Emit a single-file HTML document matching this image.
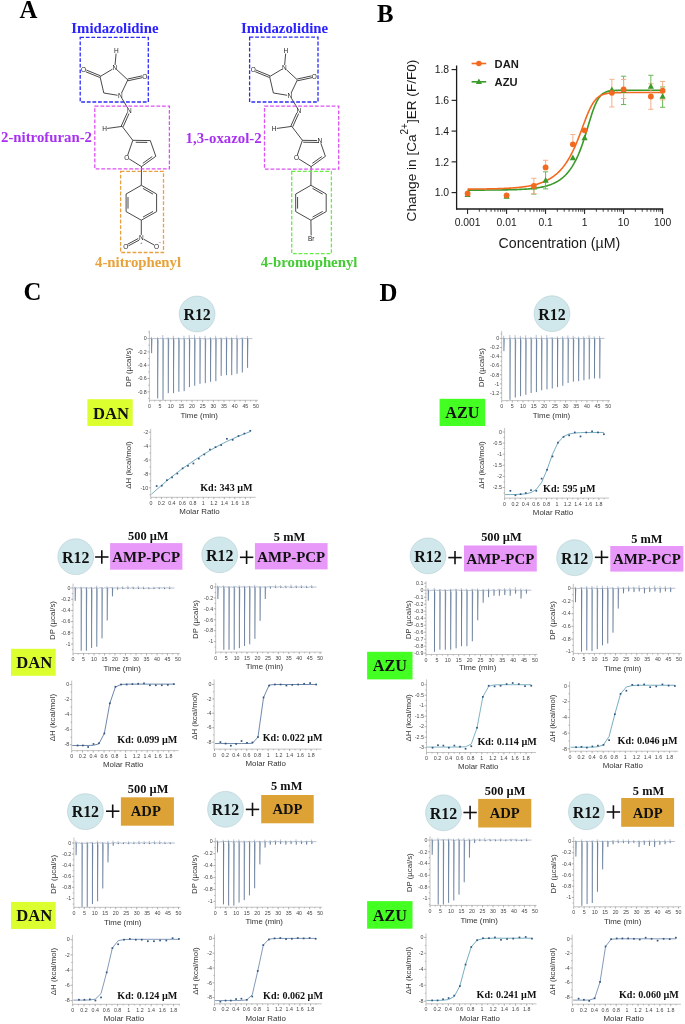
<!DOCTYPE html><html><head><meta charset="utf-8"><style>html,body{margin:0;padding:0;background:#fff;}svg{display:block;will-change:transform}</style></head><body>
<svg width="685" height="1024" viewBox="0 0 685 1024">
<rect width="685" height="1024" fill="#fff"/>
<text x="19.6" y="17.5" font-family='"Liberation Serif", serif' font-size="24.8" font-weight="bold" fill="#000" text-anchor="start" >A</text>
<text x="377" y="21.8" font-family='"Liberation Serif", serif' font-size="24.8" font-weight="bold" fill="#000" text-anchor="start" >B</text>
<text x="23.6" y="299.8" font-family='"Liberation Serif", serif' font-size="24.8" font-weight="bold" fill="#000" text-anchor="start" >C</text>
<text x="379.6" y="301.1" font-family='"Liberation Serif", serif' font-size="24.8" font-weight="bold" fill="#000" text-anchor="start" >D</text>
<text x="71.3" y="32.6" font-family='"Liberation Serif", serif' font-size="14.8" font-weight="bold" fill="#2b22ff" text-anchor="start" >Imidazolidine</text>
<text x="241" y="32.7" font-family='"Liberation Serif", serif' font-size="14.8" font-weight="bold" fill="#2b22ff" text-anchor="start" >Imidazolidine</text>
<text x="1" y="142.3" font-family='"Liberation Serif", serif' font-size="14.8" font-weight="bold" fill="#a830f0" text-anchor="start" >2-nitrofuran-2</text>
<text x="185.6" y="142.7" font-family='"Liberation Serif", serif' font-size="14.8" font-weight="bold" fill="#a830f0" text-anchor="start" >1,3-oxazol-2</text>
<text x="95" y="266.9" font-family='"Liberation Serif", serif' font-size="14.8" font-weight="bold" fill="#e8a23a" text-anchor="start" >4-nitrophenyl</text>
<text x="260.7" y="267" font-family='"Liberation Serif", serif' font-size="14.8" font-weight="bold" fill="#44cc33" text-anchor="start" >4-bromophenyl</text>
<text x="116.3" y="53.34" font-family='"Liberation Sans", sans-serif' font-size="6.5" font-weight="normal" fill="#222" text-anchor="middle" >H</text>
<text x="114.8" y="70.14" font-family='"Liberation Sans", sans-serif' font-size="6.5" font-weight="normal" fill="#222" text-anchor="middle" >N</text>
<text x="83.6" y="72.24" font-family='"Liberation Sans", sans-serif' font-size="6.5" font-weight="normal" fill="#222" text-anchor="middle" >O</text>
<text x="144.8" y="78.54" font-family='"Liberation Sans", sans-serif' font-size="6.5" font-weight="normal" fill="#222" text-anchor="middle" >O</text>
<text x="120.3" y="98.04" font-family='"Liberation Sans", sans-serif' font-size="6.5" font-weight="normal" fill="#222" text-anchor="middle" >N</text>
<line x1="116.07" y1="53.59" x2="115.05" y2="65.01" stroke="#303030" stroke-width="0.88" />
<line x1="112.39" y1="69.23" x2="100" y2="76.6" stroke="#303030" stroke-width="0.88" />
<line x1="116.85" y1="69.71" x2="127.8" y2="79.9" stroke="#303030" stroke-width="0.88" />
<line x1="100.34" y1="75.77" x2="86.35" y2="70.05" stroke="#303030" stroke-width="0.88" />
<line x1="99.66" y1="77.43" x2="85.67" y2="71.72" stroke="#303030" stroke-width="0.88" />
<line x1="127.99" y1="80.78" x2="142.45" y2="77.63" stroke="#303030" stroke-width="0.88" />
<line x1="127.61" y1="79.02" x2="142.07" y2="75.87" stroke="#303030" stroke-width="0.88" />
<line x1="100" y1="76.6" x2="103.8" y2="93" stroke="#303030" stroke-width="0.88" />
<line x1="103.8" y1="93" x2="117.54" y2="95.25" stroke="#303030" stroke-width="0.88" />
<line x1="127.8" y1="79.9" x2="121.5" y2="93.17" stroke="#303030" stroke-width="0.88" />
<text x="129.3" y="112.94" font-family='"Liberation Sans", sans-serif' font-size="6.5" font-weight="normal" fill="#222" text-anchor="middle" >N</text>
<text x="104.6" y="131.14" font-family='"Liberation Sans", sans-serif' font-size="6.5" font-weight="normal" fill="#222" text-anchor="middle" >H</text>
<line x1="121.75" y1="98.1" x2="127.85" y2="108.2" stroke="#303030" stroke-width="0.88" />
<line x1="127.24" y1="112.74" x2="121.29" y2="125.99" stroke="#303030" stroke-width="0.88" />
<line x1="129.06" y1="113.56" x2="123.11" y2="126.81" stroke="#303030" stroke-width="0.88" />
<line x1="122.2" y1="126.4" x2="107.18" y2="128.45" stroke="#303030" stroke-width="0.88" />
<line x1="122.2" y1="126.4" x2="132.8" y2="140.3" stroke="#303030" stroke-width="0.88" />
<text x="126.9" y="159.84" font-family='"Liberation Sans", sans-serif' font-size="6.5" font-weight="normal" fill="#222" text-anchor="middle" >O</text>
<line x1="132.8" y1="140.3" x2="150.3" y2="140.6" stroke="#303030" stroke-width="0.88" />
<line x1="135.74" y1="142.25" x2="147.29" y2="142.45" stroke="#303030" stroke-width="0.88" />
<line x1="150.3" y1="140.6" x2="155.8" y2="156.3" stroke="#303030" stroke-width="0.88" />
<line x1="155.8" y1="156.3" x2="141.5" y2="166.6" stroke="#303030" stroke-width="0.88" />
<line x1="152.26" y1="156.51" x2="142.82" y2="163.31" stroke="#303030" stroke-width="0.88" />
<line x1="141.5" y1="166.6" x2="129.11" y2="158.88" stroke="#303030" stroke-width="0.88" />
<line x1="127.74" y1="155.04" x2="132.8" y2="140.3" stroke="#303030" stroke-width="0.88" />
<line x1="141.5" y1="166.6" x2="141.3" y2="185.3" stroke="#303030" stroke-width="0.88" />
<line x1="141.3" y1="185.3" x2="156.6" y2="194" stroke="#303030" stroke-width="0.88" />
<line x1="156.6" y1="194" x2="156.6" y2="211.6" stroke="#303030" stroke-width="0.88" />
<line x1="156.6" y1="211.6" x2="141.3" y2="220.2" stroke="#303030" stroke-width="0.88" />
<line x1="141.3" y1="220.2" x2="126.1" y2="211.6" stroke="#303030" stroke-width="0.88" />
<line x1="126.1" y1="211.6" x2="126.1" y2="194" stroke="#303030" stroke-width="0.88" />
<line x1="126.1" y1="194" x2="141.3" y2="185.3" stroke="#303030" stroke-width="0.88" />
<line x1="142.96" y1="188.43" x2="153.06" y2="194.17" stroke="#303030" stroke-width="0.88" />
<line x1="153.07" y1="211.41" x2="142.97" y2="217.08" stroke="#303030" stroke-width="0.88" />
<line x1="128" y1="208.61" x2="128" y2="196.99" stroke="#303030" stroke-width="0.88" />
<line x1="141.3" y1="220.2" x2="141.3" y2="234.9" stroke="#303030" stroke-width="0.88" />
<text x="141.3" y="240.24" font-family='"Liberation Sans", sans-serif' font-size="6.5" font-weight="normal" fill="#222" text-anchor="middle" >N</text>
<text x="125.7" y="248.64" font-family='"Liberation Sans", sans-serif' font-size="6.5" font-weight="normal" fill="#222" text-anchor="middle" >O</text>
<text x="156.5" y="248.64" font-family='"Liberation Sans", sans-serif' font-size="6.5" font-weight="normal" fill="#222" text-anchor="middle" >O</text>
<text x="141.3" y="243.9" font-family='"Liberation Sans", sans-serif' font-size="4.2" font-weight="normal" fill="#333" text-anchor="middle" >+</text>
<text x="159.9" y="244.3" font-family='"Liberation Sans", sans-serif' font-size="4.2" font-weight="normal" fill="#333" text-anchor="middle" >−</text>
<line x1="138.32" y1="238.48" x2="127.56" y2="244.27" stroke="#303030" stroke-width="0.88" />
<line x1="139.17" y1="240.07" x2="128.42" y2="245.86" stroke="#303030" stroke-width="0.88" />
<line x1="143.84" y1="239.3" x2="154.22" y2="245.04" stroke="#303030" stroke-width="0.88" />
<text x="285.9" y="53.34" font-family='"Liberation Sans", sans-serif' font-size="6.5" font-weight="normal" fill="#222" text-anchor="middle" >H</text>
<text x="284.4" y="70.14" font-family='"Liberation Sans", sans-serif' font-size="6.5" font-weight="normal" fill="#222" text-anchor="middle" >N</text>
<text x="253.2" y="72.24" font-family='"Liberation Sans", sans-serif' font-size="6.5" font-weight="normal" fill="#222" text-anchor="middle" >O</text>
<text x="314.4" y="78.54" font-family='"Liberation Sans", sans-serif' font-size="6.5" font-weight="normal" fill="#222" text-anchor="middle" >O</text>
<text x="289.9" y="98.04" font-family='"Liberation Sans", sans-serif' font-size="6.5" font-weight="normal" fill="#222" text-anchor="middle" >N</text>
<line x1="285.67" y1="53.59" x2="284.65" y2="65.01" stroke="#303030" stroke-width="0.88" />
<line x1="281.99" y1="69.23" x2="269.6" y2="76.6" stroke="#303030" stroke-width="0.88" />
<line x1="286.45" y1="69.71" x2="297.4" y2="79.9" stroke="#303030" stroke-width="0.88" />
<line x1="269.94" y1="75.77" x2="255.95" y2="70.05" stroke="#303030" stroke-width="0.88" />
<line x1="269.26" y1="77.43" x2="255.27" y2="71.72" stroke="#303030" stroke-width="0.88" />
<line x1="297.59" y1="80.78" x2="312.05" y2="77.63" stroke="#303030" stroke-width="0.88" />
<line x1="297.21" y1="79.02" x2="311.67" y2="75.87" stroke="#303030" stroke-width="0.88" />
<line x1="269.6" y1="76.6" x2="273.4" y2="93" stroke="#303030" stroke-width="0.88" />
<line x1="273.4" y1="93" x2="287.14" y2="95.25" stroke="#303030" stroke-width="0.88" />
<line x1="297.4" y1="79.9" x2="291.1" y2="93.17" stroke="#303030" stroke-width="0.88" />
<text x="298.9" y="112.94" font-family='"Liberation Sans", sans-serif' font-size="6.5" font-weight="normal" fill="#222" text-anchor="middle" >N</text>
<text x="274.2" y="131.14" font-family='"Liberation Sans", sans-serif' font-size="6.5" font-weight="normal" fill="#222" text-anchor="middle" >H</text>
<line x1="291.35" y1="98.1" x2="297.45" y2="108.2" stroke="#303030" stroke-width="0.88" />
<line x1="296.84" y1="112.74" x2="290.89" y2="125.99" stroke="#303030" stroke-width="0.88" />
<line x1="298.66" y1="113.56" x2="292.71" y2="126.81" stroke="#303030" stroke-width="0.88" />
<line x1="291.8" y1="126.4" x2="276.78" y2="128.45" stroke="#303030" stroke-width="0.88" />
<line x1="291.8" y1="126.4" x2="302.4" y2="140.3" stroke="#303030" stroke-width="0.88" />
<text x="296.5" y="159.84" font-family='"Liberation Sans", sans-serif' font-size="6.5" font-weight="normal" fill="#222" text-anchor="middle" >O</text>
<text x="319.9" y="142.94" font-family='"Liberation Sans", sans-serif' font-size="6.5" font-weight="normal" fill="#222" text-anchor="middle" >N</text>
<line x1="302.4" y1="140.3" x2="317.1" y2="140.55" stroke="#303030" stroke-width="0.88" />
<line x1="303.24" y1="142.21" x2="318.99" y2="142.48" stroke="#303030" stroke-width="0.88" />
<line x1="303.4" y1="142" x2="317.1" y2="142.3" stroke="#303030" stroke-width="0" />
<line x1="320.83" y1="143.24" x2="325.4" y2="156.3" stroke="#303030" stroke-width="0.88" />
<line x1="325.4" y1="156.3" x2="311.1" y2="166.6" stroke="#303030" stroke-width="0.88" />
<line x1="321.86" y1="156.51" x2="312.42" y2="163.31" stroke="#303030" stroke-width="0.88" />
<line x1="311.1" y1="166.6" x2="298.71" y2="158.88" stroke="#303030" stroke-width="0.88" />
<line x1="297.34" y1="155.04" x2="302.4" y2="140.3" stroke="#303030" stroke-width="0.88" />
<line x1="311.1" y1="166.6" x2="310.9" y2="185.3" stroke="#303030" stroke-width="0.88" />
<line x1="310.9" y1="185.3" x2="326.2" y2="194" stroke="#303030" stroke-width="0.88" />
<line x1="326.2" y1="194" x2="326.2" y2="211.6" stroke="#303030" stroke-width="0.88" />
<line x1="326.2" y1="211.6" x2="310.9" y2="220.2" stroke="#303030" stroke-width="0.88" />
<line x1="310.9" y1="220.2" x2="295.7" y2="211.6" stroke="#303030" stroke-width="0.88" />
<line x1="295.7" y1="211.6" x2="295.7" y2="194" stroke="#303030" stroke-width="0.88" />
<line x1="295.7" y1="194" x2="310.9" y2="185.3" stroke="#303030" stroke-width="0.88" />
<line x1="312.56" y1="188.43" x2="322.66" y2="194.17" stroke="#303030" stroke-width="0.88" />
<line x1="322.67" y1="211.41" x2="312.57" y2="217.08" stroke="#303030" stroke-width="0.88" />
<line x1="297.6" y1="208.61" x2="297.6" y2="196.99" stroke="#303030" stroke-width="0.88" />
<line x1="310.9" y1="220.2" x2="311.15" y2="235.4" stroke="#303030" stroke-width="0.88" />
<text x="311.2" y="241.14" font-family='"Liberation Sans", sans-serif' font-size="6.5" font-weight="normal" fill="#222" text-anchor="middle" >Br</text>
<rect x="80.2" y="37.4" width="68.1" height="64.6" fill="none" stroke="#2c2cfa" stroke-width="1.3" stroke-dasharray="3.8 1.8"/>
<rect x="249.6" y="37.2" width="68.4" height="64.8" fill="none" stroke="#2c2cfa" stroke-width="1.3" stroke-dasharray="3.8 1.8"/>
<rect x="94.8" y="106.2" width="74.6" height="62.7" fill="none" stroke="#dc52f4" stroke-width="1.3" stroke-dasharray="3.8 1.8"/>
<rect x="264.5" y="106.2" width="74.2" height="63" fill="none" stroke="#dc52f4" stroke-width="1.3" stroke-dasharray="3.8 1.8"/>
<rect x="120.6" y="171.4" width="42.9" height="81.1" fill="none" stroke="#e8a040" stroke-width="1.3" stroke-dasharray="3.8 1.8"/>
<rect x="291.7" y="171.3" width="39.7" height="82.4" fill="none" stroke="#66ee44" stroke-width="1.3" stroke-dasharray="3.8 1.8"/>
<line x1="456.6" y1="65.5" x2="456.6" y2="209.6" stroke="#1a1a1a" stroke-width="1.3" />
<line x1="456" y1="209" x2="663.2" y2="209" stroke="#1a1a1a" stroke-width="1.3" />
<line x1="451.6" y1="192.6" x2="456.6" y2="192.6" stroke="#1a1a1a" stroke-width="1.1" />
<text x="449.1" y="196.3" font-family='"Liberation Sans", sans-serif' font-size="10.4" font-weight="normal" fill="#1a1a1a" text-anchor="end" >1.0</text>
<line x1="451.6" y1="161.85" x2="456.6" y2="161.85" stroke="#1a1a1a" stroke-width="1.1" />
<text x="449.1" y="165.55" font-family='"Liberation Sans", sans-serif' font-size="10.4" font-weight="normal" fill="#1a1a1a" text-anchor="end" >1.2</text>
<line x1="451.6" y1="131.1" x2="456.6" y2="131.1" stroke="#1a1a1a" stroke-width="1.1" />
<text x="449.1" y="134.8" font-family='"Liberation Sans", sans-serif' font-size="10.4" font-weight="normal" fill="#1a1a1a" text-anchor="end" >1.4</text>
<line x1="451.6" y1="100.35" x2="456.6" y2="100.35" stroke="#1a1a1a" stroke-width="1.1" />
<text x="449.1" y="104.05" font-family='"Liberation Sans", sans-serif' font-size="10.4" font-weight="normal" fill="#1a1a1a" text-anchor="end" >1.6</text>
<line x1="451.6" y1="69.6" x2="456.6" y2="69.6" stroke="#1a1a1a" stroke-width="1.1" />
<text x="449.1" y="73.3" font-family='"Liberation Sans", sans-serif' font-size="10.4" font-weight="normal" fill="#1a1a1a" text-anchor="end" >1.8</text>
<line x1="467.6" y1="209" x2="467.6" y2="214" stroke="#1a1a1a" stroke-width="1" />
<line x1="479.34" y1="209" x2="479.34" y2="211.8" stroke="#1a1a1a" stroke-width="0.8" />
<line x1="486.21" y1="209" x2="486.21" y2="211.8" stroke="#1a1a1a" stroke-width="0.8" />
<line x1="491.08" y1="209" x2="491.08" y2="211.8" stroke="#1a1a1a" stroke-width="0.8" />
<line x1="494.86" y1="209" x2="494.86" y2="211.8" stroke="#1a1a1a" stroke-width="0.8" />
<line x1="497.95" y1="209" x2="497.95" y2="211.8" stroke="#1a1a1a" stroke-width="0.8" />
<line x1="500.56" y1="209" x2="500.56" y2="211.8" stroke="#1a1a1a" stroke-width="0.8" />
<line x1="502.82" y1="209" x2="502.82" y2="211.8" stroke="#1a1a1a" stroke-width="0.8" />
<line x1="504.82" y1="209" x2="504.82" y2="211.8" stroke="#1a1a1a" stroke-width="0.8" />
<line x1="506.6" y1="209" x2="506.6" y2="214" stroke="#1a1a1a" stroke-width="1" />
<line x1="518.34" y1="209" x2="518.34" y2="211.8" stroke="#1a1a1a" stroke-width="0.8" />
<line x1="525.21" y1="209" x2="525.21" y2="211.8" stroke="#1a1a1a" stroke-width="0.8" />
<line x1="530.08" y1="209" x2="530.08" y2="211.8" stroke="#1a1a1a" stroke-width="0.8" />
<line x1="533.86" y1="209" x2="533.86" y2="211.8" stroke="#1a1a1a" stroke-width="0.8" />
<line x1="536.95" y1="209" x2="536.95" y2="211.8" stroke="#1a1a1a" stroke-width="0.8" />
<line x1="539.56" y1="209" x2="539.56" y2="211.8" stroke="#1a1a1a" stroke-width="0.8" />
<line x1="541.82" y1="209" x2="541.82" y2="211.8" stroke="#1a1a1a" stroke-width="0.8" />
<line x1="543.82" y1="209" x2="543.82" y2="211.8" stroke="#1a1a1a" stroke-width="0.8" />
<line x1="545.6" y1="209" x2="545.6" y2="214" stroke="#1a1a1a" stroke-width="1" />
<line x1="557.34" y1="209" x2="557.34" y2="211.8" stroke="#1a1a1a" stroke-width="0.8" />
<line x1="564.21" y1="209" x2="564.21" y2="211.8" stroke="#1a1a1a" stroke-width="0.8" />
<line x1="569.08" y1="209" x2="569.08" y2="211.8" stroke="#1a1a1a" stroke-width="0.8" />
<line x1="572.86" y1="209" x2="572.86" y2="211.8" stroke="#1a1a1a" stroke-width="0.8" />
<line x1="575.95" y1="209" x2="575.95" y2="211.8" stroke="#1a1a1a" stroke-width="0.8" />
<line x1="578.56" y1="209" x2="578.56" y2="211.8" stroke="#1a1a1a" stroke-width="0.8" />
<line x1="580.82" y1="209" x2="580.82" y2="211.8" stroke="#1a1a1a" stroke-width="0.8" />
<line x1="582.82" y1="209" x2="582.82" y2="211.8" stroke="#1a1a1a" stroke-width="0.8" />
<line x1="584.6" y1="209" x2="584.6" y2="214" stroke="#1a1a1a" stroke-width="1" />
<line x1="596.34" y1="209" x2="596.34" y2="211.8" stroke="#1a1a1a" stroke-width="0.8" />
<line x1="603.21" y1="209" x2="603.21" y2="211.8" stroke="#1a1a1a" stroke-width="0.8" />
<line x1="608.08" y1="209" x2="608.08" y2="211.8" stroke="#1a1a1a" stroke-width="0.8" />
<line x1="611.86" y1="209" x2="611.86" y2="211.8" stroke="#1a1a1a" stroke-width="0.8" />
<line x1="614.95" y1="209" x2="614.95" y2="211.8" stroke="#1a1a1a" stroke-width="0.8" />
<line x1="617.56" y1="209" x2="617.56" y2="211.8" stroke="#1a1a1a" stroke-width="0.8" />
<line x1="619.82" y1="209" x2="619.82" y2="211.8" stroke="#1a1a1a" stroke-width="0.8" />
<line x1="621.82" y1="209" x2="621.82" y2="211.8" stroke="#1a1a1a" stroke-width="0.8" />
<line x1="623.6" y1="209" x2="623.6" y2="214" stroke="#1a1a1a" stroke-width="1" />
<line x1="635.34" y1="209" x2="635.34" y2="211.8" stroke="#1a1a1a" stroke-width="0.8" />
<line x1="642.21" y1="209" x2="642.21" y2="211.8" stroke="#1a1a1a" stroke-width="0.8" />
<line x1="647.08" y1="209" x2="647.08" y2="211.8" stroke="#1a1a1a" stroke-width="0.8" />
<line x1="650.86" y1="209" x2="650.86" y2="211.8" stroke="#1a1a1a" stroke-width="0.8" />
<line x1="653.95" y1="209" x2="653.95" y2="211.8" stroke="#1a1a1a" stroke-width="0.8" />
<line x1="656.56" y1="209" x2="656.56" y2="211.8" stroke="#1a1a1a" stroke-width="0.8" />
<line x1="658.82" y1="209" x2="658.82" y2="211.8" stroke="#1a1a1a" stroke-width="0.8" />
<line x1="660.82" y1="209" x2="660.82" y2="211.8" stroke="#1a1a1a" stroke-width="0.8" />
<line x1="662.6" y1="209" x2="662.6" y2="214" stroke="#1a1a1a" stroke-width="1" />
<text x="467.6" y="226.4" font-family='"Liberation Sans", sans-serif' font-size="10.3" font-weight="normal" fill="#1a1a1a" text-anchor="middle" >0.001</text>
<text x="506.6" y="226.4" font-family='"Liberation Sans", sans-serif' font-size="10.3" font-weight="normal" fill="#1a1a1a" text-anchor="middle" >0.01</text>
<text x="545.6" y="226.4" font-family='"Liberation Sans", sans-serif' font-size="10.3" font-weight="normal" fill="#1a1a1a" text-anchor="middle" >0.1</text>
<text x="584.6" y="226.4" font-family='"Liberation Sans", sans-serif' font-size="10.3" font-weight="normal" fill="#1a1a1a" text-anchor="middle" >1</text>
<text x="623.6" y="226.4" font-family='"Liberation Sans", sans-serif' font-size="10.3" font-weight="normal" fill="#1a1a1a" text-anchor="middle" >10</text>
<text x="662.6" y="226.4" font-family='"Liberation Sans", sans-serif' font-size="10.3" font-weight="normal" fill="#1a1a1a" text-anchor="middle" >100</text>
<text x="559.4" y="247.6" font-family='"Liberation Sans", sans-serif' font-size="14.2" font-weight="normal" fill="#1a1a1a" text-anchor="middle" >Concentration (µM)</text>
<g transform="translate(416.0,140.5) rotate(-90)"><text x="0" y="0" font-family='"Liberation Sans", sans-serif' font-size="13.6" fill="#1a1a1a" text-anchor="middle">Change in [Ca<tspan font-size="10" dy="-8.3">2+</tspan><tspan dy="8.3">]ER (F/F0)</tspan></text></g>
<path d="M467.6 190.12 L468.58 190.12 L469.55 190.12 L470.53 190.11 L471.5 190.11 L472.48 190.11 L473.45 190.11 L474.43 190.11 L475.4 190.1 L476.38 190.1 L477.35 190.1 L478.33 190.1 L479.3 190.09 L480.28 190.09 L481.25 190.09 L482.23 190.08 L483.2 190.08 L484.18 190.08 L485.15 190.07 L486.12 190.07 L487.1 190.06 L488.08 190.06 L489.05 190.05 L490.03 190.05 L491 190.04 L491.98 190.03 L492.95 190.03 L493.93 190.02 L494.9 190.01 L495.88 190 L496.85 189.99 L497.83 189.98 L498.8 189.97 L499.78 189.96 L500.75 189.95 L501.73 189.93 L502.7 189.92 L503.68 189.9 L504.65 189.89 L505.62 189.87 L506.6 189.85 L507.58 189.83 L508.55 189.81 L509.53 189.79 L510.5 189.77 L511.48 189.74 L512.45 189.72 L513.43 189.69 L514.4 189.66 L515.38 189.62 L516.35 189.59 L517.33 189.55 L518.3 189.51 L519.27 189.47 L520.25 189.42 L521.23 189.37 L522.2 189.32 L523.18 189.27 L524.15 189.21 L525.12 189.14 L526.1 189.08 L527.08 189 L528.05 188.93 L529.02 188.84 L530 188.76 L530.98 188.66 L531.95 188.56 L532.93 188.46 L533.9 188.34 L534.88 188.22 L535.85 188.09 L536.83 187.95 L537.8 187.8 L538.77 187.64 L539.75 187.47 L540.73 187.29 L541.7 187.1 L542.68 186.89 L543.65 186.67 L544.62 186.44 L545.6 186.19 L546.58 185.92 L547.55 185.63 L548.52 185.33 L549.5 185 L550.48 184.65 L551.45 184.28 L552.43 183.88 L553.4 183.46 L554.38 183 L555.35 182.52 L556.33 182 L557.3 181.45 L558.27 180.86 L559.25 180.23 L560.23 179.56 L561.2 178.84 L562.18 178.08 L563.15 177.26 L564.12 176.39 L565.1 175.46 L566.08 174.46 L567.05 173.4 L568.02 172.27 L569 171.06 L569.98 169.78 L570.95 168.4 L571.93 166.94 L572.9 165.38 L573.88 163.72 L574.85 161.95 L575.83 160.07 L576.8 158.07 L577.77 155.96 L578.75 153.71 L579.73 151.34 L580.7 148.84 L581.68 146.2 L582.65 143.44 L583.62 140.56 L584.6 137.57 L585.58 134.48 L586.55 131.31 L587.52 128.09 L588.5 124.84 L589.48 121.6 L590.45 118.42 L591.43 115.32 L592.4 112.35 L593.38 109.55 L594.35 106.95 L595.33 104.56 L596.3 102.42 L597.27 100.51 L598.25 98.83 L599.23 97.39 L600.2 96.15 L601.18 95.1 L602.15 94.22 L603.12 93.48 L604.1 92.87 L605.08 92.37 L606.05 91.96 L607.02 91.63 L608 91.35 L608.98 91.13 L609.95 90.95 L610.93 90.81 L611.9 90.69 L612.88 90.6 L613.85 90.52 L614.83 90.46 L615.8 90.41 L616.77 90.37 L617.75 90.33 L618.73 90.31 L619.7 90.29 L620.68 90.27 L621.65 90.26 L622.62 90.25 L623.6 90.24 L624.58 90.23 L625.55 90.23 L626.52 90.22 L627.5 90.22 L628.48 90.21 L629.45 90.21 L630.43 90.21 L631.4 90.21 L632.38 90.21 L633.35 90.21 L634.33 90.21 L635.3 90.21 L636.27 90.2 L637.25 90.2 L638.23 90.2 L639.2 90.2 L640.18 90.2 L641.15 90.2 L642.12 90.2 L643.1 90.2 L644.08 90.2 L645.05 90.2 L646.02 90.2 L647 90.2 L647.98 90.2 L648.95 90.2 L649.92 90.2 L650.9 90.2 L651.88 90.2 L652.85 90.2 L653.83 90.2 L654.8 90.2 L655.78 90.2 L656.75 90.2 L657.73 90.2 L658.7 90.2 L659.67 90.2 L660.65 90.2 L661.62 90.2 L662.6 90.2" stroke="#3a9a2a" stroke-width="1.6" fill="none" />
<path d="M467.6 189.12 L468.58 189.11 L469.55 189.11 L470.53 189.1 L471.5 189.09 L472.48 189.09 L473.45 189.08 L474.43 189.07 L475.4 189.06 L476.38 189.05 L477.35 189.05 L478.33 189.04 L479.3 189.03 L480.28 189.01 L481.25 189 L482.23 188.99 L483.2 188.98 L484.18 188.96 L485.15 188.95 L486.12 188.93 L487.1 188.92 L488.08 188.9 L489.05 188.88 L490.03 188.86 L491 188.84 L491.98 188.82 L492.95 188.8 L493.93 188.78 L494.9 188.75 L495.88 188.73 L496.85 188.7 L497.83 188.67 L498.8 188.64 L499.78 188.6 L500.75 188.57 L501.73 188.53 L502.7 188.49 L503.68 188.45 L504.65 188.41 L505.62 188.36 L506.6 188.31 L507.58 188.26 L508.55 188.21 L509.53 188.15 L510.5 188.09 L511.48 188.03 L512.45 187.96 L513.43 187.89 L514.4 187.81 L515.38 187.73 L516.35 187.65 L517.33 187.56 L518.3 187.46 L519.27 187.36 L520.25 187.26 L521.23 187.15 L522.2 187.03 L523.18 186.91 L524.15 186.77 L525.12 186.63 L526.1 186.49 L527.08 186.33 L528.05 186.17 L529.02 186 L530 185.81 L530.98 185.62 L531.95 185.41 L532.93 185.2 L533.9 184.97 L534.88 184.73 L535.85 184.47 L536.83 184.2 L537.8 183.92 L538.77 183.62 L539.75 183.3 L540.73 182.96 L541.7 182.61 L542.68 182.23 L543.65 181.84 L544.62 181.42 L545.6 180.98 L546.58 180.51 L547.55 180.01 L548.52 179.49 L549.5 178.94 L550.48 178.35 L551.45 177.74 L552.43 177.08 L553.4 176.4 L554.38 175.67 L555.35 174.9 L556.33 174.09 L557.3 173.23 L558.27 172.33 L559.25 171.37 L560.23 170.36 L561.2 169.29 L562.18 168.17 L563.15 166.98 L564.12 165.73 L565.1 164.4 L566.08 163.01 L567.05 161.54 L568.02 160 L569 158.37 L569.98 156.67 L570.95 154.87 L571.93 152.99 L572.9 151.02 L573.88 148.96 L574.85 146.81 L575.83 144.57 L576.8 142.25 L577.77 139.85 L578.75 137.38 L579.73 134.84 L580.7 132.25 L581.68 129.63 L582.65 126.98 L583.62 124.34 L584.6 121.72 L585.58 119.14 L586.55 116.63 L587.52 114.21 L588.5 111.9 L589.48 109.72 L590.45 107.69 L591.43 105.81 L592.4 104.1 L593.38 102.55 L594.35 101.17 L595.33 99.94 L596.3 98.85 L597.27 97.91 L598.25 97.09 L599.23 96.38 L600.2 95.78 L601.18 95.26 L602.15 94.82 L603.12 94.45 L604.1 94.14 L605.08 93.87 L606.05 93.65 L607.02 93.46 L608 93.3 L608.98 93.17 L609.95 93.06 L610.93 92.97 L611.9 92.89 L612.88 92.83 L613.85 92.77 L614.83 92.73 L615.8 92.69 L616.77 92.66 L617.75 92.64 L618.73 92.61 L619.7 92.6 L620.68 92.58 L621.65 92.57 L622.62 92.56 L623.6 92.55 L624.58 92.54 L625.55 92.54 L626.52 92.53 L627.5 92.53 L628.48 92.53 L629.45 92.52 L630.43 92.52 L631.4 92.52 L632.38 92.52 L633.35 92.52 L634.33 92.51 L635.3 92.51 L636.27 92.51 L637.25 92.51 L638.23 92.51 L639.2 92.51 L640.18 92.51 L641.15 92.51 L642.12 92.51 L643.1 92.51 L644.08 92.51 L645.05 92.51 L646.02 92.51 L647 92.51 L647.98 92.51 L648.95 92.51 L649.92 92.51 L650.9 92.51 L651.88 92.51 L652.85 92.51 L653.83 92.51 L654.8 92.51 L655.78 92.51 L656.75 92.51 L657.73 92.51 L658.7 92.51 L659.67 92.51 L660.65 92.51 L661.62 92.51 L662.6 92.51" stroke="#f26a1f" stroke-width="1.6" fill="none" />
<line x1="533.86" y1="187.22" x2="533.86" y2="194.14" stroke="#6ab85a" stroke-width="1" />
<line x1="531.26" y1="194.14" x2="536.46" y2="194.14" stroke="#6ab85a" stroke-width="1" />
<line x1="545.6" y1="180.45" x2="545.6" y2="171.84" stroke="#6ab85a" stroke-width="1" />
<line x1="543" y1="171.84" x2="548.2" y2="171.84" stroke="#6ab85a" stroke-width="1" />
<line x1="545.6" y1="180.45" x2="545.6" y2="188.91" stroke="#6ab85a" stroke-width="1" />
<line x1="543" y1="188.91" x2="548.2" y2="188.91" stroke="#6ab85a" stroke-width="1" />
<line x1="623.6" y1="90.66" x2="623.6" y2="76.21" stroke="#6ab85a" stroke-width="1" />
<line x1="621" y1="76.21" x2="626.2" y2="76.21" stroke="#6ab85a" stroke-width="1" />
<line x1="623.6" y1="90.66" x2="623.6" y2="104.5" stroke="#6ab85a" stroke-width="1" />
<line x1="621" y1="104.5" x2="626.2" y2="104.5" stroke="#6ab85a" stroke-width="1" />
<line x1="650.86" y1="86.51" x2="650.86" y2="75.29" stroke="#6ab85a" stroke-width="1" />
<line x1="648.26" y1="75.29" x2="653.46" y2="75.29" stroke="#6ab85a" stroke-width="1" />
<line x1="662.6" y1="96.51" x2="662.6" y2="86.97" stroke="#6ab85a" stroke-width="1" />
<line x1="660" y1="86.97" x2="665.2" y2="86.97" stroke="#6ab85a" stroke-width="1" />
<line x1="662.6" y1="96.51" x2="662.6" y2="107.27" stroke="#6ab85a" stroke-width="1" />
<line x1="660" y1="107.27" x2="665.2" y2="107.27" stroke="#6ab85a" stroke-width="1" />
<line x1="533.86" y1="185.99" x2="533.86" y2="178.3" stroke="#f5b08a" stroke-width="1" />
<line x1="531.26" y1="178.3" x2="536.46" y2="178.3" stroke="#f5b08a" stroke-width="1" />
<line x1="533.86" y1="185.99" x2="533.86" y2="193.68" stroke="#f5b08a" stroke-width="1" />
<line x1="531.26" y1="193.68" x2="536.46" y2="193.68" stroke="#f5b08a" stroke-width="1" />
<line x1="545.6" y1="167.38" x2="545.6" y2="160.31" stroke="#f5b08a" stroke-width="1" />
<line x1="543" y1="160.31" x2="548.2" y2="160.31" stroke="#f5b08a" stroke-width="1" />
<line x1="572.86" y1="144.32" x2="572.86" y2="134.48" stroke="#f5b08a" stroke-width="1" />
<line x1="570.26" y1="134.48" x2="575.46" y2="134.48" stroke="#f5b08a" stroke-width="1" />
<line x1="611.86" y1="92.82" x2="611.86" y2="79.29" stroke="#f5b08a" stroke-width="1" />
<line x1="609.26" y1="79.29" x2="614.46" y2="79.29" stroke="#f5b08a" stroke-width="1" />
<line x1="611.86" y1="92.82" x2="611.86" y2="106.96" stroke="#f5b08a" stroke-width="1" />
<line x1="609.26" y1="106.96" x2="614.46" y2="106.96" stroke="#f5b08a" stroke-width="1" />
<line x1="623.6" y1="89.28" x2="623.6" y2="79.44" stroke="#f5b08a" stroke-width="1" />
<line x1="621" y1="79.44" x2="626.2" y2="79.44" stroke="#f5b08a" stroke-width="1" />
<line x1="623.6" y1="89.28" x2="623.6" y2="98.51" stroke="#f5b08a" stroke-width="1" />
<line x1="621" y1="98.51" x2="626.2" y2="98.51" stroke="#f5b08a" stroke-width="1" />
<line x1="650.86" y1="96.51" x2="650.86" y2="83.75" stroke="#f5b08a" stroke-width="1" />
<line x1="648.26" y1="83.75" x2="653.46" y2="83.75" stroke="#f5b08a" stroke-width="1" />
<line x1="650.86" y1="96.51" x2="650.86" y2="109.27" stroke="#f5b08a" stroke-width="1" />
<line x1="648.26" y1="109.27" x2="653.46" y2="109.27" stroke="#f5b08a" stroke-width="1" />
<line x1="662.6" y1="90.66" x2="662.6" y2="81.44" stroke="#f5b08a" stroke-width="1" />
<line x1="660" y1="81.44" x2="665.2" y2="81.44" stroke="#f5b08a" stroke-width="1" />
<line x1="662.6" y1="90.66" x2="662.6" y2="99.89" stroke="#f5b08a" stroke-width="1" />
<line x1="660" y1="99.89" x2="665.2" y2="99.89" stroke="#f5b08a" stroke-width="1" />
<path d="M467.6 191.51 L470.7 197.11 L464.5 197.11 Z" stroke="none" stroke-width="1" fill="#3a9a2a" />
<path d="M506.6 193.04 L509.7 198.64 L503.5 198.64 Z" stroke="none" stroke-width="1" fill="#3a9a2a" />
<path d="M533.86 183.82 L536.96 189.42 L530.76 189.42 Z" stroke="none" stroke-width="1" fill="#3a9a2a" />
<path d="M545.6 177.05 L548.7 182.65 L542.5 182.65 Z" stroke="none" stroke-width="1" fill="#3a9a2a" />
<path d="M572.86 154.61 L575.96 160.21 L569.76 160.21 Z" stroke="none" stroke-width="1" fill="#3a9a2a" />
<path d="M584.6 134.62 L587.7 140.22 L581.5 140.22 Z" stroke="none" stroke-width="1" fill="#3a9a2a" />
<path d="M611.86 86.5 L614.96 92.1 L608.76 92.1 Z" stroke="none" stroke-width="1" fill="#3a9a2a" />
<path d="M623.6 87.26 L626.7 92.86 L620.5 92.86 Z" stroke="none" stroke-width="1" fill="#3a9a2a" />
<path d="M650.86 83.11 L653.96 88.71 L647.76 88.71 Z" stroke="none" stroke-width="1" fill="#3a9a2a" />
<path d="M662.6 93.11 L665.7 98.71 L659.5 98.71 Z" stroke="none" stroke-width="1" fill="#3a9a2a" />
<circle cx="467.6" cy="193.52" r="2.9" fill="#f26a1f"/>
<circle cx="506.6" cy="195.37" r="2.9" fill="#f26a1f"/>
<circle cx="533.86" cy="185.99" r="2.9" fill="#f26a1f"/>
<circle cx="545.6" cy="167.38" r="2.9" fill="#f26a1f"/>
<circle cx="572.86" cy="144.32" r="2.9" fill="#f26a1f"/>
<circle cx="584.6" cy="130.33" r="2.9" fill="#f26a1f"/>
<circle cx="611.86" cy="92.82" r="2.9" fill="#f26a1f"/>
<circle cx="623.6" cy="89.28" r="2.9" fill="#f26a1f"/>
<circle cx="650.86" cy="96.51" r="2.9" fill="#f26a1f"/>
<circle cx="662.6" cy="90.66" r="2.9" fill="#f26a1f"/>
<line x1="471.6" y1="63.5" x2="486.2" y2="63.5" stroke="#f26a1f" stroke-width="1.6" />
<circle cx="478.9" cy="63.5" r="2.8" fill="#f26a1f"/>
<text x="494.6" y="67.6" font-family='"Liberation Sans", sans-serif' font-size="11.2" font-weight="bold" fill="#1a1a1a" text-anchor="start" >DAN</text>
<line x1="471.6" y1="81.8" x2="486.2" y2="81.8" stroke="#3a9a2a" stroke-width="1.6" />
<path d="M478.9 78.4 L482 84 L475.8 84 Z" stroke="none" stroke-width="1" fill="#3a9a2a" />
<text x="494.6" y="85.9" font-family='"Liberation Sans", sans-serif' font-size="11.2" font-weight="bold" fill="#1a1a1a" text-anchor="start" >AZU</text>
<circle cx="197.1" cy="314" r="17.9" fill="#d0e8ec" stroke="#b4ccd2" stroke-width="0.6"/>
<text x="197.1" y="319.8" font-family='"Liberation Serif", serif' font-size="15.9" font-weight="bold" fill="#111" text-anchor="middle" >R12</text>
<rect x="87.4" y="399.2" width="45.3" height="26.8" fill="#dcff30" stroke="none" stroke-width="1" />
<text x="111.05" y="418.58" font-family='"Liberation Serif", serif' font-size="16.6" font-weight="bold" fill="#111" text-anchor="middle" >DAN</text>
<line x1="149.4" y1="330.7" x2="149.4" y2="400.3" stroke="#c4c4c4" stroke-width="1" />
<line x1="149.4" y1="400.3" x2="258" y2="400.3" stroke="#c4c4c4" stroke-width="1" />
<line x1="147.5" y1="338.6" x2="149.4" y2="338.6" stroke="#7a7a7a" stroke-width="0.6" />
<text x="146.8" y="340.35" font-family='"Liberation Sans", sans-serif' font-size="5.3" font-weight="normal" fill="#444" text-anchor="end" >0</text>
<line x1="147.5" y1="351.9" x2="149.4" y2="351.9" stroke="#7a7a7a" stroke-width="0.6" />
<text x="146.8" y="353.65" font-family='"Liberation Sans", sans-serif' font-size="5.3" font-weight="normal" fill="#444" text-anchor="end" >-0.2</text>
<line x1="147.5" y1="365.2" x2="149.4" y2="365.2" stroke="#7a7a7a" stroke-width="0.6" />
<text x="146.8" y="366.95" font-family='"Liberation Sans", sans-serif' font-size="5.3" font-weight="normal" fill="#444" text-anchor="end" >-0.4</text>
<line x1="147.5" y1="378.5" x2="149.4" y2="378.5" stroke="#7a7a7a" stroke-width="0.6" />
<text x="146.8" y="380.25" font-family='"Liberation Sans", sans-serif' font-size="5.3" font-weight="normal" fill="#444" text-anchor="end" >-0.6</text>
<line x1="147.5" y1="391.8" x2="149.4" y2="391.8" stroke="#7a7a7a" stroke-width="0.6" />
<text x="146.8" y="393.55" font-family='"Liberation Sans", sans-serif' font-size="5.3" font-weight="normal" fill="#444" text-anchor="end" >-0.8</text>
<line x1="148.2" y1="345.25" x2="149.4" y2="345.25" stroke="#7a7a7a" stroke-width="0.5" />
<line x1="148.2" y1="358.55" x2="149.4" y2="358.55" stroke="#7a7a7a" stroke-width="0.5" />
<line x1="148.2" y1="371.85" x2="149.4" y2="371.85" stroke="#7a7a7a" stroke-width="0.5" />
<line x1="148.2" y1="385.15" x2="149.4" y2="385.15" stroke="#7a7a7a" stroke-width="0.5" />
<line x1="148.2" y1="398.45" x2="149.4" y2="398.45" stroke="#7a7a7a" stroke-width="0.5" />
<line x1="148.2" y1="331.95" x2="149.4" y2="331.95" stroke="#7a7a7a" stroke-width="0.5" />
<line x1="149.4" y1="400.3" x2="149.4" y2="402.2" stroke="#7a7a7a" stroke-width="0.6" />
<text x="149.4" y="407.9" font-family='"Liberation Sans", sans-serif' font-size="5.3" font-weight="normal" fill="#444" text-anchor="middle" >0</text>
<line x1="160.06" y1="400.3" x2="160.06" y2="402.2" stroke="#7a7a7a" stroke-width="0.6" />
<text x="160.06" y="407.9" font-family='"Liberation Sans", sans-serif' font-size="5.3" font-weight="normal" fill="#444" text-anchor="middle" >5</text>
<line x1="170.72" y1="400.3" x2="170.72" y2="402.2" stroke="#7a7a7a" stroke-width="0.6" />
<text x="170.72" y="407.9" font-family='"Liberation Sans", sans-serif' font-size="5.3" font-weight="normal" fill="#444" text-anchor="middle" >10</text>
<line x1="181.38" y1="400.3" x2="181.38" y2="402.2" stroke="#7a7a7a" stroke-width="0.6" />
<text x="181.38" y="407.9" font-family='"Liberation Sans", sans-serif' font-size="5.3" font-weight="normal" fill="#444" text-anchor="middle" >15</text>
<line x1="192.04" y1="400.3" x2="192.04" y2="402.2" stroke="#7a7a7a" stroke-width="0.6" />
<text x="192.04" y="407.9" font-family='"Liberation Sans", sans-serif' font-size="5.3" font-weight="normal" fill="#444" text-anchor="middle" >20</text>
<line x1="202.7" y1="400.3" x2="202.7" y2="402.2" stroke="#7a7a7a" stroke-width="0.6" />
<text x="202.7" y="407.9" font-family='"Liberation Sans", sans-serif' font-size="5.3" font-weight="normal" fill="#444" text-anchor="middle" >25</text>
<line x1="213.36" y1="400.3" x2="213.36" y2="402.2" stroke="#7a7a7a" stroke-width="0.6" />
<text x="213.36" y="407.9" font-family='"Liberation Sans", sans-serif' font-size="5.3" font-weight="normal" fill="#444" text-anchor="middle" >30</text>
<line x1="224.02" y1="400.3" x2="224.02" y2="402.2" stroke="#7a7a7a" stroke-width="0.6" />
<text x="224.02" y="407.9" font-family='"Liberation Sans", sans-serif' font-size="5.3" font-weight="normal" fill="#444" text-anchor="middle" >35</text>
<line x1="234.68" y1="400.3" x2="234.68" y2="402.2" stroke="#7a7a7a" stroke-width="0.6" />
<text x="234.68" y="407.9" font-family='"Liberation Sans", sans-serif' font-size="5.3" font-weight="normal" fill="#444" text-anchor="middle" >40</text>
<line x1="245.34" y1="400.3" x2="245.34" y2="402.2" stroke="#7a7a7a" stroke-width="0.6" />
<text x="245.34" y="407.9" font-family='"Liberation Sans", sans-serif' font-size="5.3" font-weight="normal" fill="#444" text-anchor="middle" >45</text>
<line x1="256" y1="400.3" x2="256" y2="402.2" stroke="#7a7a7a" stroke-width="0.6" />
<text x="256" y="407.9" font-family='"Liberation Sans", sans-serif' font-size="5.3" font-weight="normal" fill="#444" text-anchor="middle" >50</text>
<line x1="154.73" y1="400.3" x2="154.73" y2="401.5" stroke="#7a7a7a" stroke-width="0.5" />
<line x1="165.39" y1="400.3" x2="165.39" y2="401.5" stroke="#7a7a7a" stroke-width="0.5" />
<line x1="176.05" y1="400.3" x2="176.05" y2="401.5" stroke="#7a7a7a" stroke-width="0.5" />
<line x1="186.71" y1="400.3" x2="186.71" y2="401.5" stroke="#7a7a7a" stroke-width="0.5" />
<line x1="197.37" y1="400.3" x2="197.37" y2="401.5" stroke="#7a7a7a" stroke-width="0.5" />
<line x1="208.03" y1="400.3" x2="208.03" y2="401.5" stroke="#7a7a7a" stroke-width="0.5" />
<line x1="218.69" y1="400.3" x2="218.69" y2="401.5" stroke="#7a7a7a" stroke-width="0.5" />
<line x1="229.35" y1="400.3" x2="229.35" y2="401.5" stroke="#7a7a7a" stroke-width="0.5" />
<line x1="240.01" y1="400.3" x2="240.01" y2="401.5" stroke="#7a7a7a" stroke-width="0.5" />
<line x1="250.67" y1="400.3" x2="250.67" y2="401.5" stroke="#7a7a7a" stroke-width="0.5" />
<text x="199.3" y="417.5" font-family='"Liberation Sans", sans-serif' font-size="7.9" font-weight="normal" fill="#333" text-anchor="middle" >Time (min)</text>
<text transform="translate(131.25,367.5) rotate(-90)" x="0" y="0" font-family='"Liberation Sans", sans-serif' font-size="7.9" fill="#333" text-anchor="middle">DP (µcal/s)</text>
<path d="M150.04 338.6 L151.53 338.6 L152.7 338.63 L153.88 338.51 L155.05 338.67 L156.22 338.69 L157.61 338.6 L157.99 338.26 L159.16 338.84 L160.34 338.43 L161.51 338.41 L162.9 338.6 L163.28 338.58 L164.45 338.84 L165.62 338.58 L166.8 338.7 L168.18 338.6 L168.57 338.69 L169.74 338.86 L170.91 338.62 L172.08 338.77 L173.47 338.6 L173.85 338.29 L175.03 338.78 L176.2 338.66 L177.37 338.46 L178.76 338.6 L179.14 338.86 L180.31 338.58 L181.49 338.75 L182.66 338.87 L184.05 338.6 L184.43 338.89 L185.6 338.53 L186.77 338.81 L187.95 338.56 L189.33 338.6 L189.72 338.87 L190.89 338.32 L192.06 338.35 L193.23 338.4 L194.62 338.6 L195 338.56 L196.18 338.69 L197.35 338.46 L198.52 338.61 L199.91 338.6 L200.29 338.5 L201.46 338.66 L202.64 338.66 L203.81 338.88 L205.19 338.6 L205.58 338.9 L206.75 338.85 L207.92 338.94 L209.1 338.72 L210.48 338.6 L210.87 338.85 L212.04 338.93 L213.21 338.88 L214.38 338.65 L215.77 338.6 L216.15 338.4 L217.33 338.83 L218.5 338.65 L219.67 338.45 L221.06 338.6 L221.44 338.85 L222.61 338.94 L223.79 338.31 L224.96 338.81 L226.34 338.6 L226.73 338.36 L227.9 338.46 L229.07 338.79 L230.25 338.86 L231.63 338.6 L232.02 338.68 L233.19 338.28 L234.36 338.75 L235.53 338.48 L236.92 338.6 L237.3 338.94 L238.47 338.6 L239.65 338.95 L240.82 338.47 L242.21 338.6 L242.59 338.67 L243.76 338.27 L244.93 338.39 L246.11 338.54 L247.49 338.6 L252.38 338.6" stroke="#5b7393" stroke-width="0.45" fill="none" stroke-linejoin="round"/>
<path d="M151.53 338.6 L151.58 353.23 L152.78 339.19 Z" stroke="none" stroke-width="1" fill="#c5d0dd" />
<line x1="151.63" y1="338.6" x2="151.63" y2="353.23" stroke="#546d8e" stroke-width="0.85" />
<path d="M157.61 338.6 L157.66 398.45 L158.86 340.99 Z" stroke="none" stroke-width="1" fill="#c5d0dd" />
<line x1="157.71" y1="338.6" x2="157.71" y2="398.45" stroke="#546d8e" stroke-width="0.85" />
<path d="M162.9 338.6 L162.95 399.78 L164.15 341.05 Z" stroke="none" stroke-width="1" fill="#c5d0dd" />
<line x1="163" y1="338.6" x2="163" y2="399.78" stroke="#546d8e" stroke-width="0.85" />
<path d="M168.18 338.6 L168.23 393.13 L169.43 340.78 Z" stroke="none" stroke-width="1" fill="#c5d0dd" />
<line x1="168.28" y1="338.6" x2="168.28" y2="393.13" stroke="#546d8e" stroke-width="0.85" />
<path d="M173.47 338.6 L173.52 393.13 L174.72 340.78 Z" stroke="none" stroke-width="1" fill="#c5d0dd" />
<line x1="173.57" y1="338.6" x2="173.57" y2="393.13" stroke="#546d8e" stroke-width="0.85" />
<path d="M178.76 338.6 L178.81 391.8 L180.01 340.73 Z" stroke="none" stroke-width="1" fill="#c5d0dd" />
<line x1="178.86" y1="338.6" x2="178.86" y2="391.8" stroke="#546d8e" stroke-width="0.85" />
<path d="M184.05 338.6 L184.1 391.14 L185.3 340.7 Z" stroke="none" stroke-width="1" fill="#c5d0dd" />
<line x1="184.15" y1="338.6" x2="184.15" y2="391.14" stroke="#546d8e" stroke-width="0.85" />
<path d="M189.33 338.6 L189.38 387.15 L190.58 340.54 Z" stroke="none" stroke-width="1" fill="#c5d0dd" />
<line x1="189.43" y1="338.6" x2="189.43" y2="387.15" stroke="#546d8e" stroke-width="0.85" />
<path d="M194.62 338.6 L194.67 385.81 L195.87 340.49 Z" stroke="none" stroke-width="1" fill="#c5d0dd" />
<line x1="194.72" y1="338.6" x2="194.72" y2="385.81" stroke="#546d8e" stroke-width="0.85" />
<path d="M199.91 338.6 L199.96 383.82 L201.16 340.41 Z" stroke="none" stroke-width="1" fill="#c5d0dd" />
<line x1="200.01" y1="338.6" x2="200.01" y2="383.82" stroke="#546d8e" stroke-width="0.85" />
<path d="M205.19 338.6 L205.24 383.16 L206.44 340.38 Z" stroke="none" stroke-width="1" fill="#c5d0dd" />
<line x1="205.29" y1="338.6" x2="205.29" y2="383.16" stroke="#546d8e" stroke-width="0.85" />
<path d="M210.48 338.6 L210.53 381.83 L211.73 340.33 Z" stroke="none" stroke-width="1" fill="#c5d0dd" />
<line x1="210.58" y1="338.6" x2="210.58" y2="381.83" stroke="#546d8e" stroke-width="0.85" />
<path d="M215.77 338.6 L215.82 381.16 L217.02 340.3 Z" stroke="none" stroke-width="1" fill="#c5d0dd" />
<line x1="215.87" y1="338.6" x2="215.87" y2="381.16" stroke="#546d8e" stroke-width="0.85" />
<path d="M221.06 338.6 L221.11 375.84 L222.31 340.09 Z" stroke="none" stroke-width="1" fill="#c5d0dd" />
<line x1="221.16" y1="338.6" x2="221.16" y2="375.84" stroke="#546d8e" stroke-width="0.85" />
<path d="M226.34 338.6 L226.39 375.18 L227.59 340.06 Z" stroke="none" stroke-width="1" fill="#c5d0dd" />
<line x1="226.44" y1="338.6" x2="226.44" y2="375.18" stroke="#546d8e" stroke-width="0.85" />
<path d="M231.63 338.6 L231.68 375.18 L232.88 340.06 Z" stroke="none" stroke-width="1" fill="#c5d0dd" />
<line x1="231.73" y1="338.6" x2="231.73" y2="375.18" stroke="#546d8e" stroke-width="0.85" />
<path d="M236.92 338.6 L236.97 373.85 L238.17 340.01 Z" stroke="none" stroke-width="1" fill="#c5d0dd" />
<line x1="237.02" y1="338.6" x2="237.02" y2="373.85" stroke="#546d8e" stroke-width="0.85" />
<path d="M242.21 338.6 L242.26 372.52 L243.46 339.96 Z" stroke="none" stroke-width="1" fill="#c5d0dd" />
<line x1="242.31" y1="338.6" x2="242.31" y2="372.52" stroke="#546d8e" stroke-width="0.85" />
<path d="M247.49 338.6 L247.54 367.86 L248.74 339.77 Z" stroke="none" stroke-width="1" fill="#c5d0dd" />
<line x1="247.59" y1="338.6" x2="247.59" y2="367.86" stroke="#546d8e" stroke-width="0.85" />
<line x1="151.43" y1="338.6" x2="151.43" y2="336.83" stroke="#5b7393" stroke-width="0.45" />
<line x1="157.5" y1="338.6" x2="157.5" y2="337.24" stroke="#5b7393" stroke-width="0.45" />
<line x1="162.79" y1="338.6" x2="162.79" y2="335.01" stroke="#5b7393" stroke-width="0.45" />
<line x1="168.08" y1="338.6" x2="168.08" y2="337.04" stroke="#5b7393" stroke-width="0.45" />
<line x1="173.36" y1="338.6" x2="173.36" y2="335.79" stroke="#5b7393" stroke-width="0.45" />
<line x1="178.65" y1="338.6" x2="178.65" y2="337.33" stroke="#5b7393" stroke-width="0.45" />
<line x1="183.94" y1="338.6" x2="183.94" y2="335.69" stroke="#5b7393" stroke-width="0.45" />
<line x1="189.23" y1="338.6" x2="189.23" y2="335.15" stroke="#5b7393" stroke-width="0.45" />
<line x1="194.51" y1="338.6" x2="194.51" y2="335.08" stroke="#5b7393" stroke-width="0.45" />
<line x1="199.8" y1="338.6" x2="199.8" y2="336.47" stroke="#5b7393" stroke-width="0.45" />
<line x1="205.09" y1="338.6" x2="205.09" y2="335.76" stroke="#5b7393" stroke-width="0.45" />
<line x1="210.38" y1="338.6" x2="210.38" y2="337.01" stroke="#5b7393" stroke-width="0.45" />
<line x1="215.66" y1="338.6" x2="215.66" y2="335.69" stroke="#5b7393" stroke-width="0.45" />
<line x1="220.95" y1="338.6" x2="220.95" y2="337.25" stroke="#5b7393" stroke-width="0.45" />
<line x1="226.24" y1="338.6" x2="226.24" y2="336.41" stroke="#5b7393" stroke-width="0.45" />
<line x1="231.52" y1="338.6" x2="231.52" y2="337.29" stroke="#5b7393" stroke-width="0.45" />
<line x1="236.81" y1="338.6" x2="236.81" y2="335.29" stroke="#5b7393" stroke-width="0.45" />
<line x1="242.1" y1="338.6" x2="242.1" y2="337.22" stroke="#5b7393" stroke-width="0.45" />
<line x1="247.39" y1="338.6" x2="247.39" y2="335.93" stroke="#5b7393" stroke-width="0.45" />
<line x1="150.7" y1="428.8" x2="150.7" y2="497.3" stroke="#c4c4c4" stroke-width="1" />
<line x1="150.7" y1="497.3" x2="255.8" y2="497.3" stroke="#c4c4c4" stroke-width="1" />
<line x1="148.8" y1="432.2" x2="150.7" y2="432.2" stroke="#7a7a7a" stroke-width="0.6" />
<text x="148.1" y="433.95" font-family='"Liberation Sans", sans-serif' font-size="5.3" font-weight="normal" fill="#444" text-anchor="end" >-2</text>
<line x1="148.8" y1="446.1" x2="150.7" y2="446.1" stroke="#7a7a7a" stroke-width="0.6" />
<text x="148.1" y="447.85" font-family='"Liberation Sans", sans-serif' font-size="5.3" font-weight="normal" fill="#444" text-anchor="end" >-4</text>
<line x1="148.8" y1="460" x2="150.7" y2="460" stroke="#7a7a7a" stroke-width="0.6" />
<text x="148.1" y="461.75" font-family='"Liberation Sans", sans-serif' font-size="5.3" font-weight="normal" fill="#444" text-anchor="end" >-6</text>
<line x1="148.8" y1="473.9" x2="150.7" y2="473.9" stroke="#7a7a7a" stroke-width="0.6" />
<text x="148.1" y="475.65" font-family='"Liberation Sans", sans-serif' font-size="5.3" font-weight="normal" fill="#444" text-anchor="end" >-8</text>
<line x1="148.8" y1="487.8" x2="150.7" y2="487.8" stroke="#7a7a7a" stroke-width="0.6" />
<text x="148.1" y="489.55" font-family='"Liberation Sans", sans-serif' font-size="5.3" font-weight="normal" fill="#444" text-anchor="end" >-10</text>
<line x1="149.5" y1="439.15" x2="150.7" y2="439.15" stroke="#7a7a7a" stroke-width="0.5" />
<line x1="149.5" y1="453.05" x2="150.7" y2="453.05" stroke="#7a7a7a" stroke-width="0.5" />
<line x1="149.5" y1="466.95" x2="150.7" y2="466.95" stroke="#7a7a7a" stroke-width="0.5" />
<line x1="149.5" y1="480.85" x2="150.7" y2="480.85" stroke="#7a7a7a" stroke-width="0.5" />
<line x1="149.5" y1="494.75" x2="150.7" y2="494.75" stroke="#7a7a7a" stroke-width="0.5" />
<line x1="150.9" y1="497.3" x2="150.9" y2="499.2" stroke="#7a7a7a" stroke-width="0.6" />
<text x="150.9" y="504.9" font-family='"Liberation Sans", sans-serif' font-size="5.3" font-weight="normal" fill="#444" text-anchor="middle" >0</text>
<line x1="161.39" y1="497.3" x2="161.39" y2="499.2" stroke="#7a7a7a" stroke-width="0.6" />
<text x="161.39" y="504.9" font-family='"Liberation Sans", sans-serif' font-size="5.3" font-weight="normal" fill="#444" text-anchor="middle" >0.2</text>
<line x1="171.88" y1="497.3" x2="171.88" y2="499.2" stroke="#7a7a7a" stroke-width="0.6" />
<text x="171.88" y="504.9" font-family='"Liberation Sans", sans-serif' font-size="5.3" font-weight="normal" fill="#444" text-anchor="middle" >0.4</text>
<line x1="182.37" y1="497.3" x2="182.37" y2="499.2" stroke="#7a7a7a" stroke-width="0.6" />
<text x="182.37" y="504.9" font-family='"Liberation Sans", sans-serif' font-size="5.3" font-weight="normal" fill="#444" text-anchor="middle" >0.6</text>
<line x1="192.86" y1="497.3" x2="192.86" y2="499.2" stroke="#7a7a7a" stroke-width="0.6" />
<text x="192.86" y="504.9" font-family='"Liberation Sans", sans-serif' font-size="5.3" font-weight="normal" fill="#444" text-anchor="middle" >0.8</text>
<line x1="203.34" y1="497.3" x2="203.34" y2="499.2" stroke="#7a7a7a" stroke-width="0.6" />
<text x="203.34" y="504.9" font-family='"Liberation Sans", sans-serif' font-size="5.3" font-weight="normal" fill="#444" text-anchor="middle" >1</text>
<line x1="213.83" y1="497.3" x2="213.83" y2="499.2" stroke="#7a7a7a" stroke-width="0.6" />
<text x="213.83" y="504.9" font-family='"Liberation Sans", sans-serif' font-size="5.3" font-weight="normal" fill="#444" text-anchor="middle" >1.2</text>
<line x1="224.32" y1="497.3" x2="224.32" y2="499.2" stroke="#7a7a7a" stroke-width="0.6" />
<text x="224.32" y="504.9" font-family='"Liberation Sans", sans-serif' font-size="5.3" font-weight="normal" fill="#444" text-anchor="middle" >1.4</text>
<line x1="234.81" y1="497.3" x2="234.81" y2="499.2" stroke="#7a7a7a" stroke-width="0.6" />
<text x="234.81" y="504.9" font-family='"Liberation Sans", sans-serif' font-size="5.3" font-weight="normal" fill="#444" text-anchor="middle" >1.6</text>
<line x1="245.3" y1="497.3" x2="245.3" y2="499.2" stroke="#7a7a7a" stroke-width="0.6" />
<text x="245.3" y="504.9" font-family='"Liberation Sans", sans-serif' font-size="5.3" font-weight="normal" fill="#444" text-anchor="middle" >1.8</text>
<line x1="156.14" y1="497.3" x2="156.14" y2="498.5" stroke="#7a7a7a" stroke-width="0.5" />
<line x1="166.63" y1="497.3" x2="166.63" y2="498.5" stroke="#7a7a7a" stroke-width="0.5" />
<line x1="177.12" y1="497.3" x2="177.12" y2="498.5" stroke="#7a7a7a" stroke-width="0.5" />
<line x1="187.61" y1="497.3" x2="187.61" y2="498.5" stroke="#7a7a7a" stroke-width="0.5" />
<line x1="198.1" y1="497.3" x2="198.1" y2="498.5" stroke="#7a7a7a" stroke-width="0.5" />
<line x1="208.59" y1="497.3" x2="208.59" y2="498.5" stroke="#7a7a7a" stroke-width="0.5" />
<line x1="219.08" y1="497.3" x2="219.08" y2="498.5" stroke="#7a7a7a" stroke-width="0.5" />
<line x1="229.57" y1="497.3" x2="229.57" y2="498.5" stroke="#7a7a7a" stroke-width="0.5" />
<line x1="240.06" y1="497.3" x2="240.06" y2="498.5" stroke="#7a7a7a" stroke-width="0.5" />
<line x1="250.54" y1="497.3" x2="250.54" y2="498.5" stroke="#7a7a7a" stroke-width="0.5" />
<text x="199.5" y="514.1" font-family='"Liberation Sans", sans-serif' font-size="7.9" font-weight="normal" fill="#333" text-anchor="middle" >Molar Ratio</text>
<text transform="translate(131.45,465.05) rotate(-90)" x="0" y="0" font-family='"Liberation Sans", sans-serif' font-size="7.9" fill="#333" text-anchor="middle">ΔH (kcal/mol)</text>
<path d="M151.42 494.27 L156.67 489.55 L161.76 485.13 L166.9 480.81 L172.09 476.59 L177.33 472.49 L182.63 468.51 L187.98 464.65 L193.38 460.91 L198.83 457.31 L204.34 453.85 L209.9 450.52 L215.51 447.34 L221.18 444.32 L226.89 441.45 L232.66 438.74 L238.48 436.2 L244.36 433.83 L250.28 431.64" stroke="#5e9fb5" stroke-width="0.85" fill="none" stroke-linejoin="round"/>
<rect x="155.82" y="485.21" width="1.7" height="1.7" fill="#2f5680" stroke="none" stroke-width="1" />
<rect x="160.91" y="484.87" width="1.7" height="1.7" fill="#2f5680" stroke="none" stroke-width="1" />
<rect x="166.05" y="479.31" width="1.7" height="1.7" fill="#2f5680" stroke="none" stroke-width="1" />
<rect x="171.24" y="476.52" width="1.7" height="1.7" fill="#2f5680" stroke="none" stroke-width="1" />
<rect x="176.48" y="472.7" width="1.7" height="1.7" fill="#2f5680" stroke="none" stroke-width="1" />
<rect x="181.78" y="467.49" width="1.7" height="1.7" fill="#2f5680" stroke="none" stroke-width="1" />
<rect x="187.13" y="465.06" width="1.7" height="1.7" fill="#2f5680" stroke="none" stroke-width="1" />
<rect x="192.53" y="462.62" width="1.7" height="1.7" fill="#2f5680" stroke="none" stroke-width="1" />
<rect x="197.98" y="457.76" width="1.7" height="1.7" fill="#2f5680" stroke="none" stroke-width="1" />
<rect x="203.49" y="453.59" width="1.7" height="1.7" fill="#2f5680" stroke="none" stroke-width="1" />
<rect x="209.05" y="448.72" width="1.7" height="1.7" fill="#2f5680" stroke="none" stroke-width="1" />
<rect x="214.66" y="446.29" width="1.7" height="1.7" fill="#2f5680" stroke="none" stroke-width="1" />
<rect x="220.33" y="444.21" width="1.7" height="1.7" fill="#2f5680" stroke="none" stroke-width="1" />
<rect x="226.04" y="437.95" width="1.7" height="1.7" fill="#2f5680" stroke="none" stroke-width="1" />
<rect x="231.81" y="439" width="1.7" height="1.7" fill="#2f5680" stroke="none" stroke-width="1" />
<rect x="237.63" y="435.17" width="1.7" height="1.7" fill="#2f5680" stroke="none" stroke-width="1" />
<rect x="243.51" y="432.74" width="1.7" height="1.7" fill="#2f5680" stroke="none" stroke-width="1" />
<rect x="249.43" y="429.96" width="1.7" height="1.7" fill="#2f5680" stroke="none" stroke-width="1" />
<text x="226.4" y="491.4" font-family='"Liberation Serif", serif' font-size="10.1" font-weight="bold" fill="#111" text-anchor="middle" >Kd: 343 µM</text>
<circle cx="552" cy="313.7" r="17.9" fill="#d0e8ec" stroke="#b4ccd2" stroke-width="0.6"/>
<text x="552" y="319.5" font-family='"Liberation Serif", serif' font-size="15.9" font-weight="bold" fill="#111" text-anchor="middle" >R12</text>
<rect x="439.6" y="398.8" width="45.6" height="27.2" fill="#44ff22" stroke="none" stroke-width="1" />
<text x="462.4" y="418.23" font-family='"Liberation Serif", serif' font-size="16.2" font-weight="bold" fill="#111" text-anchor="middle" >AZU</text>
<line x1="501.7" y1="330.9" x2="501.7" y2="400.6" stroke="#c4c4c4" stroke-width="1" />
<line x1="501.7" y1="400.6" x2="610" y2="400.6" stroke="#c4c4c4" stroke-width="1" />
<line x1="499.8" y1="338.4" x2="501.7" y2="338.4" stroke="#7a7a7a" stroke-width="0.6" />
<text x="499.1" y="340.15" font-family='"Liberation Sans", sans-serif' font-size="5.3" font-weight="normal" fill="#444" text-anchor="end" >0</text>
<line x1="499.8" y1="347.5" x2="501.7" y2="347.5" stroke="#7a7a7a" stroke-width="0.6" />
<text x="499.1" y="349.25" font-family='"Liberation Sans", sans-serif' font-size="5.3" font-weight="normal" fill="#444" text-anchor="end" >-0.2</text>
<line x1="499.8" y1="356.6" x2="501.7" y2="356.6" stroke="#7a7a7a" stroke-width="0.6" />
<text x="499.1" y="358.35" font-family='"Liberation Sans", sans-serif' font-size="5.3" font-weight="normal" fill="#444" text-anchor="end" >-0.4</text>
<line x1="499.8" y1="365.7" x2="501.7" y2="365.7" stroke="#7a7a7a" stroke-width="0.6" />
<text x="499.1" y="367.45" font-family='"Liberation Sans", sans-serif' font-size="5.3" font-weight="normal" fill="#444" text-anchor="end" >-0.6</text>
<line x1="499.8" y1="374.8" x2="501.7" y2="374.8" stroke="#7a7a7a" stroke-width="0.6" />
<text x="499.1" y="376.55" font-family='"Liberation Sans", sans-serif' font-size="5.3" font-weight="normal" fill="#444" text-anchor="end" >-0.8</text>
<line x1="499.8" y1="383.9" x2="501.7" y2="383.9" stroke="#7a7a7a" stroke-width="0.6" />
<text x="499.1" y="385.65" font-family='"Liberation Sans", sans-serif' font-size="5.3" font-weight="normal" fill="#444" text-anchor="end" >-1</text>
<line x1="499.8" y1="393" x2="501.7" y2="393" stroke="#7a7a7a" stroke-width="0.6" />
<text x="499.1" y="394.75" font-family='"Liberation Sans", sans-serif' font-size="5.3" font-weight="normal" fill="#444" text-anchor="end" >-1.2</text>
<line x1="500.5" y1="342.95" x2="501.7" y2="342.95" stroke="#7a7a7a" stroke-width="0.5" />
<line x1="500.5" y1="352.05" x2="501.7" y2="352.05" stroke="#7a7a7a" stroke-width="0.5" />
<line x1="500.5" y1="361.15" x2="501.7" y2="361.15" stroke="#7a7a7a" stroke-width="0.5" />
<line x1="500.5" y1="370.25" x2="501.7" y2="370.25" stroke="#7a7a7a" stroke-width="0.5" />
<line x1="500.5" y1="379.35" x2="501.7" y2="379.35" stroke="#7a7a7a" stroke-width="0.5" />
<line x1="500.5" y1="388.45" x2="501.7" y2="388.45" stroke="#7a7a7a" stroke-width="0.5" />
<line x1="500.5" y1="397.55" x2="501.7" y2="397.55" stroke="#7a7a7a" stroke-width="0.5" />
<line x1="500.5" y1="333.85" x2="501.7" y2="333.85" stroke="#7a7a7a" stroke-width="0.5" />
<line x1="501.7" y1="400.6" x2="501.7" y2="402.5" stroke="#7a7a7a" stroke-width="0.6" />
<text x="501.7" y="408.2" font-family='"Liberation Sans", sans-serif' font-size="5.3" font-weight="normal" fill="#444" text-anchor="middle" >0</text>
<line x1="512.35" y1="400.6" x2="512.35" y2="402.5" stroke="#7a7a7a" stroke-width="0.6" />
<text x="512.35" y="408.2" font-family='"Liberation Sans", sans-serif' font-size="5.3" font-weight="normal" fill="#444" text-anchor="middle" >5</text>
<line x1="523" y1="400.6" x2="523" y2="402.5" stroke="#7a7a7a" stroke-width="0.6" />
<text x="523" y="408.2" font-family='"Liberation Sans", sans-serif' font-size="5.3" font-weight="normal" fill="#444" text-anchor="middle" >10</text>
<line x1="533.65" y1="400.6" x2="533.65" y2="402.5" stroke="#7a7a7a" stroke-width="0.6" />
<text x="533.65" y="408.2" font-family='"Liberation Sans", sans-serif' font-size="5.3" font-weight="normal" fill="#444" text-anchor="middle" >15</text>
<line x1="544.3" y1="400.6" x2="544.3" y2="402.5" stroke="#7a7a7a" stroke-width="0.6" />
<text x="544.3" y="408.2" font-family='"Liberation Sans", sans-serif' font-size="5.3" font-weight="normal" fill="#444" text-anchor="middle" >20</text>
<line x1="554.95" y1="400.6" x2="554.95" y2="402.5" stroke="#7a7a7a" stroke-width="0.6" />
<text x="554.95" y="408.2" font-family='"Liberation Sans", sans-serif' font-size="5.3" font-weight="normal" fill="#444" text-anchor="middle" >25</text>
<line x1="565.6" y1="400.6" x2="565.6" y2="402.5" stroke="#7a7a7a" stroke-width="0.6" />
<text x="565.6" y="408.2" font-family='"Liberation Sans", sans-serif' font-size="5.3" font-weight="normal" fill="#444" text-anchor="middle" >30</text>
<line x1="576.25" y1="400.6" x2="576.25" y2="402.5" stroke="#7a7a7a" stroke-width="0.6" />
<text x="576.25" y="408.2" font-family='"Liberation Sans", sans-serif' font-size="5.3" font-weight="normal" fill="#444" text-anchor="middle" >35</text>
<line x1="586.9" y1="400.6" x2="586.9" y2="402.5" stroke="#7a7a7a" stroke-width="0.6" />
<text x="586.9" y="408.2" font-family='"Liberation Sans", sans-serif' font-size="5.3" font-weight="normal" fill="#444" text-anchor="middle" >40</text>
<line x1="597.55" y1="400.6" x2="597.55" y2="402.5" stroke="#7a7a7a" stroke-width="0.6" />
<text x="597.55" y="408.2" font-family='"Liberation Sans", sans-serif' font-size="5.3" font-weight="normal" fill="#444" text-anchor="middle" >45</text>
<line x1="608.2" y1="400.6" x2="608.2" y2="402.5" stroke="#7a7a7a" stroke-width="0.6" />
<text x="608.2" y="408.2" font-family='"Liberation Sans", sans-serif' font-size="5.3" font-weight="normal" fill="#444" text-anchor="middle" >50</text>
<line x1="507.02" y1="400.6" x2="507.02" y2="401.8" stroke="#7a7a7a" stroke-width="0.5" />
<line x1="517.67" y1="400.6" x2="517.67" y2="401.8" stroke="#7a7a7a" stroke-width="0.5" />
<line x1="528.33" y1="400.6" x2="528.33" y2="401.8" stroke="#7a7a7a" stroke-width="0.5" />
<line x1="538.98" y1="400.6" x2="538.98" y2="401.8" stroke="#7a7a7a" stroke-width="0.5" />
<line x1="549.62" y1="400.6" x2="549.62" y2="401.8" stroke="#7a7a7a" stroke-width="0.5" />
<line x1="560.27" y1="400.6" x2="560.27" y2="401.8" stroke="#7a7a7a" stroke-width="0.5" />
<line x1="570.93" y1="400.6" x2="570.93" y2="401.8" stroke="#7a7a7a" stroke-width="0.5" />
<line x1="581.58" y1="400.6" x2="581.58" y2="401.8" stroke="#7a7a7a" stroke-width="0.5" />
<line x1="592.23" y1="400.6" x2="592.23" y2="401.8" stroke="#7a7a7a" stroke-width="0.5" />
<line x1="602.88" y1="400.6" x2="602.88" y2="401.8" stroke="#7a7a7a" stroke-width="0.5" />
<text x="551.55" y="417.8" font-family='"Liberation Sans", sans-serif' font-size="7.9" font-weight="normal" fill="#333" text-anchor="middle" >Time (min)</text>
<text transform="translate(483.55,367.75) rotate(-90)" x="0" y="0" font-family='"Liberation Sans", sans-serif' font-size="7.9" fill="#333" text-anchor="middle">DP (µcal/s)</text>
<path d="M502.34 338.4 L503.83 338.4 L505 338.57 L506.17 338.61 L507.34 338.71 L508.52 338.57 L509.9 338.4 L510.28 338.07 L511.46 338.38 L512.63 338.71 L513.8 338.5 L515.18 338.4 L515.57 338.13 L516.74 338.38 L517.91 338.22 L519.08 338.43 L520.47 338.4 L520.85 338.06 L522.02 338.2 L523.19 338.25 L524.36 338.69 L525.75 338.4 L526.13 338.16 L527.3 338.61 L528.47 338.15 L529.65 338.48 L531.03 338.4 L531.41 338.05 L532.59 338.66 L533.76 338.2 L534.93 338.2 L536.31 338.4 L536.7 338.66 L537.87 338.25 L539.04 338.72 L540.21 338.43 L541.59 338.4 L541.98 338.19 L543.15 338.71 L544.32 338.53 L545.49 338.73 L546.88 338.4 L547.26 338.26 L548.43 338.3 L549.6 338.17 L550.78 338.15 L552.16 338.4 L552.54 338.26 L553.71 338.47 L554.89 338.05 L556.06 338.52 L557.44 338.4 L557.83 338.27 L559 338.62 L560.17 338.39 L561.34 338.27 L562.72 338.4 L563.11 338.54 L564.28 338.09 L565.45 338.73 L566.62 338.07 L568.01 338.4 L568.39 338.64 L569.56 338.06 L570.73 338.6 L571.9 338.31 L573.29 338.4 L573.67 338.06 L574.84 338.08 L576.02 338.18 L577.19 338.72 L578.57 338.4 L578.96 338.58 L580.13 338.7 L581.3 338.71 L582.47 338.29 L583.85 338.4 L584.24 338.42 L585.41 338.59 L586.58 338.13 L587.75 338.57 L589.14 338.4 L589.52 338.65 L590.69 338.08 L591.86 338.71 L593.03 338.11 L594.42 338.4 L594.8 338.48 L595.97 338.69 L597.15 338.29 L598.32 338.7 L599.7 338.4 L604.58 338.4" stroke="#5b7393" stroke-width="0.45" fill="none" stroke-linejoin="round"/>
<path d="M503.83 338.4 L503.88 351.14 L505.08 338.91 Z" stroke="none" stroke-width="1" fill="#c5d0dd" />
<line x1="503.93" y1="338.4" x2="503.93" y2="351.14" stroke="#546d8e" stroke-width="0.85" />
<path d="M509.9 338.4 L509.95 399.82 L511.15 340.86 Z" stroke="none" stroke-width="1" fill="#c5d0dd" />
<line x1="510" y1="338.4" x2="510" y2="399.82" stroke="#546d8e" stroke-width="0.85" />
<path d="M515.18 338.4 L515.23 397.55 L516.43 340.77 Z" stroke="none" stroke-width="1" fill="#c5d0dd" />
<line x1="515.28" y1="338.4" x2="515.28" y2="397.55" stroke="#546d8e" stroke-width="0.85" />
<path d="M520.47 338.4 L520.52 396.19 L521.72 340.71 Z" stroke="none" stroke-width="1" fill="#c5d0dd" />
<line x1="520.57" y1="338.4" x2="520.57" y2="396.19" stroke="#546d8e" stroke-width="0.85" />
<path d="M525.75 338.4 L525.8 394.82 L527 340.66 Z" stroke="none" stroke-width="1" fill="#c5d0dd" />
<line x1="525.85" y1="338.4" x2="525.85" y2="394.82" stroke="#546d8e" stroke-width="0.85" />
<path d="M531.03 338.4 L531.08 393 L532.28 340.58 Z" stroke="none" stroke-width="1" fill="#c5d0dd" />
<line x1="531.13" y1="338.4" x2="531.13" y2="393" stroke="#546d8e" stroke-width="0.85" />
<path d="M536.31 338.4 L536.36 392.09 L537.56 340.55 Z" stroke="none" stroke-width="1" fill="#c5d0dd" />
<line x1="536.41" y1="338.4" x2="536.41" y2="392.09" stroke="#546d8e" stroke-width="0.85" />
<path d="M541.59 338.4 L541.64 390.27 L542.84 340.47 Z" stroke="none" stroke-width="1" fill="#c5d0dd" />
<line x1="541.69" y1="338.4" x2="541.69" y2="390.27" stroke="#546d8e" stroke-width="0.85" />
<path d="M546.88 338.4 L546.93 389.36 L548.13 340.44 Z" stroke="none" stroke-width="1" fill="#c5d0dd" />
<line x1="546.98" y1="338.4" x2="546.98" y2="389.36" stroke="#546d8e" stroke-width="0.85" />
<path d="M552.16 338.4 L552.21 388.45 L553.41 340.4 Z" stroke="none" stroke-width="1" fill="#c5d0dd" />
<line x1="552.26" y1="338.4" x2="552.26" y2="388.45" stroke="#546d8e" stroke-width="0.85" />
<path d="M557.44 338.4 L557.49 387.08 L558.69 340.35 Z" stroke="none" stroke-width="1" fill="#c5d0dd" />
<line x1="557.54" y1="338.4" x2="557.54" y2="387.08" stroke="#546d8e" stroke-width="0.85" />
<path d="M562.72 338.4 L562.77 385.72 L563.97 340.29 Z" stroke="none" stroke-width="1" fill="#c5d0dd" />
<line x1="562.82" y1="338.4" x2="562.82" y2="385.72" stroke="#546d8e" stroke-width="0.85" />
<path d="M568.01 338.4 L568.06 382.99 L569.26 340.18 Z" stroke="none" stroke-width="1" fill="#c5d0dd" />
<line x1="568.11" y1="338.4" x2="568.11" y2="382.99" stroke="#546d8e" stroke-width="0.85" />
<path d="M573.29 338.4 L573.34 381.62 L574.54 340.13 Z" stroke="none" stroke-width="1" fill="#c5d0dd" />
<line x1="573.39" y1="338.4" x2="573.39" y2="381.62" stroke="#546d8e" stroke-width="0.85" />
<path d="M578.57 338.4 L578.62 381.17 L579.82 340.11 Z" stroke="none" stroke-width="1" fill="#c5d0dd" />
<line x1="578.67" y1="338.4" x2="578.67" y2="381.17" stroke="#546d8e" stroke-width="0.85" />
<path d="M583.85 338.4 L583.9 380.26 L585.1 340.07 Z" stroke="none" stroke-width="1" fill="#c5d0dd" />
<line x1="583.95" y1="338.4" x2="583.95" y2="380.26" stroke="#546d8e" stroke-width="0.85" />
<path d="M589.14 338.4 L589.19 379.35 L590.39 340.04 Z" stroke="none" stroke-width="1" fill="#c5d0dd" />
<line x1="589.24" y1="338.4" x2="589.24" y2="379.35" stroke="#546d8e" stroke-width="0.85" />
<path d="M594.42 338.4 L594.47 378.44 L595.67 340 Z" stroke="none" stroke-width="1" fill="#c5d0dd" />
<line x1="594.52" y1="338.4" x2="594.52" y2="378.44" stroke="#546d8e" stroke-width="0.85" />
<path d="M599.7 338.4 L599.75 378.44 L600.95 340 Z" stroke="none" stroke-width="1" fill="#c5d0dd" />
<line x1="599.8" y1="338.4" x2="599.8" y2="378.44" stroke="#546d8e" stroke-width="0.85" />
<line x1="503.72" y1="338.4" x2="503.72" y2="335.71" stroke="#5b7393" stroke-width="0.45" />
<line x1="509.79" y1="338.4" x2="509.79" y2="334.99" stroke="#5b7393" stroke-width="0.45" />
<line x1="515.08" y1="338.4" x2="515.08" y2="335.04" stroke="#5b7393" stroke-width="0.45" />
<line x1="520.36" y1="338.4" x2="520.36" y2="335.82" stroke="#5b7393" stroke-width="0.45" />
<line x1="525.64" y1="338.4" x2="525.64" y2="335.36" stroke="#5b7393" stroke-width="0.45" />
<line x1="530.92" y1="338.4" x2="530.92" y2="336.9" stroke="#5b7393" stroke-width="0.45" />
<line x1="536.21" y1="338.4" x2="536.21" y2="334.84" stroke="#5b7393" stroke-width="0.45" />
<line x1="541.49" y1="338.4" x2="541.49" y2="335.57" stroke="#5b7393" stroke-width="0.45" />
<line x1="546.77" y1="338.4" x2="546.77" y2="335.06" stroke="#5b7393" stroke-width="0.45" />
<line x1="552.05" y1="338.4" x2="552.05" y2="337.04" stroke="#5b7393" stroke-width="0.45" />
<line x1="557.34" y1="338.4" x2="557.34" y2="336.39" stroke="#5b7393" stroke-width="0.45" />
<line x1="562.62" y1="338.4" x2="562.62" y2="336.05" stroke="#5b7393" stroke-width="0.45" />
<line x1="567.9" y1="338.4" x2="567.9" y2="335.4" stroke="#5b7393" stroke-width="0.45" />
<line x1="573.18" y1="338.4" x2="573.18" y2="335.81" stroke="#5b7393" stroke-width="0.45" />
<line x1="578.47" y1="338.4" x2="578.47" y2="336.73" stroke="#5b7393" stroke-width="0.45" />
<line x1="583.75" y1="338.4" x2="583.75" y2="336.35" stroke="#5b7393" stroke-width="0.45" />
<line x1="589.03" y1="338.4" x2="589.03" y2="335.29" stroke="#5b7393" stroke-width="0.45" />
<line x1="594.31" y1="338.4" x2="594.31" y2="336.38" stroke="#5b7393" stroke-width="0.45" />
<line x1="599.59" y1="338.4" x2="599.59" y2="335.89" stroke="#5b7393" stroke-width="0.45" />
<line x1="504.6" y1="428" x2="504.6" y2="498.1" stroke="#c4c4c4" stroke-width="1" />
<line x1="504.6" y1="498.1" x2="609" y2="498.1" stroke="#c4c4c4" stroke-width="1" />
<line x1="502.7" y1="432" x2="504.6" y2="432" stroke="#7a7a7a" stroke-width="0.6" />
<text x="502" y="433.75" font-family='"Liberation Sans", sans-serif' font-size="5.3" font-weight="normal" fill="#444" text-anchor="end" >0</text>
<line x1="502.7" y1="443.1" x2="504.6" y2="443.1" stroke="#7a7a7a" stroke-width="0.6" />
<text x="502" y="444.85" font-family='"Liberation Sans", sans-serif' font-size="5.3" font-weight="normal" fill="#444" text-anchor="end" >-0.5</text>
<line x1="502.7" y1="454.2" x2="504.6" y2="454.2" stroke="#7a7a7a" stroke-width="0.6" />
<text x="502" y="455.95" font-family='"Liberation Sans", sans-serif' font-size="5.3" font-weight="normal" fill="#444" text-anchor="end" >-1</text>
<line x1="502.7" y1="465.3" x2="504.6" y2="465.3" stroke="#7a7a7a" stroke-width="0.6" />
<text x="502" y="467.05" font-family='"Liberation Sans", sans-serif' font-size="5.3" font-weight="normal" fill="#444" text-anchor="end" >-1.5</text>
<line x1="502.7" y1="476.4" x2="504.6" y2="476.4" stroke="#7a7a7a" stroke-width="0.6" />
<text x="502" y="478.15" font-family='"Liberation Sans", sans-serif' font-size="5.3" font-weight="normal" fill="#444" text-anchor="end" >-2</text>
<line x1="502.7" y1="487.5" x2="504.6" y2="487.5" stroke="#7a7a7a" stroke-width="0.6" />
<text x="502" y="489.25" font-family='"Liberation Sans", sans-serif' font-size="5.3" font-weight="normal" fill="#444" text-anchor="end" >-2.5</text>
<line x1="503.4" y1="437.55" x2="504.6" y2="437.55" stroke="#7a7a7a" stroke-width="0.5" />
<line x1="503.4" y1="448.65" x2="504.6" y2="448.65" stroke="#7a7a7a" stroke-width="0.5" />
<line x1="503.4" y1="459.75" x2="504.6" y2="459.75" stroke="#7a7a7a" stroke-width="0.5" />
<line x1="503.4" y1="470.85" x2="504.6" y2="470.85" stroke="#7a7a7a" stroke-width="0.5" />
<line x1="503.4" y1="481.95" x2="504.6" y2="481.95" stroke="#7a7a7a" stroke-width="0.5" />
<line x1="503.4" y1="493.05" x2="504.6" y2="493.05" stroke="#7a7a7a" stroke-width="0.5" />
<line x1="504.6" y1="498.1" x2="504.6" y2="500" stroke="#7a7a7a" stroke-width="0.6" />
<text x="504.6" y="505.7" font-family='"Liberation Sans", sans-serif' font-size="5.3" font-weight="normal" fill="#444" text-anchor="middle" >0</text>
<line x1="515.08" y1="498.1" x2="515.08" y2="500" stroke="#7a7a7a" stroke-width="0.6" />
<text x="515.08" y="505.7" font-family='"Liberation Sans", sans-serif' font-size="5.3" font-weight="normal" fill="#444" text-anchor="middle" >0.2</text>
<line x1="525.56" y1="498.1" x2="525.56" y2="500" stroke="#7a7a7a" stroke-width="0.6" />
<text x="525.56" y="505.7" font-family='"Liberation Sans", sans-serif' font-size="5.3" font-weight="normal" fill="#444" text-anchor="middle" >0.4</text>
<line x1="536.03" y1="498.1" x2="536.03" y2="500" stroke="#7a7a7a" stroke-width="0.6" />
<text x="536.03" y="505.7" font-family='"Liberation Sans", sans-serif' font-size="5.3" font-weight="normal" fill="#444" text-anchor="middle" >0.6</text>
<line x1="546.51" y1="498.1" x2="546.51" y2="500" stroke="#7a7a7a" stroke-width="0.6" />
<text x="546.51" y="505.7" font-family='"Liberation Sans", sans-serif' font-size="5.3" font-weight="normal" fill="#444" text-anchor="middle" >0.8</text>
<line x1="556.99" y1="498.1" x2="556.99" y2="500" stroke="#7a7a7a" stroke-width="0.6" />
<text x="556.99" y="505.7" font-family='"Liberation Sans", sans-serif' font-size="5.3" font-weight="normal" fill="#444" text-anchor="middle" >1</text>
<line x1="567.47" y1="498.1" x2="567.47" y2="500" stroke="#7a7a7a" stroke-width="0.6" />
<text x="567.47" y="505.7" font-family='"Liberation Sans", sans-serif' font-size="5.3" font-weight="normal" fill="#444" text-anchor="middle" >1.2</text>
<line x1="577.94" y1="498.1" x2="577.94" y2="500" stroke="#7a7a7a" stroke-width="0.6" />
<text x="577.94" y="505.7" font-family='"Liberation Sans", sans-serif' font-size="5.3" font-weight="normal" fill="#444" text-anchor="middle" >1.4</text>
<line x1="588.42" y1="498.1" x2="588.42" y2="500" stroke="#7a7a7a" stroke-width="0.6" />
<text x="588.42" y="505.7" font-family='"Liberation Sans", sans-serif' font-size="5.3" font-weight="normal" fill="#444" text-anchor="middle" >1.6</text>
<line x1="598.9" y1="498.1" x2="598.9" y2="500" stroke="#7a7a7a" stroke-width="0.6" />
<text x="598.9" y="505.7" font-family='"Liberation Sans", sans-serif' font-size="5.3" font-weight="normal" fill="#444" text-anchor="middle" >1.8</text>
<line x1="509.84" y1="498.1" x2="509.84" y2="499.3" stroke="#7a7a7a" stroke-width="0.5" />
<line x1="520.32" y1="498.1" x2="520.32" y2="499.3" stroke="#7a7a7a" stroke-width="0.5" />
<line x1="530.79" y1="498.1" x2="530.79" y2="499.3" stroke="#7a7a7a" stroke-width="0.5" />
<line x1="541.27" y1="498.1" x2="541.27" y2="499.3" stroke="#7a7a7a" stroke-width="0.5" />
<line x1="551.75" y1="498.1" x2="551.75" y2="499.3" stroke="#7a7a7a" stroke-width="0.5" />
<line x1="562.23" y1="498.1" x2="562.23" y2="499.3" stroke="#7a7a7a" stroke-width="0.5" />
<line x1="572.71" y1="498.1" x2="572.71" y2="499.3" stroke="#7a7a7a" stroke-width="0.5" />
<line x1="583.18" y1="498.1" x2="583.18" y2="499.3" stroke="#7a7a7a" stroke-width="0.5" />
<line x1="593.66" y1="498.1" x2="593.66" y2="499.3" stroke="#7a7a7a" stroke-width="0.5" />
<line x1="604.14" y1="498.1" x2="604.14" y2="499.3" stroke="#7a7a7a" stroke-width="0.5" />
<text x="553" y="514.9" font-family='"Liberation Sans", sans-serif' font-size="7.9" font-weight="normal" fill="#333" text-anchor="middle" >Molar Ratio</text>
<text transform="translate(483.75,465.05) rotate(-90)" x="0" y="0" font-family='"Liberation Sans", sans-serif' font-size="7.9" fill="#333" text-anchor="middle">ΔH (kcal/mol)</text>
<path d="M505.12 494.59 L510.36 494.56 L515.44 494.49 L520.58 494.3 L525.77 493.81 L531 492.56 L536.3 489.43 L541.64 482.38 L547.03 469.74 L552.48 454.39 L557.98 442.66 L563.54 436.52 L569.14 433.95 L574.8 432.98 L580.51 432.63 L586.27 432.51 L592.09 432.47 L597.96 432.45 L603.88 432.45" stroke="#5e9fb5" stroke-width="0.85" fill="none" stroke-linejoin="round"/>
<rect x="509.51" y="489.98" width="1.7" height="1.7" fill="#2f5680" stroke="none" stroke-width="1" />
<rect x="514.59" y="494.42" width="1.7" height="1.7" fill="#2f5680" stroke="none" stroke-width="1" />
<rect x="519.73" y="493.31" width="1.7" height="1.7" fill="#2f5680" stroke="none" stroke-width="1" />
<rect x="524.92" y="492.2" width="1.7" height="1.7" fill="#2f5680" stroke="none" stroke-width="1" />
<rect x="530.15" y="489.31" width="1.7" height="1.7" fill="#2f5680" stroke="none" stroke-width="1" />
<rect x="535.45" y="489.98" width="1.7" height="1.7" fill="#2f5680" stroke="none" stroke-width="1" />
<rect x="540.79" y="477.77" width="1.7" height="1.7" fill="#2f5680" stroke="none" stroke-width="1" />
<rect x="546.18" y="468.89" width="1.7" height="1.7" fill="#2f5680" stroke="none" stroke-width="1" />
<rect x="551.63" y="455.57" width="1.7" height="1.7" fill="#2f5680" stroke="none" stroke-width="1" />
<rect x="557.13" y="441.81" width="1.7" height="1.7" fill="#2f5680" stroke="none" stroke-width="1" />
<rect x="562.69" y="436.03" width="1.7" height="1.7" fill="#2f5680" stroke="none" stroke-width="1" />
<rect x="568.29" y="434.48" width="1.7" height="1.7" fill="#2f5680" stroke="none" stroke-width="1" />
<rect x="573.95" y="431.59" width="1.7" height="1.7" fill="#2f5680" stroke="none" stroke-width="1" />
<rect x="579.66" y="435.59" width="1.7" height="1.7" fill="#2f5680" stroke="none" stroke-width="1" />
<rect x="585.42" y="431.59" width="1.7" height="1.7" fill="#2f5680" stroke="none" stroke-width="1" />
<rect x="591.24" y="430.48" width="1.7" height="1.7" fill="#2f5680" stroke="none" stroke-width="1" />
<rect x="597.11" y="431.59" width="1.7" height="1.7" fill="#2f5680" stroke="none" stroke-width="1" />
<rect x="603.03" y="433.37" width="1.7" height="1.7" fill="#2f5680" stroke="none" stroke-width="1" />
<text x="569.3" y="492.3" font-family='"Liberation Serif", serif' font-size="10.1" font-weight="bold" fill="#111" text-anchor="middle" >Kd: 595 µM</text>
<circle cx="75.8" cy="556.7" r="17.9" fill="#d0e8ec" stroke="#b4ccd2" stroke-width="0.6"/>
<text x="75.8" y="562.5" font-family='"Liberation Serif", serif' font-size="15.9" font-weight="bold" fill="#111" text-anchor="middle" >R12</text>
<line x1="95.1" y1="557" x2="108.5" y2="557" stroke="#111" stroke-width="1.6" />
<line x1="101.8" y1="550.3" x2="101.8" y2="563.7" stroke="#111" stroke-width="1.6" />
<rect x="110.1" y="543.1" width="72.3" height="26.6" fill="#e898f8" stroke="none" stroke-width="1" />
<text x="146.25" y="561.76" font-family='"Liberation Serif", serif' font-size="14.9" font-weight="bold" fill="#111" text-anchor="middle" >AMP-PCP</text>
<text x="148.3" y="539.6" font-family='"Liberation Serif", serif' font-size="12.4" font-weight="bold" fill="#111" text-anchor="middle" >500 µM</text>
<rect x="11" y="648.8" width="44.7" height="27" fill="#dcff30" stroke="none" stroke-width="1" />
<text x="34.35" y="668.28" font-family='"Liberation Serif", serif' font-size="16.6" font-weight="bold" fill="#111" text-anchor="middle" >DAN</text>
<line x1="73" y1="583.6" x2="73" y2="653.5" stroke="#c4c4c4" stroke-width="1" />
<line x1="73" y1="653.5" x2="179.8" y2="653.5" stroke="#c4c4c4" stroke-width="1" />
<line x1="71.1" y1="588" x2="73" y2="588" stroke="#7a7a7a" stroke-width="0.6" />
<text x="70.4" y="589.75" font-family='"Liberation Sans", sans-serif' font-size="5.3" font-weight="normal" fill="#444" text-anchor="end" >0</text>
<line x1="71.1" y1="599.2" x2="73" y2="599.2" stroke="#7a7a7a" stroke-width="0.6" />
<text x="70.4" y="600.95" font-family='"Liberation Sans", sans-serif' font-size="5.3" font-weight="normal" fill="#444" text-anchor="end" >-0.2</text>
<line x1="71.1" y1="610.4" x2="73" y2="610.4" stroke="#7a7a7a" stroke-width="0.6" />
<text x="70.4" y="612.15" font-family='"Liberation Sans", sans-serif' font-size="5.3" font-weight="normal" fill="#444" text-anchor="end" >-0.4</text>
<line x1="71.1" y1="621.6" x2="73" y2="621.6" stroke="#7a7a7a" stroke-width="0.6" />
<text x="70.4" y="623.35" font-family='"Liberation Sans", sans-serif' font-size="5.3" font-weight="normal" fill="#444" text-anchor="end" >-0.6</text>
<line x1="71.1" y1="632.8" x2="73" y2="632.8" stroke="#7a7a7a" stroke-width="0.6" />
<text x="70.4" y="634.55" font-family='"Liberation Sans", sans-serif' font-size="5.3" font-weight="normal" fill="#444" text-anchor="end" >-0.8</text>
<line x1="71.1" y1="644" x2="73" y2="644" stroke="#7a7a7a" stroke-width="0.6" />
<text x="70.4" y="645.75" font-family='"Liberation Sans", sans-serif' font-size="5.3" font-weight="normal" fill="#444" text-anchor="end" >-1</text>
<line x1="71.8" y1="593.6" x2="73" y2="593.6" stroke="#7a7a7a" stroke-width="0.5" />
<line x1="71.8" y1="604.8" x2="73" y2="604.8" stroke="#7a7a7a" stroke-width="0.5" />
<line x1="71.8" y1="616" x2="73" y2="616" stroke="#7a7a7a" stroke-width="0.5" />
<line x1="71.8" y1="627.2" x2="73" y2="627.2" stroke="#7a7a7a" stroke-width="0.5" />
<line x1="71.8" y1="638.4" x2="73" y2="638.4" stroke="#7a7a7a" stroke-width="0.5" />
<line x1="71.8" y1="649.6" x2="73" y2="649.6" stroke="#7a7a7a" stroke-width="0.5" />
<line x1="73" y1="653.5" x2="73" y2="655.4" stroke="#7a7a7a" stroke-width="0.6" />
<text x="73" y="661.1" font-family='"Liberation Sans", sans-serif' font-size="5.3" font-weight="normal" fill="#444" text-anchor="middle" >0</text>
<line x1="83.5" y1="653.5" x2="83.5" y2="655.4" stroke="#7a7a7a" stroke-width="0.6" />
<text x="83.5" y="661.1" font-family='"Liberation Sans", sans-serif' font-size="5.3" font-weight="normal" fill="#444" text-anchor="middle" >5</text>
<line x1="94" y1="653.5" x2="94" y2="655.4" stroke="#7a7a7a" stroke-width="0.6" />
<text x="94" y="661.1" font-family='"Liberation Sans", sans-serif' font-size="5.3" font-weight="normal" fill="#444" text-anchor="middle" >10</text>
<line x1="104.5" y1="653.5" x2="104.5" y2="655.4" stroke="#7a7a7a" stroke-width="0.6" />
<text x="104.5" y="661.1" font-family='"Liberation Sans", sans-serif' font-size="5.3" font-weight="normal" fill="#444" text-anchor="middle" >15</text>
<line x1="115" y1="653.5" x2="115" y2="655.4" stroke="#7a7a7a" stroke-width="0.6" />
<text x="115" y="661.1" font-family='"Liberation Sans", sans-serif' font-size="5.3" font-weight="normal" fill="#444" text-anchor="middle" >20</text>
<line x1="125.5" y1="653.5" x2="125.5" y2="655.4" stroke="#7a7a7a" stroke-width="0.6" />
<text x="125.5" y="661.1" font-family='"Liberation Sans", sans-serif' font-size="5.3" font-weight="normal" fill="#444" text-anchor="middle" >25</text>
<line x1="136" y1="653.5" x2="136" y2="655.4" stroke="#7a7a7a" stroke-width="0.6" />
<text x="136" y="661.1" font-family='"Liberation Sans", sans-serif' font-size="5.3" font-weight="normal" fill="#444" text-anchor="middle" >30</text>
<line x1="146.5" y1="653.5" x2="146.5" y2="655.4" stroke="#7a7a7a" stroke-width="0.6" />
<text x="146.5" y="661.1" font-family='"Liberation Sans", sans-serif' font-size="5.3" font-weight="normal" fill="#444" text-anchor="middle" >35</text>
<line x1="157" y1="653.5" x2="157" y2="655.4" stroke="#7a7a7a" stroke-width="0.6" />
<text x="157" y="661.1" font-family='"Liberation Sans", sans-serif' font-size="5.3" font-weight="normal" fill="#444" text-anchor="middle" >40</text>
<line x1="167.5" y1="653.5" x2="167.5" y2="655.4" stroke="#7a7a7a" stroke-width="0.6" />
<text x="167.5" y="661.1" font-family='"Liberation Sans", sans-serif' font-size="5.3" font-weight="normal" fill="#444" text-anchor="middle" >45</text>
<line x1="178" y1="653.5" x2="178" y2="655.4" stroke="#7a7a7a" stroke-width="0.6" />
<text x="178" y="661.1" font-family='"Liberation Sans", sans-serif' font-size="5.3" font-weight="normal" fill="#444" text-anchor="middle" >50</text>
<line x1="78.25" y1="653.5" x2="78.25" y2="654.7" stroke="#7a7a7a" stroke-width="0.5" />
<line x1="88.75" y1="653.5" x2="88.75" y2="654.7" stroke="#7a7a7a" stroke-width="0.5" />
<line x1="99.25" y1="653.5" x2="99.25" y2="654.7" stroke="#7a7a7a" stroke-width="0.5" />
<line x1="109.75" y1="653.5" x2="109.75" y2="654.7" stroke="#7a7a7a" stroke-width="0.5" />
<line x1="120.25" y1="653.5" x2="120.25" y2="654.7" stroke="#7a7a7a" stroke-width="0.5" />
<line x1="130.75" y1="653.5" x2="130.75" y2="654.7" stroke="#7a7a7a" stroke-width="0.5" />
<line x1="141.25" y1="653.5" x2="141.25" y2="654.7" stroke="#7a7a7a" stroke-width="0.5" />
<line x1="151.75" y1="653.5" x2="151.75" y2="654.7" stroke="#7a7a7a" stroke-width="0.5" />
<line x1="162.25" y1="653.5" x2="162.25" y2="654.7" stroke="#7a7a7a" stroke-width="0.5" />
<line x1="172.75" y1="653.5" x2="172.75" y2="654.7" stroke="#7a7a7a" stroke-width="0.5" />
<text x="122.1" y="670.7" font-family='"Liberation Sans", sans-serif' font-size="7.9" font-weight="normal" fill="#333" text-anchor="middle" >Time (min)</text>
<text transform="translate(54.85,620.55) rotate(-90)" x="0" y="0" font-family='"Liberation Sans", sans-serif' font-size="7.9" fill="#333" text-anchor="middle">DP (µcal/s)</text>
<path d="M73.63 588 L75.1 588 L76.25 587.76 L77.41 588.11 L78.56 587.7 L79.72 588.03 L81.09 588 L81.46 587.69 L82.62 588.01 L83.77 587.68 L84.93 587.95 L86.29 588 L86.67 587.71 L87.83 587.95 L88.98 588.23 L90.14 587.74 L91.5 588 L91.88 588.09 L93.03 588.31 L94.19 588.05 L95.34 587.93 L96.71 588 L97.09 587.68 L98.24 588.25 L99.4 587.85 L100.55 587.75 L101.92 588 L102.3 587.87 L103.45 588.22 L104.61 587.78 L105.76 588.06 L107.12 588 L107.5 587.91 L108.66 588.03 L109.81 587.69 L110.97 587.69 L112.33 588 L112.71 588.13 L113.87 587.95 L115.02 587.87 L116.18 588.06 L117.54 588 L117.92 587.86 L119.07 588.21 L120.23 588.14 L121.38 587.82 L122.75 588 L123.13 588.02 L124.28 588.26 L125.44 588.16 L126.59 587.85 L127.96 588 L128.34 587.73 L129.49 587.94 L130.65 588.18 L131.8 587.76 L133.17 588 L133.54 587.68 L134.7 588.12 L135.85 588.19 L137.01 588.05 L138.37 588 L138.75 587.87 L139.91 588.14 L141.06 588.07 L142.22 588.06 L143.58 588 L143.96 588.24 L145.11 588.31 L146.27 587.98 L147.42 588.11 L148.79 588 L149.17 588.14 L150.32 588.1 L151.48 588.35 L152.63 588.23 L154 588 L154.38 587.92 L155.53 588.12 L156.69 587.67 L157.84 587.97 L159.21 588 L159.58 587.73 L160.74 587.69 L161.89 588.19 L163.05 587.74 L164.41 588 L164.79 587.92 L165.95 588.26 L167.1 587.71 L168.26 587.96 L169.62 588 L174.43 588" stroke="#5b7393" stroke-width="0.45" fill="none" stroke-linejoin="round"/>
<path d="M75.1 588 L75.15 600.88 L76.35 588.52 Z" stroke="none" stroke-width="1" fill="#c5d0dd" />
<line x1="75.2" y1="588" x2="75.2" y2="600.88" stroke="#546d8e" stroke-width="0.85" />
<path d="M81.09 588 L81.14 650.72 L82.34 590.51 Z" stroke="none" stroke-width="1" fill="#c5d0dd" />
<line x1="81.19" y1="588" x2="81.19" y2="650.72" stroke="#546d8e" stroke-width="0.85" />
<path d="M86.29 588 L86.34 650.72 L87.54 590.51 Z" stroke="none" stroke-width="1" fill="#c5d0dd" />
<line x1="86.39" y1="588" x2="86.39" y2="650.72" stroke="#546d8e" stroke-width="0.85" />
<path d="M91.5 588 L91.55 647.92 L92.75 590.4 Z" stroke="none" stroke-width="1" fill="#c5d0dd" />
<line x1="91.6" y1="588" x2="91.6" y2="647.92" stroke="#546d8e" stroke-width="0.85" />
<path d="M96.71 588 L96.76 646.8 L97.96 590.35 Z" stroke="none" stroke-width="1" fill="#c5d0dd" />
<line x1="96.81" y1="588" x2="96.81" y2="646.8" stroke="#546d8e" stroke-width="0.85" />
<path d="M101.92 588 L101.97 638.4 L103.17 590.02 Z" stroke="none" stroke-width="1" fill="#c5d0dd" />
<line x1="102.02" y1="588" x2="102.02" y2="638.4" stroke="#546d8e" stroke-width="0.85" />
<path d="M107.12 588 L107.17 620.48 L108.38 589.3 Z" stroke="none" stroke-width="1" fill="#c5d0dd" />
<line x1="107.22" y1="588" x2="107.22" y2="620.48" stroke="#546d8e" stroke-width="0.85" />
<path d="M112.33 588 L112.38 596.4 L113.58 588.34 Z" stroke="none" stroke-width="1" fill="#c5d0dd" />
<line x1="112.43" y1="588" x2="112.43" y2="596.4" stroke="#546d8e" stroke-width="0.85" />
<line x1="117.64" y1="588" x2="117.64" y2="589.68" stroke="#546d8e" stroke-width="0.85" />
<line x1="122.85" y1="588" x2="122.85" y2="589.12" stroke="#546d8e" stroke-width="0.85" />
<line x1="128.06" y1="588" x2="128.06" y2="589.12" stroke="#546d8e" stroke-width="0.85" />
<line x1="133.27" y1="588" x2="133.27" y2="589.12" stroke="#546d8e" stroke-width="0.85" />
<line x1="138.47" y1="588" x2="138.47" y2="589.12" stroke="#546d8e" stroke-width="0.85" />
<line x1="143.68" y1="588" x2="143.68" y2="589.12" stroke="#546d8e" stroke-width="0.85" />
<line x1="148.89" y1="588" x2="148.89" y2="589.12" stroke="#546d8e" stroke-width="0.85" />
<line x1="154.1" y1="588" x2="154.1" y2="589.12" stroke="#546d8e" stroke-width="0.85" />
<line x1="159.31" y1="588" x2="159.31" y2="589.12" stroke="#546d8e" stroke-width="0.85" />
<line x1="164.51" y1="588" x2="164.51" y2="589.12" stroke="#546d8e" stroke-width="0.85" />
<line x1="169.72" y1="588" x2="169.72" y2="589.12" stroke="#546d8e" stroke-width="0.85" />
<line x1="75" y1="588" x2="75" y2="586.68" stroke="#5b7393" stroke-width="0.45" />
<line x1="80.98" y1="588" x2="80.98" y2="586.61" stroke="#5b7393" stroke-width="0.45" />
<line x1="86.19" y1="588" x2="86.19" y2="587.09" stroke="#5b7393" stroke-width="0.45" />
<line x1="91.4" y1="588" x2="91.4" y2="586.84" stroke="#5b7393" stroke-width="0.45" />
<line x1="96.6" y1="588" x2="96.6" y2="585.64" stroke="#5b7393" stroke-width="0.45" />
<line x1="101.81" y1="588" x2="101.81" y2="587.01" stroke="#5b7393" stroke-width="0.45" />
<line x1="107.02" y1="588" x2="107.02" y2="586.18" stroke="#5b7393" stroke-width="0.45" />
<line x1="112.23" y1="588" x2="112.23" y2="586.87" stroke="#5b7393" stroke-width="0.45" />
<line x1="117.44" y1="588" x2="117.44" y2="586.47" stroke="#5b7393" stroke-width="0.45" />
<line x1="122.64" y1="588" x2="122.64" y2="586.28" stroke="#5b7393" stroke-width="0.45" />
<line x1="127.85" y1="588" x2="127.85" y2="585.63" stroke="#5b7393" stroke-width="0.45" />
<line x1="133.06" y1="588" x2="133.06" y2="586.42" stroke="#5b7393" stroke-width="0.45" />
<line x1="138.27" y1="588" x2="138.27" y2="585.8" stroke="#5b7393" stroke-width="0.45" />
<line x1="143.48" y1="588" x2="143.48" y2="586.47" stroke="#5b7393" stroke-width="0.45" />
<line x1="148.68" y1="588" x2="148.68" y2="587.1" stroke="#5b7393" stroke-width="0.45" />
<line x1="153.89" y1="588" x2="153.89" y2="586.74" stroke="#5b7393" stroke-width="0.45" />
<line x1="159.1" y1="588" x2="159.1" y2="586.93" stroke="#5b7393" stroke-width="0.45" />
<line x1="164.31" y1="588" x2="164.31" y2="586.8" stroke="#5b7393" stroke-width="0.45" />
<line x1="169.52" y1="588" x2="169.52" y2="586.32" stroke="#5b7393" stroke-width="0.45" />
<line x1="71.7" y1="680.6" x2="71.7" y2="750.6" stroke="#c4c4c4" stroke-width="1" />
<line x1="71.7" y1="750.6" x2="178.6" y2="750.6" stroke="#c4c4c4" stroke-width="1" />
<line x1="69.8" y1="684.5" x2="71.7" y2="684.5" stroke="#7a7a7a" stroke-width="0.6" />
<text x="69.1" y="686.25" font-family='"Liberation Sans", sans-serif' font-size="5.3" font-weight="normal" fill="#444" text-anchor="end" >0</text>
<line x1="69.8" y1="699.56" x2="71.7" y2="699.56" stroke="#7a7a7a" stroke-width="0.6" />
<text x="69.1" y="701.31" font-family='"Liberation Sans", sans-serif' font-size="5.3" font-weight="normal" fill="#444" text-anchor="end" >-2</text>
<line x1="69.8" y1="714.62" x2="71.7" y2="714.62" stroke="#7a7a7a" stroke-width="0.6" />
<text x="69.1" y="716.37" font-family='"Liberation Sans", sans-serif' font-size="5.3" font-weight="normal" fill="#444" text-anchor="end" >-4</text>
<line x1="69.8" y1="729.68" x2="71.7" y2="729.68" stroke="#7a7a7a" stroke-width="0.6" />
<text x="69.1" y="731.43" font-family='"Liberation Sans", sans-serif' font-size="5.3" font-weight="normal" fill="#444" text-anchor="end" >-6</text>
<line x1="69.8" y1="744.74" x2="71.7" y2="744.74" stroke="#7a7a7a" stroke-width="0.6" />
<text x="69.1" y="746.49" font-family='"Liberation Sans", sans-serif' font-size="5.3" font-weight="normal" fill="#444" text-anchor="end" >-8</text>
<line x1="70.5" y1="692.03" x2="71.7" y2="692.03" stroke="#7a7a7a" stroke-width="0.5" />
<line x1="70.5" y1="707.09" x2="71.7" y2="707.09" stroke="#7a7a7a" stroke-width="0.5" />
<line x1="70.5" y1="722.15" x2="71.7" y2="722.15" stroke="#7a7a7a" stroke-width="0.5" />
<line x1="70.5" y1="737.21" x2="71.7" y2="737.21" stroke="#7a7a7a" stroke-width="0.5" />
<line x1="71.7" y1="750.6" x2="71.7" y2="752.5" stroke="#7a7a7a" stroke-width="0.6" />
<text x="71.7" y="758.2" font-family='"Liberation Sans", sans-serif' font-size="5.3" font-weight="normal" fill="#444" text-anchor="middle" >0</text>
<line x1="82.49" y1="750.6" x2="82.49" y2="752.5" stroke="#7a7a7a" stroke-width="0.6" />
<text x="82.49" y="758.2" font-family='"Liberation Sans", sans-serif' font-size="5.3" font-weight="normal" fill="#444" text-anchor="middle" >0.2</text>
<line x1="93.28" y1="750.6" x2="93.28" y2="752.5" stroke="#7a7a7a" stroke-width="0.6" />
<text x="93.28" y="758.2" font-family='"Liberation Sans", sans-serif' font-size="5.3" font-weight="normal" fill="#444" text-anchor="middle" >0.4</text>
<line x1="104.07" y1="750.6" x2="104.07" y2="752.5" stroke="#7a7a7a" stroke-width="0.6" />
<text x="104.07" y="758.2" font-family='"Liberation Sans", sans-serif' font-size="5.3" font-weight="normal" fill="#444" text-anchor="middle" >0.6</text>
<line x1="114.86" y1="750.6" x2="114.86" y2="752.5" stroke="#7a7a7a" stroke-width="0.6" />
<text x="114.86" y="758.2" font-family='"Liberation Sans", sans-serif' font-size="5.3" font-weight="normal" fill="#444" text-anchor="middle" >0.8</text>
<line x1="125.64" y1="750.6" x2="125.64" y2="752.5" stroke="#7a7a7a" stroke-width="0.6" />
<text x="125.64" y="758.2" font-family='"Liberation Sans", sans-serif' font-size="5.3" font-weight="normal" fill="#444" text-anchor="middle" >1</text>
<line x1="136.43" y1="750.6" x2="136.43" y2="752.5" stroke="#7a7a7a" stroke-width="0.6" />
<text x="136.43" y="758.2" font-family='"Liberation Sans", sans-serif' font-size="5.3" font-weight="normal" fill="#444" text-anchor="middle" >1.2</text>
<line x1="147.22" y1="750.6" x2="147.22" y2="752.5" stroke="#7a7a7a" stroke-width="0.6" />
<text x="147.22" y="758.2" font-family='"Liberation Sans", sans-serif' font-size="5.3" font-weight="normal" fill="#444" text-anchor="middle" >1.4</text>
<line x1="158.01" y1="750.6" x2="158.01" y2="752.5" stroke="#7a7a7a" stroke-width="0.6" />
<text x="158.01" y="758.2" font-family='"Liberation Sans", sans-serif' font-size="5.3" font-weight="normal" fill="#444" text-anchor="middle" >1.6</text>
<line x1="168.8" y1="750.6" x2="168.8" y2="752.5" stroke="#7a7a7a" stroke-width="0.6" />
<text x="168.8" y="758.2" font-family='"Liberation Sans", sans-serif' font-size="5.3" font-weight="normal" fill="#444" text-anchor="middle" >1.8</text>
<line x1="77.09" y1="750.6" x2="77.09" y2="751.8" stroke="#7a7a7a" stroke-width="0.5" />
<line x1="87.88" y1="750.6" x2="87.88" y2="751.8" stroke="#7a7a7a" stroke-width="0.5" />
<line x1="98.67" y1="750.6" x2="98.67" y2="751.8" stroke="#7a7a7a" stroke-width="0.5" />
<line x1="109.46" y1="750.6" x2="109.46" y2="751.8" stroke="#7a7a7a" stroke-width="0.5" />
<line x1="120.25" y1="750.6" x2="120.25" y2="751.8" stroke="#7a7a7a" stroke-width="0.5" />
<line x1="131.04" y1="750.6" x2="131.04" y2="751.8" stroke="#7a7a7a" stroke-width="0.5" />
<line x1="141.83" y1="750.6" x2="141.83" y2="751.8" stroke="#7a7a7a" stroke-width="0.5" />
<line x1="152.62" y1="750.6" x2="152.62" y2="751.8" stroke="#7a7a7a" stroke-width="0.5" />
<line x1="163.41" y1="750.6" x2="163.41" y2="751.8" stroke="#7a7a7a" stroke-width="0.5" />
<line x1="174.19" y1="750.6" x2="174.19" y2="751.8" stroke="#7a7a7a" stroke-width="0.5" />
<text x="123.2" y="767.4" font-family='"Liberation Sans", sans-serif' font-size="7.9" font-weight="normal" fill="#333" text-anchor="middle" >Molar Ratio</text>
<text transform="translate(55.05,717.6) rotate(-90)" x="0" y="0" font-family='"Liberation Sans", sans-serif' font-size="7.9" fill="#333" text-anchor="middle">ΔH (kcal/mol)</text>
<path d="M72.24 745.49 L77.63 745.49 L82.87 745.49 L88.15 745.47 L93.49 745.3 L98.89 743.84 L104.34 733.45 L109.84 703.33 L115.4 687.02 L121.01 684.45 L126.67 684.16 L132.39 684.13 L138.16 684.12 L143.99 684.12 L149.87 684.12 L155.8 684.12 L161.79 684.12 L167.83 684.12 L173.92 684.12" stroke="#56729c" stroke-width="0.85" fill="none" stroke-linejoin="round"/>
<rect x="76.78" y="744.64" width="1.7" height="1.7" fill="#2f5680" stroke="none" stroke-width="1" />
<rect x="82.02" y="744.64" width="1.7" height="1.7" fill="#2f5680" stroke="none" stroke-width="1" />
<rect x="87.3" y="746.15" width="1.7" height="1.7" fill="#2f5680" stroke="none" stroke-width="1" />
<rect x="92.64" y="743.14" width="1.7" height="1.7" fill="#2f5680" stroke="none" stroke-width="1" />
<rect x="98.04" y="742.38" width="1.7" height="1.7" fill="#2f5680" stroke="none" stroke-width="1" />
<rect x="103.49" y="732.6" width="1.7" height="1.7" fill="#2f5680" stroke="none" stroke-width="1" />
<rect x="108.99" y="702.48" width="1.7" height="1.7" fill="#2f5680" stroke="none" stroke-width="1" />
<rect x="114.55" y="685.91" width="1.7" height="1.7" fill="#2f5680" stroke="none" stroke-width="1" />
<rect x="120.16" y="683.65" width="1.7" height="1.7" fill="#2f5680" stroke="none" stroke-width="1" />
<rect x="125.82" y="683.65" width="1.7" height="1.7" fill="#2f5680" stroke="none" stroke-width="1" />
<rect x="131.54" y="683.27" width="1.7" height="1.7" fill="#2f5680" stroke="none" stroke-width="1" />
<rect x="137.31" y="682.9" width="1.7" height="1.7" fill="#2f5680" stroke="none" stroke-width="1" />
<rect x="143.14" y="682.52" width="1.7" height="1.7" fill="#2f5680" stroke="none" stroke-width="1" />
<rect x="149.02" y="684.4" width="1.7" height="1.7" fill="#2f5680" stroke="none" stroke-width="1" />
<rect x="154.95" y="684.4" width="1.7" height="1.7" fill="#2f5680" stroke="none" stroke-width="1" />
<rect x="160.94" y="684.4" width="1.7" height="1.7" fill="#2f5680" stroke="none" stroke-width="1" />
<rect x="166.98" y="684.03" width="1.7" height="1.7" fill="#2f5680" stroke="none" stroke-width="1" />
<rect x="173.07" y="683.27" width="1.7" height="1.7" fill="#2f5680" stroke="none" stroke-width="1" />
<text x="147.3" y="742.5" font-family='"Liberation Serif", serif' font-size="10.1" font-weight="bold" fill="#111" text-anchor="middle" >Kd: 0.099 µM</text>
<circle cx="219.7" cy="554.8" r="17.9" fill="#d0e8ec" stroke="#b4ccd2" stroke-width="0.6"/>
<text x="219.7" y="560.6" font-family='"Liberation Serif", serif' font-size="15.9" font-weight="bold" fill="#111" text-anchor="middle" >R12</text>
<line x1="239.9" y1="557.3" x2="253.3" y2="557.3" stroke="#111" stroke-width="1.6" />
<line x1="246.6" y1="550.6" x2="246.6" y2="564" stroke="#111" stroke-width="1.6" />
<rect x="254.9" y="543.1" width="72.7" height="26.3" fill="#e898f8" stroke="none" stroke-width="1" />
<text x="291.25" y="561.61" font-family='"Liberation Serif", serif' font-size="14.9" font-weight="bold" fill="#111" text-anchor="middle" >AMP-PCP</text>
<text x="289.5" y="540.5" font-family='"Liberation Serif", serif' font-size="12.4" font-weight="bold" fill="#111" text-anchor="middle" >5 mM</text>
<line x1="215.7" y1="583" x2="215.7" y2="652.1" stroke="#c4c4c4" stroke-width="1" />
<line x1="215.7" y1="652.1" x2="322.2" y2="652.1" stroke="#c4c4c4" stroke-width="1" />
<line x1="213.8" y1="587" x2="215.7" y2="587" stroke="#7a7a7a" stroke-width="0.6" />
<text x="213.1" y="588.75" font-family='"Liberation Sans", sans-serif' font-size="5.3" font-weight="normal" fill="#444" text-anchor="end" >0</text>
<line x1="213.8" y1="597.92" x2="215.7" y2="597.92" stroke="#7a7a7a" stroke-width="0.6" />
<text x="213.1" y="599.67" font-family='"Liberation Sans", sans-serif' font-size="5.3" font-weight="normal" fill="#444" text-anchor="end" >-0.2</text>
<line x1="213.8" y1="608.84" x2="215.7" y2="608.84" stroke="#7a7a7a" stroke-width="0.6" />
<text x="213.1" y="610.59" font-family='"Liberation Sans", sans-serif' font-size="5.3" font-weight="normal" fill="#444" text-anchor="end" >-0.4</text>
<line x1="213.8" y1="619.76" x2="215.7" y2="619.76" stroke="#7a7a7a" stroke-width="0.6" />
<text x="213.1" y="621.51" font-family='"Liberation Sans", sans-serif' font-size="5.3" font-weight="normal" fill="#444" text-anchor="end" >-0.6</text>
<line x1="213.8" y1="630.68" x2="215.7" y2="630.68" stroke="#7a7a7a" stroke-width="0.6" />
<text x="213.1" y="632.43" font-family='"Liberation Sans", sans-serif' font-size="5.3" font-weight="normal" fill="#444" text-anchor="end" >-0.8</text>
<line x1="213.8" y1="641.6" x2="215.7" y2="641.6" stroke="#7a7a7a" stroke-width="0.6" />
<text x="213.1" y="643.35" font-family='"Liberation Sans", sans-serif' font-size="5.3" font-weight="normal" fill="#444" text-anchor="end" >-1</text>
<line x1="214.5" y1="592.46" x2="215.7" y2="592.46" stroke="#7a7a7a" stroke-width="0.5" />
<line x1="214.5" y1="603.38" x2="215.7" y2="603.38" stroke="#7a7a7a" stroke-width="0.5" />
<line x1="214.5" y1="614.3" x2="215.7" y2="614.3" stroke="#7a7a7a" stroke-width="0.5" />
<line x1="214.5" y1="625.22" x2="215.7" y2="625.22" stroke="#7a7a7a" stroke-width="0.5" />
<line x1="214.5" y1="636.14" x2="215.7" y2="636.14" stroke="#7a7a7a" stroke-width="0.5" />
<line x1="214.5" y1="647.06" x2="215.7" y2="647.06" stroke="#7a7a7a" stroke-width="0.5" />
<line x1="215.7" y1="652.1" x2="215.7" y2="654" stroke="#7a7a7a" stroke-width="0.6" />
<text x="215.7" y="659.7" font-family='"Liberation Sans", sans-serif' font-size="5.3" font-weight="normal" fill="#444" text-anchor="middle" >0</text>
<line x1="226.14" y1="652.1" x2="226.14" y2="654" stroke="#7a7a7a" stroke-width="0.6" />
<text x="226.14" y="659.7" font-family='"Liberation Sans", sans-serif' font-size="5.3" font-weight="normal" fill="#444" text-anchor="middle" >5</text>
<line x1="236.58" y1="652.1" x2="236.58" y2="654" stroke="#7a7a7a" stroke-width="0.6" />
<text x="236.58" y="659.7" font-family='"Liberation Sans", sans-serif' font-size="5.3" font-weight="normal" fill="#444" text-anchor="middle" >10</text>
<line x1="247.02" y1="652.1" x2="247.02" y2="654" stroke="#7a7a7a" stroke-width="0.6" />
<text x="247.02" y="659.7" font-family='"Liberation Sans", sans-serif' font-size="5.3" font-weight="normal" fill="#444" text-anchor="middle" >15</text>
<line x1="257.46" y1="652.1" x2="257.46" y2="654" stroke="#7a7a7a" stroke-width="0.6" />
<text x="257.46" y="659.7" font-family='"Liberation Sans", sans-serif' font-size="5.3" font-weight="normal" fill="#444" text-anchor="middle" >20</text>
<line x1="267.9" y1="652.1" x2="267.9" y2="654" stroke="#7a7a7a" stroke-width="0.6" />
<text x="267.9" y="659.7" font-family='"Liberation Sans", sans-serif' font-size="5.3" font-weight="normal" fill="#444" text-anchor="middle" >25</text>
<line x1="278.34" y1="652.1" x2="278.34" y2="654" stroke="#7a7a7a" stroke-width="0.6" />
<text x="278.34" y="659.7" font-family='"Liberation Sans", sans-serif' font-size="5.3" font-weight="normal" fill="#444" text-anchor="middle" >30</text>
<line x1="288.78" y1="652.1" x2="288.78" y2="654" stroke="#7a7a7a" stroke-width="0.6" />
<text x="288.78" y="659.7" font-family='"Liberation Sans", sans-serif' font-size="5.3" font-weight="normal" fill="#444" text-anchor="middle" >35</text>
<line x1="299.22" y1="652.1" x2="299.22" y2="654" stroke="#7a7a7a" stroke-width="0.6" />
<text x="299.22" y="659.7" font-family='"Liberation Sans", sans-serif' font-size="5.3" font-weight="normal" fill="#444" text-anchor="middle" >40</text>
<line x1="309.66" y1="652.1" x2="309.66" y2="654" stroke="#7a7a7a" stroke-width="0.6" />
<text x="309.66" y="659.7" font-family='"Liberation Sans", sans-serif' font-size="5.3" font-weight="normal" fill="#444" text-anchor="middle" >45</text>
<line x1="320.1" y1="652.1" x2="320.1" y2="654" stroke="#7a7a7a" stroke-width="0.6" />
<text x="320.1" y="659.7" font-family='"Liberation Sans", sans-serif' font-size="5.3" font-weight="normal" fill="#444" text-anchor="middle" >50</text>
<line x1="220.92" y1="652.1" x2="220.92" y2="653.3" stroke="#7a7a7a" stroke-width="0.5" />
<line x1="231.36" y1="652.1" x2="231.36" y2="653.3" stroke="#7a7a7a" stroke-width="0.5" />
<line x1="241.8" y1="652.1" x2="241.8" y2="653.3" stroke="#7a7a7a" stroke-width="0.5" />
<line x1="252.24" y1="652.1" x2="252.24" y2="653.3" stroke="#7a7a7a" stroke-width="0.5" />
<line x1="262.68" y1="652.1" x2="262.68" y2="653.3" stroke="#7a7a7a" stroke-width="0.5" />
<line x1="273.12" y1="652.1" x2="273.12" y2="653.3" stroke="#7a7a7a" stroke-width="0.5" />
<line x1="283.56" y1="652.1" x2="283.56" y2="653.3" stroke="#7a7a7a" stroke-width="0.5" />
<line x1="294" y1="652.1" x2="294" y2="653.3" stroke="#7a7a7a" stroke-width="0.5" />
<line x1="304.44" y1="652.1" x2="304.44" y2="653.3" stroke="#7a7a7a" stroke-width="0.5" />
<line x1="314.88" y1="652.1" x2="314.88" y2="653.3" stroke="#7a7a7a" stroke-width="0.5" />
<text x="264.5" y="669.3" font-family='"Liberation Sans", sans-serif' font-size="7.9" font-weight="normal" fill="#333" text-anchor="middle" >Time (min)</text>
<text transform="translate(197.55,619.55) rotate(-90)" x="0" y="0" font-family='"Liberation Sans", sans-serif' font-size="7.9" fill="#333" text-anchor="middle">DP (µcal/s)</text>
<path d="M216.33 587 L217.79 587 L218.94 586.91 L220.08 586.75 L221.23 587.26 L222.38 586.65 L223.74 587 L224.11 587.28 L225.26 586.71 L226.41 587.04 L227.56 587.08 L228.92 587 L229.29 586.92 L230.44 587.14 L231.59 586.97 L232.74 587.16 L234.1 587 L234.47 586.82 L235.62 586.73 L236.77 587 L237.92 587.3 L239.27 587 L239.65 587.19 L240.8 586.92 L241.95 587.17 L243.09 586.72 L244.45 587 L244.83 587.12 L245.98 587.16 L247.12 586.95 L248.27 586.71 L249.63 587 L250.01 586.8 L251.15 586.85 L252.3 587.22 L253.45 586.79 L254.81 587 L255.18 587.27 L256.33 586.69 L257.48 586.92 L258.63 586.99 L259.99 587 L260.36 586.95 L261.51 587.28 L262.66 586.73 L263.81 587.07 L265.16 587 L265.54 587.06 L266.69 587.28 L267.84 586.79 L268.99 586.66 L270.34 587 L270.72 587.03 L271.87 586.66 L273.02 586.71 L274.16 587 L275.52 587 L275.9 586.94 L277.05 586.93 L278.19 587.1 L279.34 586.72 L280.7 587 L281.08 586.77 L282.22 587.08 L283.37 587.32 L284.52 586.69 L285.88 587 L286.25 587.07 L287.4 586.75 L288.55 586.84 L289.7 587.35 L291.06 587 L291.43 586.73 L292.58 587.14 L293.73 587.32 L294.88 586.82 L296.23 587 L296.61 586.68 L297.76 586.91 L298.91 587.12 L300.06 587.06 L301.41 587 L301.79 586.71 L302.94 586.89 L304.09 587.25 L305.23 587.06 L306.59 587 L306.97 586.93 L308.11 587.34 L309.26 587.05 L310.41 586.66 L311.77 587 L316.55 587" stroke="#5b7393" stroke-width="0.45" fill="none" stroke-linejoin="round"/>
<path d="M217.79 587 L217.84 599.01 L219.04 587.48 Z" stroke="none" stroke-width="1" fill="#c5d0dd" />
<line x1="217.89" y1="587" x2="217.89" y2="599.01" stroke="#546d8e" stroke-width="0.85" />
<path d="M223.74 587 L223.79 649.79 L224.99 589.51 Z" stroke="none" stroke-width="1" fill="#c5d0dd" />
<line x1="223.84" y1="587" x2="223.84" y2="649.79" stroke="#546d8e" stroke-width="0.85" />
<path d="M228.92 587 L228.97 649.79 L230.17 589.51 Z" stroke="none" stroke-width="1" fill="#c5d0dd" />
<line x1="229.02" y1="587" x2="229.02" y2="649.79" stroke="#546d8e" stroke-width="0.85" />
<path d="M234.1 587 L234.15 649.79 L235.35 589.51 Z" stroke="none" stroke-width="1" fill="#c5d0dd" />
<line x1="234.2" y1="587" x2="234.2" y2="649.79" stroke="#546d8e" stroke-width="0.85" />
<path d="M239.27 587 L239.32 648.15 L240.52 589.45 Z" stroke="none" stroke-width="1" fill="#c5d0dd" />
<line x1="239.37" y1="587" x2="239.37" y2="648.15" stroke="#546d8e" stroke-width="0.85" />
<path d="M244.45 587 L244.5 645.97 L245.7 589.36 Z" stroke="none" stroke-width="1" fill="#c5d0dd" />
<line x1="244.55" y1="587" x2="244.55" y2="645.97" stroke="#546d8e" stroke-width="0.85" />
<path d="M249.63 587 L249.68 644.33 L250.88 589.29 Z" stroke="none" stroke-width="1" fill="#c5d0dd" />
<line x1="249.73" y1="587" x2="249.73" y2="644.33" stroke="#546d8e" stroke-width="0.85" />
<path d="M254.81 587 L254.86 638.87 L256.06 589.07 Z" stroke="none" stroke-width="1" fill="#c5d0dd" />
<line x1="254.91" y1="587" x2="254.91" y2="638.87" stroke="#546d8e" stroke-width="0.85" />
<path d="M259.99 587 L260.04 620.85 L261.24 588.35 Z" stroke="none" stroke-width="1" fill="#c5d0dd" />
<line x1="260.09" y1="587" x2="260.09" y2="620.85" stroke="#546d8e" stroke-width="0.85" />
<path d="M265.16 587 L265.21 599.01 L266.41 587.48 Z" stroke="none" stroke-width="1" fill="#c5d0dd" />
<line x1="265.26" y1="587" x2="265.26" y2="599.01" stroke="#546d8e" stroke-width="0.85" />
<line x1="270.44" y1="587" x2="270.44" y2="588.64" stroke="#546d8e" stroke-width="0.85" />
<line x1="275.62" y1="587" x2="275.62" y2="588.09" stroke="#546d8e" stroke-width="0.85" />
<line x1="280.8" y1="587" x2="280.8" y2="588.09" stroke="#546d8e" stroke-width="0.85" />
<line x1="285.98" y1="587" x2="285.98" y2="588.09" stroke="#546d8e" stroke-width="0.85" />
<line x1="291.16" y1="587" x2="291.16" y2="588.09" stroke="#546d8e" stroke-width="0.85" />
<line x1="296.33" y1="587" x2="296.33" y2="588.09" stroke="#546d8e" stroke-width="0.85" />
<line x1="301.51" y1="587" x2="301.51" y2="588.09" stroke="#546d8e" stroke-width="0.85" />
<line x1="306.69" y1="587" x2="306.69" y2="588.09" stroke="#546d8e" stroke-width="0.85" />
<line x1="311.87" y1="587" x2="311.87" y2="588.09" stroke="#546d8e" stroke-width="0.85" />
<line x1="217.68" y1="587" x2="217.68" y2="585.46" stroke="#5b7393" stroke-width="0.45" />
<line x1="223.63" y1="587" x2="223.63" y2="585.4" stroke="#5b7393" stroke-width="0.45" />
<line x1="228.81" y1="587" x2="228.81" y2="586.13" stroke="#5b7393" stroke-width="0.45" />
<line x1="233.99" y1="587" x2="233.99" y2="585.95" stroke="#5b7393" stroke-width="0.45" />
<line x1="239.17" y1="587" x2="239.17" y2="585.26" stroke="#5b7393" stroke-width="0.45" />
<line x1="244.35" y1="587" x2="244.35" y2="585.73" stroke="#5b7393" stroke-width="0.45" />
<line x1="249.53" y1="587" x2="249.53" y2="585.77" stroke="#5b7393" stroke-width="0.45" />
<line x1="254.7" y1="587" x2="254.7" y2="584.78" stroke="#5b7393" stroke-width="0.45" />
<line x1="259.88" y1="587" x2="259.88" y2="586.16" stroke="#5b7393" stroke-width="0.45" />
<line x1="265.06" y1="587" x2="265.06" y2="586.01" stroke="#5b7393" stroke-width="0.45" />
<line x1="270.24" y1="587" x2="270.24" y2="586.07" stroke="#5b7393" stroke-width="0.45" />
<line x1="275.42" y1="587" x2="275.42" y2="584.73" stroke="#5b7393" stroke-width="0.45" />
<line x1="280.6" y1="587" x2="280.6" y2="585.27" stroke="#5b7393" stroke-width="0.45" />
<line x1="285.77" y1="587" x2="285.77" y2="585.31" stroke="#5b7393" stroke-width="0.45" />
<line x1="290.95" y1="587" x2="290.95" y2="584.6" stroke="#5b7393" stroke-width="0.45" />
<line x1="296.13" y1="587" x2="296.13" y2="585.22" stroke="#5b7393" stroke-width="0.45" />
<line x1="301.31" y1="587" x2="301.31" y2="584.96" stroke="#5b7393" stroke-width="0.45" />
<line x1="306.49" y1="587" x2="306.49" y2="585.48" stroke="#5b7393" stroke-width="0.45" />
<line x1="311.66" y1="587" x2="311.66" y2="584.92" stroke="#5b7393" stroke-width="0.45" />
<line x1="214.1" y1="679.3" x2="214.1" y2="749.1" stroke="#c4c4c4" stroke-width="1" />
<line x1="214.1" y1="749.1" x2="321.4" y2="749.1" stroke="#c4c4c4" stroke-width="1" />
<line x1="212.2" y1="684.5" x2="214.1" y2="684.5" stroke="#7a7a7a" stroke-width="0.6" />
<text x="211.5" y="686.25" font-family='"Liberation Sans", sans-serif' font-size="5.3" font-weight="normal" fill="#444" text-anchor="end" >0</text>
<line x1="212.2" y1="698.9" x2="214.1" y2="698.9" stroke="#7a7a7a" stroke-width="0.6" />
<text x="211.5" y="700.65" font-family='"Liberation Sans", sans-serif' font-size="5.3" font-weight="normal" fill="#444" text-anchor="end" >-2</text>
<line x1="212.2" y1="713.3" x2="214.1" y2="713.3" stroke="#7a7a7a" stroke-width="0.6" />
<text x="211.5" y="715.05" font-family='"Liberation Sans", sans-serif' font-size="5.3" font-weight="normal" fill="#444" text-anchor="end" >-4</text>
<line x1="212.2" y1="727.7" x2="214.1" y2="727.7" stroke="#7a7a7a" stroke-width="0.6" />
<text x="211.5" y="729.45" font-family='"Liberation Sans", sans-serif' font-size="5.3" font-weight="normal" fill="#444" text-anchor="end" >-6</text>
<line x1="212.2" y1="742.1" x2="214.1" y2="742.1" stroke="#7a7a7a" stroke-width="0.6" />
<text x="211.5" y="743.85" font-family='"Liberation Sans", sans-serif' font-size="5.3" font-weight="normal" fill="#444" text-anchor="end" >-8</text>
<line x1="212.9" y1="691.7" x2="214.1" y2="691.7" stroke="#7a7a7a" stroke-width="0.5" />
<line x1="212.9" y1="706.1" x2="214.1" y2="706.1" stroke="#7a7a7a" stroke-width="0.5" />
<line x1="212.9" y1="720.5" x2="214.1" y2="720.5" stroke="#7a7a7a" stroke-width="0.5" />
<line x1="212.9" y1="734.9" x2="214.1" y2="734.9" stroke="#7a7a7a" stroke-width="0.5" />
<line x1="214.5" y1="749.1" x2="214.5" y2="751" stroke="#7a7a7a" stroke-width="0.6" />
<text x="214.5" y="756.7" font-family='"Liberation Sans", sans-serif' font-size="5.3" font-weight="normal" fill="#444" text-anchor="middle" >0</text>
<line x1="225.23" y1="749.1" x2="225.23" y2="751" stroke="#7a7a7a" stroke-width="0.6" />
<text x="225.23" y="756.7" font-family='"Liberation Sans", sans-serif' font-size="5.3" font-weight="normal" fill="#444" text-anchor="middle" >0.2</text>
<line x1="235.97" y1="749.1" x2="235.97" y2="751" stroke="#7a7a7a" stroke-width="0.6" />
<text x="235.97" y="756.7" font-family='"Liberation Sans", sans-serif' font-size="5.3" font-weight="normal" fill="#444" text-anchor="middle" >0.4</text>
<line x1="246.7" y1="749.1" x2="246.7" y2="751" stroke="#7a7a7a" stroke-width="0.6" />
<text x="246.7" y="756.7" font-family='"Liberation Sans", sans-serif' font-size="5.3" font-weight="normal" fill="#444" text-anchor="middle" >0.6</text>
<line x1="257.43" y1="749.1" x2="257.43" y2="751" stroke="#7a7a7a" stroke-width="0.6" />
<text x="257.43" y="756.7" font-family='"Liberation Sans", sans-serif' font-size="5.3" font-weight="normal" fill="#444" text-anchor="middle" >0.8</text>
<line x1="268.17" y1="749.1" x2="268.17" y2="751" stroke="#7a7a7a" stroke-width="0.6" />
<text x="268.17" y="756.7" font-family='"Liberation Sans", sans-serif' font-size="5.3" font-weight="normal" fill="#444" text-anchor="middle" >1</text>
<line x1="278.9" y1="749.1" x2="278.9" y2="751" stroke="#7a7a7a" stroke-width="0.6" />
<text x="278.9" y="756.7" font-family='"Liberation Sans", sans-serif' font-size="5.3" font-weight="normal" fill="#444" text-anchor="middle" >1.2</text>
<line x1="289.63" y1="749.1" x2="289.63" y2="751" stroke="#7a7a7a" stroke-width="0.6" />
<text x="289.63" y="756.7" font-family='"Liberation Sans", sans-serif' font-size="5.3" font-weight="normal" fill="#444" text-anchor="middle" >1.4</text>
<line x1="300.37" y1="749.1" x2="300.37" y2="751" stroke="#7a7a7a" stroke-width="0.6" />
<text x="300.37" y="756.7" font-family='"Liberation Sans", sans-serif' font-size="5.3" font-weight="normal" fill="#444" text-anchor="middle" >1.6</text>
<line x1="311.1" y1="749.1" x2="311.1" y2="751" stroke="#7a7a7a" stroke-width="0.6" />
<text x="311.1" y="756.7" font-family='"Liberation Sans", sans-serif' font-size="5.3" font-weight="normal" fill="#444" text-anchor="middle" >1.8</text>
<line x1="219.87" y1="749.1" x2="219.87" y2="750.3" stroke="#7a7a7a" stroke-width="0.5" />
<line x1="230.6" y1="749.1" x2="230.6" y2="750.3" stroke="#7a7a7a" stroke-width="0.5" />
<line x1="241.33" y1="749.1" x2="241.33" y2="750.3" stroke="#7a7a7a" stroke-width="0.5" />
<line x1="252.07" y1="749.1" x2="252.07" y2="750.3" stroke="#7a7a7a" stroke-width="0.5" />
<line x1="262.8" y1="749.1" x2="262.8" y2="750.3" stroke="#7a7a7a" stroke-width="0.5" />
<line x1="273.53" y1="749.1" x2="273.53" y2="750.3" stroke="#7a7a7a" stroke-width="0.5" />
<line x1="284.27" y1="749.1" x2="284.27" y2="750.3" stroke="#7a7a7a" stroke-width="0.5" />
<line x1="295" y1="749.1" x2="295" y2="750.3" stroke="#7a7a7a" stroke-width="0.5" />
<line x1="305.73" y1="749.1" x2="305.73" y2="750.3" stroke="#7a7a7a" stroke-width="0.5" />
<line x1="316.47" y1="749.1" x2="316.47" y2="750.3" stroke="#7a7a7a" stroke-width="0.5" />
<text x="265.7" y="765.9" font-family='"Liberation Sans", sans-serif' font-size="7.9" font-weight="normal" fill="#333" text-anchor="middle" >Molar Ratio</text>
<text transform="translate(197.35,716.2) rotate(-90)" x="0" y="0" font-family='"Liberation Sans", sans-serif' font-size="7.9" fill="#333" text-anchor="middle">ΔH (kcal/mol)</text>
<path d="M215.04 743.54 L220.4 743.54 L225.61 743.54 L230.87 743.54 L236.18 743.54 L241.55 743.54 L246.97 743.53 L252.44 743.28 L257.97 737.06 L263.55 697.46 L269.19 685.05 L274.88 684.52 L280.62 684.5 L286.41 684.5 L292.26 684.5 L298.17 684.5 L304.12 684.5 L310.13 684.5 L316.2 684.5" stroke="#56729c" stroke-width="0.85" fill="none" stroke-linejoin="round"/>
<rect x="219.55" y="741.25" width="1.7" height="1.7" fill="#2f5680" stroke="none" stroke-width="1" />
<rect x="224.76" y="742.69" width="1.7" height="1.7" fill="#2f5680" stroke="none" stroke-width="1" />
<rect x="230.02" y="744.85" width="1.7" height="1.7" fill="#2f5680" stroke="none" stroke-width="1" />
<rect x="235.33" y="743.05" width="1.7" height="1.7" fill="#2f5680" stroke="none" stroke-width="1" />
<rect x="240.7" y="740.17" width="1.7" height="1.7" fill="#2f5680" stroke="none" stroke-width="1" />
<rect x="246.12" y="741.97" width="1.7" height="1.7" fill="#2f5680" stroke="none" stroke-width="1" />
<rect x="251.59" y="741.61" width="1.7" height="1.7" fill="#2f5680" stroke="none" stroke-width="1" />
<rect x="257.12" y="736.21" width="1.7" height="1.7" fill="#2f5680" stroke="none" stroke-width="1" />
<rect x="262.7" y="696.61" width="1.7" height="1.7" fill="#2f5680" stroke="none" stroke-width="1" />
<rect x="268.34" y="684.73" width="1.7" height="1.7" fill="#2f5680" stroke="none" stroke-width="1" />
<rect x="274.02" y="683.65" width="1.7" height="1.7" fill="#2f5680" stroke="none" stroke-width="1" />
<rect x="279.77" y="683.65" width="1.7" height="1.7" fill="#2f5680" stroke="none" stroke-width="1" />
<rect x="285.56" y="684.73" width="1.7" height="1.7" fill="#2f5680" stroke="none" stroke-width="1" />
<rect x="291.41" y="684.01" width="1.7" height="1.7" fill="#2f5680" stroke="none" stroke-width="1" />
<rect x="297.32" y="683.65" width="1.7" height="1.7" fill="#2f5680" stroke="none" stroke-width="1" />
<rect x="303.27" y="682.93" width="1.7" height="1.7" fill="#2f5680" stroke="none" stroke-width="1" />
<rect x="309.28" y="682.21" width="1.7" height="1.7" fill="#2f5680" stroke="none" stroke-width="1" />
<rect x="315.35" y="683.65" width="1.7" height="1.7" fill="#2f5680" stroke="none" stroke-width="1" />
<text x="292.7" y="741" font-family='"Liberation Serif", serif' font-size="10.1" font-weight="bold" fill="#111" text-anchor="middle" >Kd: 0.022 µM</text>
<circle cx="428" cy="555.9" r="17.9" fill="#d0e8ec" stroke="#b4ccd2" stroke-width="0.6"/>
<text x="428" y="561.7" font-family='"Liberation Serif", serif' font-size="15.9" font-weight="bold" fill="#111" text-anchor="middle" >R12</text>
<line x1="448.3" y1="557.6" x2="461.7" y2="557.6" stroke="#111" stroke-width="1.6" />
<line x1="455" y1="550.9" x2="455" y2="564.3" stroke="#111" stroke-width="1.6" />
<rect x="464" y="545.5" width="72.8" height="26" fill="#e898f8" stroke="none" stroke-width="1" />
<text x="500.4" y="563.86" font-family='"Liberation Serif", serif' font-size="14.9" font-weight="bold" fill="#111" text-anchor="middle" >AMP-PCP</text>
<text x="501.4" y="541" font-family='"Liberation Serif", serif' font-size="12.4" font-weight="bold" fill="#111" text-anchor="middle" >500 µM</text>
<rect x="367.1" y="651.8" width="45.4" height="27.6" fill="#44ff22" stroke="none" stroke-width="1" />
<text x="389.8" y="671.43" font-family='"Liberation Serif", serif' font-size="16.2" font-weight="bold" fill="#111" text-anchor="middle" >AZU</text>
<line x1="426" y1="581.2" x2="426" y2="654.5" stroke="#c4c4c4" stroke-width="1" />
<line x1="426" y1="654.5" x2="537.4" y2="654.5" stroke="#c4c4c4" stroke-width="1" />
<line x1="424.1" y1="583.2" x2="426" y2="583.2" stroke="#7a7a7a" stroke-width="0.6" />
<text x="423.4" y="584.95" font-family='"Liberation Sans", sans-serif' font-size="5.3" font-weight="normal" fill="#444" text-anchor="end" >0.1</text>
<line x1="424.1" y1="590.2" x2="426" y2="590.2" stroke="#7a7a7a" stroke-width="0.6" />
<text x="423.4" y="591.95" font-family='"Liberation Sans", sans-serif' font-size="5.3" font-weight="normal" fill="#444" text-anchor="end" >0</text>
<line x1="424.1" y1="597.2" x2="426" y2="597.2" stroke="#7a7a7a" stroke-width="0.6" />
<text x="423.4" y="598.95" font-family='"Liberation Sans", sans-serif' font-size="5.3" font-weight="normal" fill="#444" text-anchor="end" >-0.1</text>
<line x1="424.1" y1="604.2" x2="426" y2="604.2" stroke="#7a7a7a" stroke-width="0.6" />
<text x="423.4" y="605.95" font-family='"Liberation Sans", sans-serif' font-size="5.3" font-weight="normal" fill="#444" text-anchor="end" >-0.2</text>
<line x1="424.1" y1="611.2" x2="426" y2="611.2" stroke="#7a7a7a" stroke-width="0.6" />
<text x="423.4" y="612.95" font-family='"Liberation Sans", sans-serif' font-size="5.3" font-weight="normal" fill="#444" text-anchor="end" >-0.3</text>
<line x1="424.1" y1="618.2" x2="426" y2="618.2" stroke="#7a7a7a" stroke-width="0.6" />
<text x="423.4" y="619.95" font-family='"Liberation Sans", sans-serif' font-size="5.3" font-weight="normal" fill="#444" text-anchor="end" >-0.4</text>
<line x1="424.1" y1="625.2" x2="426" y2="625.2" stroke="#7a7a7a" stroke-width="0.6" />
<text x="423.4" y="626.95" font-family='"Liberation Sans", sans-serif' font-size="5.3" font-weight="normal" fill="#444" text-anchor="end" >-0.5</text>
<line x1="424.1" y1="632.2" x2="426" y2="632.2" stroke="#7a7a7a" stroke-width="0.6" />
<text x="423.4" y="633.95" font-family='"Liberation Sans", sans-serif' font-size="5.3" font-weight="normal" fill="#444" text-anchor="end" >-0.6</text>
<line x1="424.1" y1="639.2" x2="426" y2="639.2" stroke="#7a7a7a" stroke-width="0.6" />
<text x="423.4" y="640.95" font-family='"Liberation Sans", sans-serif' font-size="5.3" font-weight="normal" fill="#444" text-anchor="end" >-0.7</text>
<line x1="424.1" y1="646.2" x2="426" y2="646.2" stroke="#7a7a7a" stroke-width="0.6" />
<text x="423.4" y="647.95" font-family='"Liberation Sans", sans-serif' font-size="5.3" font-weight="normal" fill="#444" text-anchor="end" >-0.8</text>
<line x1="424.1" y1="653.2" x2="426" y2="653.2" stroke="#7a7a7a" stroke-width="0.6" />
<text x="423.4" y="654.95" font-family='"Liberation Sans", sans-serif' font-size="5.3" font-weight="normal" fill="#444" text-anchor="end" >-0.9</text>
<line x1="424.8" y1="586.7" x2="426" y2="586.7" stroke="#7a7a7a" stroke-width="0.5" />
<line x1="424.8" y1="593.7" x2="426" y2="593.7" stroke="#7a7a7a" stroke-width="0.5" />
<line x1="424.8" y1="600.7" x2="426" y2="600.7" stroke="#7a7a7a" stroke-width="0.5" />
<line x1="424.8" y1="607.7" x2="426" y2="607.7" stroke="#7a7a7a" stroke-width="0.5" />
<line x1="424.8" y1="614.7" x2="426" y2="614.7" stroke="#7a7a7a" stroke-width="0.5" />
<line x1="424.8" y1="621.7" x2="426" y2="621.7" stroke="#7a7a7a" stroke-width="0.5" />
<line x1="424.8" y1="628.7" x2="426" y2="628.7" stroke="#7a7a7a" stroke-width="0.5" />
<line x1="424.8" y1="635.7" x2="426" y2="635.7" stroke="#7a7a7a" stroke-width="0.5" />
<line x1="424.8" y1="642.7" x2="426" y2="642.7" stroke="#7a7a7a" stroke-width="0.5" />
<line x1="424.8" y1="649.7" x2="426" y2="649.7" stroke="#7a7a7a" stroke-width="0.5" />
<line x1="426" y1="654.5" x2="426" y2="656.4" stroke="#7a7a7a" stroke-width="0.6" />
<text x="426" y="662.1" font-family='"Liberation Sans", sans-serif' font-size="5.3" font-weight="normal" fill="#444" text-anchor="middle" >0</text>
<line x1="436.9" y1="654.5" x2="436.9" y2="656.4" stroke="#7a7a7a" stroke-width="0.6" />
<text x="436.9" y="662.1" font-family='"Liberation Sans", sans-serif' font-size="5.3" font-weight="normal" fill="#444" text-anchor="middle" >5</text>
<line x1="447.8" y1="654.5" x2="447.8" y2="656.4" stroke="#7a7a7a" stroke-width="0.6" />
<text x="447.8" y="662.1" font-family='"Liberation Sans", sans-serif' font-size="5.3" font-weight="normal" fill="#444" text-anchor="middle" >10</text>
<line x1="458.7" y1="654.5" x2="458.7" y2="656.4" stroke="#7a7a7a" stroke-width="0.6" />
<text x="458.7" y="662.1" font-family='"Liberation Sans", sans-serif' font-size="5.3" font-weight="normal" fill="#444" text-anchor="middle" >15</text>
<line x1="469.6" y1="654.5" x2="469.6" y2="656.4" stroke="#7a7a7a" stroke-width="0.6" />
<text x="469.6" y="662.1" font-family='"Liberation Sans", sans-serif' font-size="5.3" font-weight="normal" fill="#444" text-anchor="middle" >20</text>
<line x1="480.5" y1="654.5" x2="480.5" y2="656.4" stroke="#7a7a7a" stroke-width="0.6" />
<text x="480.5" y="662.1" font-family='"Liberation Sans", sans-serif' font-size="5.3" font-weight="normal" fill="#444" text-anchor="middle" >25</text>
<line x1="491.4" y1="654.5" x2="491.4" y2="656.4" stroke="#7a7a7a" stroke-width="0.6" />
<text x="491.4" y="662.1" font-family='"Liberation Sans", sans-serif' font-size="5.3" font-weight="normal" fill="#444" text-anchor="middle" >30</text>
<line x1="502.3" y1="654.5" x2="502.3" y2="656.4" stroke="#7a7a7a" stroke-width="0.6" />
<text x="502.3" y="662.1" font-family='"Liberation Sans", sans-serif' font-size="5.3" font-weight="normal" fill="#444" text-anchor="middle" >35</text>
<line x1="513.2" y1="654.5" x2="513.2" y2="656.4" stroke="#7a7a7a" stroke-width="0.6" />
<text x="513.2" y="662.1" font-family='"Liberation Sans", sans-serif' font-size="5.3" font-weight="normal" fill="#444" text-anchor="middle" >40</text>
<line x1="524.1" y1="654.5" x2="524.1" y2="656.4" stroke="#7a7a7a" stroke-width="0.6" />
<text x="524.1" y="662.1" font-family='"Liberation Sans", sans-serif' font-size="5.3" font-weight="normal" fill="#444" text-anchor="middle" >45</text>
<line x1="535" y1="654.5" x2="535" y2="656.4" stroke="#7a7a7a" stroke-width="0.6" />
<text x="535" y="662.1" font-family='"Liberation Sans", sans-serif' font-size="5.3" font-weight="normal" fill="#444" text-anchor="middle" >50</text>
<line x1="431.45" y1="654.5" x2="431.45" y2="655.7" stroke="#7a7a7a" stroke-width="0.5" />
<line x1="442.35" y1="654.5" x2="442.35" y2="655.7" stroke="#7a7a7a" stroke-width="0.5" />
<line x1="453.25" y1="654.5" x2="453.25" y2="655.7" stroke="#7a7a7a" stroke-width="0.5" />
<line x1="464.15" y1="654.5" x2="464.15" y2="655.7" stroke="#7a7a7a" stroke-width="0.5" />
<line x1="475.05" y1="654.5" x2="475.05" y2="655.7" stroke="#7a7a7a" stroke-width="0.5" />
<line x1="485.95" y1="654.5" x2="485.95" y2="655.7" stroke="#7a7a7a" stroke-width="0.5" />
<line x1="496.85" y1="654.5" x2="496.85" y2="655.7" stroke="#7a7a7a" stroke-width="0.5" />
<line x1="507.75" y1="654.5" x2="507.75" y2="655.7" stroke="#7a7a7a" stroke-width="0.5" />
<line x1="518.65" y1="654.5" x2="518.65" y2="655.7" stroke="#7a7a7a" stroke-width="0.5" />
<line x1="529.55" y1="654.5" x2="529.55" y2="655.7" stroke="#7a7a7a" stroke-width="0.5" />
<text x="477.7" y="670.1" font-family='"Liberation Sans", sans-serif' font-size="7.9" font-weight="normal" fill="#333" text-anchor="middle" >Time (min)</text>
<text transform="translate(410.65,619.85) rotate(-90)" x="0" y="0" font-family='"Liberation Sans", sans-serif' font-size="7.9" fill="#333" text-anchor="middle">DP (µcal/s)</text>
<path d="M426.65 590.2 L428.18 590.2 L429.38 590.24 L430.58 590.5 L431.78 590.18 L432.98 590.21 L434.39 590.2 L434.79 589.98 L435.98 590.21 L437.18 590.29 L438.38 590.41 L439.8 590.2 L440.19 590.06 L441.39 589.91 L442.59 590.42 L443.79 590.34 L445.21 590.2 L445.6 590.54 L446.8 590.53 L448 590.31 L449.2 590.28 L450.61 590.2 L451 589.86 L452.2 590.22 L453.4 589.89 L454.6 589.98 L456.02 590.2 L456.41 589.87 L457.61 590.17 L458.81 590.16 L460.01 590.44 L461.43 590.2 L461.82 590.3 L463.02 590.2 L464.22 590.31 L465.41 590.17 L466.83 590.2 L467.22 590.55 L468.42 590.55 L469.62 590.44 L470.82 590.35 L472.24 590.2 L472.63 590.01 L473.83 590.05 L475.03 589.9 L476.23 590.39 L477.64 590.2 L478.04 590.44 L479.24 590.12 L480.43 590.52 L481.63 590.44 L483.05 590.2 L483.44 590 L484.64 590.49 L485.84 590.18 L487.04 590.54 L488.46 590.2 L488.85 589.9 L490.05 590.29 L491.25 590.39 L492.45 590.04 L493.86 590.2 L494.26 590.08 L495.45 590.52 L496.65 590.38 L497.85 589.93 L499.27 590.2 L499.66 589.92 L500.86 589.89 L502.06 590.41 L503.26 589.97 L504.68 590.2 L505.07 590.16 L506.27 589.98 L507.47 590.36 L508.67 589.94 L510.08 590.2 L510.48 589.93 L511.67 590.14 L512.87 590 L514.07 590.04 L515.49 590.2 L515.88 590.41 L517.08 590.06 L518.28 590.47 L519.48 590 L520.9 590.2 L521.29 590.45 L522.49 590.3 L523.69 589.92 L524.88 590.54 L526.3 590.2 L531.29 590.2" stroke="#5b7393" stroke-width="0.45" fill="none" stroke-linejoin="round"/>
<path d="M428.18 590.2 L428.23 600.7 L429.43 590.62 Z" stroke="none" stroke-width="1" fill="#c5d0dd" />
<line x1="428.28" y1="590.2" x2="428.28" y2="600.7" stroke="#546d8e" stroke-width="0.85" />
<path d="M434.39 590.2 L434.44 651.8 L435.64 592.66 Z" stroke="none" stroke-width="1" fill="#c5d0dd" />
<line x1="434.49" y1="590.2" x2="434.49" y2="651.8" stroke="#546d8e" stroke-width="0.85" />
<path d="M439.8 590.2 L439.85 649.7 L441.05 592.58 Z" stroke="none" stroke-width="1" fill="#c5d0dd" />
<line x1="439.9" y1="590.2" x2="439.9" y2="649.7" stroke="#546d8e" stroke-width="0.85" />
<path d="M445.21 590.2 L445.26 649.7 L446.46 592.58 Z" stroke="none" stroke-width="1" fill="#c5d0dd" />
<line x1="445.31" y1="590.2" x2="445.31" y2="649.7" stroke="#546d8e" stroke-width="0.85" />
<path d="M450.61 590.2 L450.66 649.7 L451.86 592.58 Z" stroke="none" stroke-width="1" fill="#c5d0dd" />
<line x1="450.71" y1="590.2" x2="450.71" y2="649.7" stroke="#546d8e" stroke-width="0.85" />
<path d="M456.02 590.2 L456.07 648.3 L457.27 592.52 Z" stroke="none" stroke-width="1" fill="#c5d0dd" />
<line x1="456.12" y1="590.2" x2="456.12" y2="648.3" stroke="#546d8e" stroke-width="0.85" />
<path d="M461.43 590.2 L461.48 646.2 L462.68 592.44 Z" stroke="none" stroke-width="1" fill="#c5d0dd" />
<line x1="461.53" y1="590.2" x2="461.53" y2="646.2" stroke="#546d8e" stroke-width="0.85" />
<path d="M466.83 590.2 L466.88 646.2 L468.08 592.44 Z" stroke="none" stroke-width="1" fill="#c5d0dd" />
<line x1="466.93" y1="590.2" x2="466.93" y2="646.2" stroke="#546d8e" stroke-width="0.85" />
<path d="M472.24 590.2 L472.29 641.3 L473.49 592.24 Z" stroke="none" stroke-width="1" fill="#c5d0dd" />
<line x1="472.34" y1="590.2" x2="472.34" y2="641.3" stroke="#546d8e" stroke-width="0.85" />
<path d="M477.64 590.2 L477.69 620.3 L478.89 591.4 Z" stroke="none" stroke-width="1" fill="#c5d0dd" />
<line x1="477.74" y1="590.2" x2="477.74" y2="620.3" stroke="#546d8e" stroke-width="0.85" />
<path d="M483.05 590.2 L483.1 602.8 L484.3 590.7 Z" stroke="none" stroke-width="1" fill="#c5d0dd" />
<line x1="483.15" y1="590.2" x2="483.15" y2="602.8" stroke="#546d8e" stroke-width="0.85" />
<path d="M488.46 590.2 L488.51 597.2 L489.71 590.48 Z" stroke="none" stroke-width="1" fill="#c5d0dd" />
<line x1="488.56" y1="590.2" x2="488.56" y2="597.2" stroke="#546d8e" stroke-width="0.85" />
<path d="M493.86 590.2 L493.91 595.8 L495.11 590.42 Z" stroke="none" stroke-width="1" fill="#c5d0dd" />
<line x1="493.96" y1="590.2" x2="493.96" y2="595.8" stroke="#546d8e" stroke-width="0.85" />
<path d="M499.27 590.2 L499.32 595.8 L500.52 590.42 Z" stroke="none" stroke-width="1" fill="#c5d0dd" />
<line x1="499.37" y1="590.2" x2="499.37" y2="595.8" stroke="#546d8e" stroke-width="0.85" />
<path d="M504.68 590.2 L504.73 595.1 L505.93 590.4 Z" stroke="none" stroke-width="1" fill="#c5d0dd" />
<line x1="504.78" y1="590.2" x2="504.78" y2="595.1" stroke="#546d8e" stroke-width="0.85" />
<path d="M510.08 590.2 L510.13 595.8 L511.33 590.42 Z" stroke="none" stroke-width="1" fill="#c5d0dd" />
<line x1="510.18" y1="590.2" x2="510.18" y2="595.8" stroke="#546d8e" stroke-width="0.85" />
<path d="M515.49 590.2 L515.54 593.7 L516.74 590.34 Z" stroke="none" stroke-width="1" fill="#c5d0dd" />
<line x1="515.59" y1="590.2" x2="515.59" y2="593.7" stroke="#546d8e" stroke-width="0.85" />
<path d="M520.9 590.2 L520.95 598.6 L522.15 590.54 Z" stroke="none" stroke-width="1" fill="#c5d0dd" />
<line x1="521" y1="590.2" x2="521" y2="598.6" stroke="#546d8e" stroke-width="0.85" />
<path d="M526.3 590.2 L526.35 593.7 L527.55 590.34 Z" stroke="none" stroke-width="1" fill="#c5d0dd" />
<line x1="526.4" y1="590.2" x2="526.4" y2="593.7" stroke="#546d8e" stroke-width="0.85" />
<line x1="428.07" y1="590.2" x2="428.07" y2="588.22" stroke="#5b7393" stroke-width="0.45" />
<line x1="434.28" y1="590.2" x2="434.28" y2="587.94" stroke="#5b7393" stroke-width="0.45" />
<line x1="439.69" y1="590.2" x2="439.69" y2="588.96" stroke="#5b7393" stroke-width="0.45" />
<line x1="445.1" y1="590.2" x2="445.1" y2="589.07" stroke="#5b7393" stroke-width="0.45" />
<line x1="450.5" y1="590.2" x2="450.5" y2="588.83" stroke="#5b7393" stroke-width="0.45" />
<line x1="455.91" y1="590.2" x2="455.91" y2="588.66" stroke="#5b7393" stroke-width="0.45" />
<line x1="461.32" y1="590.2" x2="461.32" y2="588.08" stroke="#5b7393" stroke-width="0.45" />
<line x1="466.72" y1="590.2" x2="466.72" y2="588.58" stroke="#5b7393" stroke-width="0.45" />
<line x1="472.13" y1="590.2" x2="472.13" y2="588.5" stroke="#5b7393" stroke-width="0.45" />
<line x1="477.54" y1="590.2" x2="477.54" y2="588.33" stroke="#5b7393" stroke-width="0.45" />
<line x1="482.94" y1="590.2" x2="482.94" y2="589.16" stroke="#5b7393" stroke-width="0.45" />
<line x1="488.35" y1="590.2" x2="488.35" y2="588.33" stroke="#5b7393" stroke-width="0.45" />
<line x1="493.75" y1="590.2" x2="493.75" y2="588.98" stroke="#5b7393" stroke-width="0.45" />
<line x1="499.16" y1="590.2" x2="499.16" y2="588.65" stroke="#5b7393" stroke-width="0.45" />
<line x1="504.57" y1="590.2" x2="504.57" y2="588" stroke="#5b7393" stroke-width="0.45" />
<line x1="509.97" y1="590.2" x2="509.97" y2="587.82" stroke="#5b7393" stroke-width="0.45" />
<line x1="515.38" y1="590.2" x2="515.38" y2="587.14" stroke="#5b7393" stroke-width="0.45" />
<line x1="520.79" y1="590.2" x2="520.79" y2="588.34" stroke="#5b7393" stroke-width="0.45" />
<line x1="526.19" y1="590.2" x2="526.19" y2="588.72" stroke="#5b7393" stroke-width="0.45" />
<line x1="426.5" y1="679.4" x2="426.5" y2="752.5" stroke="#c4c4c4" stroke-width="1" />
<line x1="426.5" y1="752.5" x2="536" y2="752.5" stroke="#c4c4c4" stroke-width="1" />
<line x1="424.6" y1="684.7" x2="426.5" y2="684.7" stroke="#7a7a7a" stroke-width="0.6" />
<text x="423.9" y="686.45" font-family='"Liberation Sans", sans-serif' font-size="5.3" font-weight="normal" fill="#444" text-anchor="end" >0</text>
<line x1="424.6" y1="695.2" x2="426.5" y2="695.2" stroke="#7a7a7a" stroke-width="0.6" />
<text x="423.9" y="696.95" font-family='"Liberation Sans", sans-serif' font-size="5.3" font-weight="normal" fill="#444" text-anchor="end" >-0.5</text>
<line x1="424.6" y1="705.7" x2="426.5" y2="705.7" stroke="#7a7a7a" stroke-width="0.6" />
<text x="423.9" y="707.45" font-family='"Liberation Sans", sans-serif' font-size="5.3" font-weight="normal" fill="#444" text-anchor="end" >-1</text>
<line x1="424.6" y1="716.2" x2="426.5" y2="716.2" stroke="#7a7a7a" stroke-width="0.6" />
<text x="423.9" y="717.95" font-family='"Liberation Sans", sans-serif' font-size="5.3" font-weight="normal" fill="#444" text-anchor="end" >-1.5</text>
<line x1="424.6" y1="726.7" x2="426.5" y2="726.7" stroke="#7a7a7a" stroke-width="0.6" />
<text x="423.9" y="728.45" font-family='"Liberation Sans", sans-serif' font-size="5.3" font-weight="normal" fill="#444" text-anchor="end" >-2</text>
<line x1="424.6" y1="737.2" x2="426.5" y2="737.2" stroke="#7a7a7a" stroke-width="0.6" />
<text x="423.9" y="738.95" font-family='"Liberation Sans", sans-serif' font-size="5.3" font-weight="normal" fill="#444" text-anchor="end" >-2.5</text>
<line x1="424.6" y1="747.7" x2="426.5" y2="747.7" stroke="#7a7a7a" stroke-width="0.6" />
<text x="423.9" y="749.45" font-family='"Liberation Sans", sans-serif' font-size="5.3" font-weight="normal" fill="#444" text-anchor="end" >-3</text>
<line x1="425.3" y1="689.95" x2="426.5" y2="689.95" stroke="#7a7a7a" stroke-width="0.5" />
<line x1="425.3" y1="700.45" x2="426.5" y2="700.45" stroke="#7a7a7a" stroke-width="0.5" />
<line x1="425.3" y1="710.95" x2="426.5" y2="710.95" stroke="#7a7a7a" stroke-width="0.5" />
<line x1="425.3" y1="721.45" x2="426.5" y2="721.45" stroke="#7a7a7a" stroke-width="0.5" />
<line x1="425.3" y1="731.95" x2="426.5" y2="731.95" stroke="#7a7a7a" stroke-width="0.5" />
<line x1="425.3" y1="742.45" x2="426.5" y2="742.45" stroke="#7a7a7a" stroke-width="0.5" />
<line x1="426.5" y1="752.5" x2="426.5" y2="754.4" stroke="#7a7a7a" stroke-width="0.6" />
<text x="426.5" y="760.1" font-family='"Liberation Sans", sans-serif' font-size="5.3" font-weight="normal" fill="#444" text-anchor="middle" >0</text>
<line x1="437.56" y1="752.5" x2="437.56" y2="754.4" stroke="#7a7a7a" stroke-width="0.6" />
<text x="437.56" y="760.1" font-family='"Liberation Sans", sans-serif' font-size="5.3" font-weight="normal" fill="#444" text-anchor="middle" >0.2</text>
<line x1="448.61" y1="752.5" x2="448.61" y2="754.4" stroke="#7a7a7a" stroke-width="0.6" />
<text x="448.61" y="760.1" font-family='"Liberation Sans", sans-serif' font-size="5.3" font-weight="normal" fill="#444" text-anchor="middle" >0.4</text>
<line x1="459.67" y1="752.5" x2="459.67" y2="754.4" stroke="#7a7a7a" stroke-width="0.6" />
<text x="459.67" y="760.1" font-family='"Liberation Sans", sans-serif' font-size="5.3" font-weight="normal" fill="#444" text-anchor="middle" >0.6</text>
<line x1="470.72" y1="752.5" x2="470.72" y2="754.4" stroke="#7a7a7a" stroke-width="0.6" />
<text x="470.72" y="760.1" font-family='"Liberation Sans", sans-serif' font-size="5.3" font-weight="normal" fill="#444" text-anchor="middle" >0.8</text>
<line x1="481.78" y1="752.5" x2="481.78" y2="754.4" stroke="#7a7a7a" stroke-width="0.6" />
<text x="481.78" y="760.1" font-family='"Liberation Sans", sans-serif' font-size="5.3" font-weight="normal" fill="#444" text-anchor="middle" >1</text>
<line x1="492.83" y1="752.5" x2="492.83" y2="754.4" stroke="#7a7a7a" stroke-width="0.6" />
<text x="492.83" y="760.1" font-family='"Liberation Sans", sans-serif' font-size="5.3" font-weight="normal" fill="#444" text-anchor="middle" >1.2</text>
<line x1="503.89" y1="752.5" x2="503.89" y2="754.4" stroke="#7a7a7a" stroke-width="0.6" />
<text x="503.89" y="760.1" font-family='"Liberation Sans", sans-serif' font-size="5.3" font-weight="normal" fill="#444" text-anchor="middle" >1.4</text>
<line x1="514.94" y1="752.5" x2="514.94" y2="754.4" stroke="#7a7a7a" stroke-width="0.6" />
<text x="514.94" y="760.1" font-family='"Liberation Sans", sans-serif' font-size="5.3" font-weight="normal" fill="#444" text-anchor="middle" >1.6</text>
<line x1="526" y1="752.5" x2="526" y2="754.4" stroke="#7a7a7a" stroke-width="0.6" />
<text x="526" y="760.1" font-family='"Liberation Sans", sans-serif' font-size="5.3" font-weight="normal" fill="#444" text-anchor="middle" >1.8</text>
<line x1="432.03" y1="752.5" x2="432.03" y2="753.7" stroke="#7a7a7a" stroke-width="0.5" />
<line x1="443.08" y1="752.5" x2="443.08" y2="753.7" stroke="#7a7a7a" stroke-width="0.5" />
<line x1="454.14" y1="752.5" x2="454.14" y2="753.7" stroke="#7a7a7a" stroke-width="0.5" />
<line x1="465.19" y1="752.5" x2="465.19" y2="753.7" stroke="#7a7a7a" stroke-width="0.5" />
<line x1="476.25" y1="752.5" x2="476.25" y2="753.7" stroke="#7a7a7a" stroke-width="0.5" />
<line x1="487.31" y1="752.5" x2="487.31" y2="753.7" stroke="#7a7a7a" stroke-width="0.5" />
<line x1="498.36" y1="752.5" x2="498.36" y2="753.7" stroke="#7a7a7a" stroke-width="0.5" />
<line x1="509.42" y1="752.5" x2="509.42" y2="753.7" stroke="#7a7a7a" stroke-width="0.5" />
<line x1="520.47" y1="752.5" x2="520.47" y2="753.7" stroke="#7a7a7a" stroke-width="0.5" />
<line x1="531.53" y1="752.5" x2="531.53" y2="753.7" stroke="#7a7a7a" stroke-width="0.5" />
<text x="478.2" y="769.3" font-family='"Liberation Sans", sans-serif' font-size="7.9" font-weight="normal" fill="#333" text-anchor="middle" >Molar Ratio</text>
<text transform="translate(410.55,717.95) rotate(-90)" x="0" y="0" font-family='"Liberation Sans", sans-serif' font-size="7.9" fill="#333" text-anchor="middle">ΔH (kcal/mol)</text>
<path d="M427.05 747.07 L432.58 747.07 L437.94 747.07 L443.36 747.07 L448.83 747.07 L454.36 747.07 L459.94 747.03 L465.58 746.72 L471.27 744.1 L477.02 727.75 L482.83 696.88 L488.69 686.27 L494.6 684.87 L500.57 684.72 L506.6 684.7 L512.68 684.7 L518.81 684.7 L525 684.7 L531.25 684.7" stroke="#6aa6b9" stroke-width="0.85" fill="none" stroke-linejoin="round"/>
<rect x="431.73" y="746.85" width="1.7" height="1.7" fill="#2f5680" stroke="none" stroke-width="1" />
<rect x="437.09" y="744.33" width="1.7" height="1.7" fill="#2f5680" stroke="none" stroke-width="1" />
<rect x="442.51" y="744.75" width="1.7" height="1.7" fill="#2f5680" stroke="none" stroke-width="1" />
<rect x="447.98" y="746.85" width="1.7" height="1.7" fill="#2f5680" stroke="none" stroke-width="1" />
<rect x="453.51" y="744.75" width="1.7" height="1.7" fill="#2f5680" stroke="none" stroke-width="1" />
<rect x="459.09" y="745.8" width="1.7" height="1.7" fill="#2f5680" stroke="none" stroke-width="1" />
<rect x="464.73" y="747.9" width="1.7" height="1.7" fill="#2f5680" stroke="none" stroke-width="1" />
<rect x="470.42" y="745.38" width="1.7" height="1.7" fill="#2f5680" stroke="none" stroke-width="1" />
<rect x="476.17" y="726.9" width="1.7" height="1.7" fill="#2f5680" stroke="none" stroke-width="1" />
<rect x="481.98" y="696.03" width="1.7" height="1.7" fill="#2f5680" stroke="none" stroke-width="1" />
<rect x="487.84" y="684.9" width="1.7" height="1.7" fill="#2f5680" stroke="none" stroke-width="1" />
<rect x="493.75" y="685.53" width="1.7" height="1.7" fill="#2f5680" stroke="none" stroke-width="1" />
<rect x="499.72" y="684.9" width="1.7" height="1.7" fill="#2f5680" stroke="none" stroke-width="1" />
<rect x="505.75" y="683.22" width="1.7" height="1.7" fill="#2f5680" stroke="none" stroke-width="1" />
<rect x="511.83" y="682.17" width="1.7" height="1.7" fill="#2f5680" stroke="none" stroke-width="1" />
<rect x="517.96" y="683.22" width="1.7" height="1.7" fill="#2f5680" stroke="none" stroke-width="1" />
<rect x="524.15" y="685.32" width="1.7" height="1.7" fill="#2f5680" stroke="none" stroke-width="1" />
<rect x="530.4" y="684.9" width="1.7" height="1.7" fill="#2f5680" stroke="none" stroke-width="1" />
<text x="507.1" y="744.6" font-family='"Liberation Serif", serif' font-size="10.1" font-weight="bold" fill="#111" text-anchor="middle" >Kd: 0.114 µM</text>
<circle cx="574.6" cy="557.7" r="17.9" fill="#d0e8ec" stroke="#b4ccd2" stroke-width="0.6"/>
<text x="574.6" y="563.5" font-family='"Liberation Serif", serif' font-size="15.9" font-weight="bold" fill="#111" text-anchor="middle" >R12</text>
<line x1="594.9" y1="557.3" x2="608.3" y2="557.3" stroke="#111" stroke-width="1.6" />
<line x1="601.6" y1="550.6" x2="601.6" y2="564" stroke="#111" stroke-width="1.6" />
<rect x="610.3" y="546" width="73.1" height="25.6" fill="#e898f8" stroke="none" stroke-width="1" />
<text x="646.85" y="564.16" font-family='"Liberation Serif", serif' font-size="14.9" font-weight="bold" fill="#111" text-anchor="middle" >AMP-PCP</text>
<text x="646.9" y="542.6" font-family='"Liberation Serif", serif' font-size="12.4" font-weight="bold" fill="#111" text-anchor="middle" >5 mM</text>
<line x1="573.3" y1="583.8" x2="573.3" y2="653.4" stroke="#c4c4c4" stroke-width="1" />
<line x1="573.3" y1="653.4" x2="681.2" y2="653.4" stroke="#c4c4c4" stroke-width="1" />
<line x1="571.4" y1="588.3" x2="573.3" y2="588.3" stroke="#7a7a7a" stroke-width="0.6" />
<text x="570.7" y="590.05" font-family='"Liberation Sans", sans-serif' font-size="5.3" font-weight="normal" fill="#444" text-anchor="end" >0</text>
<line x1="571.4" y1="600.98" x2="573.3" y2="600.98" stroke="#7a7a7a" stroke-width="0.6" />
<text x="570.7" y="602.73" font-family='"Liberation Sans", sans-serif' font-size="5.3" font-weight="normal" fill="#444" text-anchor="end" >-0.2</text>
<line x1="571.4" y1="613.66" x2="573.3" y2="613.66" stroke="#7a7a7a" stroke-width="0.6" />
<text x="570.7" y="615.41" font-family='"Liberation Sans", sans-serif' font-size="5.3" font-weight="normal" fill="#444" text-anchor="end" >-0.4</text>
<line x1="571.4" y1="626.34" x2="573.3" y2="626.34" stroke="#7a7a7a" stroke-width="0.6" />
<text x="570.7" y="628.09" font-family='"Liberation Sans", sans-serif' font-size="5.3" font-weight="normal" fill="#444" text-anchor="end" >-0.6</text>
<line x1="571.4" y1="639.02" x2="573.3" y2="639.02" stroke="#7a7a7a" stroke-width="0.6" />
<text x="570.7" y="640.77" font-family='"Liberation Sans", sans-serif' font-size="5.3" font-weight="normal" fill="#444" text-anchor="end" >-0.8</text>
<line x1="571.4" y1="651.7" x2="573.3" y2="651.7" stroke="#7a7a7a" stroke-width="0.6" />
<text x="570.7" y="653.45" font-family='"Liberation Sans", sans-serif' font-size="5.3" font-weight="normal" fill="#444" text-anchor="end" >-1</text>
<line x1="572.1" y1="594.64" x2="573.3" y2="594.64" stroke="#7a7a7a" stroke-width="0.5" />
<line x1="572.1" y1="607.32" x2="573.3" y2="607.32" stroke="#7a7a7a" stroke-width="0.5" />
<line x1="572.1" y1="620" x2="573.3" y2="620" stroke="#7a7a7a" stroke-width="0.5" />
<line x1="572.1" y1="632.68" x2="573.3" y2="632.68" stroke="#7a7a7a" stroke-width="0.5" />
<line x1="572.1" y1="645.36" x2="573.3" y2="645.36" stroke="#7a7a7a" stroke-width="0.5" />
<line x1="573.3" y1="653.4" x2="573.3" y2="655.3" stroke="#7a7a7a" stroke-width="0.6" />
<text x="573.3" y="661" font-family='"Liberation Sans", sans-serif' font-size="5.3" font-weight="normal" fill="#444" text-anchor="middle" >0</text>
<line x1="583.87" y1="653.4" x2="583.87" y2="655.3" stroke="#7a7a7a" stroke-width="0.6" />
<text x="583.87" y="661" font-family='"Liberation Sans", sans-serif' font-size="5.3" font-weight="normal" fill="#444" text-anchor="middle" >5</text>
<line x1="594.44" y1="653.4" x2="594.44" y2="655.3" stroke="#7a7a7a" stroke-width="0.6" />
<text x="594.44" y="661" font-family='"Liberation Sans", sans-serif' font-size="5.3" font-weight="normal" fill="#444" text-anchor="middle" >10</text>
<line x1="605.01" y1="653.4" x2="605.01" y2="655.3" stroke="#7a7a7a" stroke-width="0.6" />
<text x="605.01" y="661" font-family='"Liberation Sans", sans-serif' font-size="5.3" font-weight="normal" fill="#444" text-anchor="middle" >15</text>
<line x1="615.58" y1="653.4" x2="615.58" y2="655.3" stroke="#7a7a7a" stroke-width="0.6" />
<text x="615.58" y="661" font-family='"Liberation Sans", sans-serif' font-size="5.3" font-weight="normal" fill="#444" text-anchor="middle" >20</text>
<line x1="626.15" y1="653.4" x2="626.15" y2="655.3" stroke="#7a7a7a" stroke-width="0.6" />
<text x="626.15" y="661" font-family='"Liberation Sans", sans-serif' font-size="5.3" font-weight="normal" fill="#444" text-anchor="middle" >25</text>
<line x1="636.72" y1="653.4" x2="636.72" y2="655.3" stroke="#7a7a7a" stroke-width="0.6" />
<text x="636.72" y="661" font-family='"Liberation Sans", sans-serif' font-size="5.3" font-weight="normal" fill="#444" text-anchor="middle" >30</text>
<line x1="647.29" y1="653.4" x2="647.29" y2="655.3" stroke="#7a7a7a" stroke-width="0.6" />
<text x="647.29" y="661" font-family='"Liberation Sans", sans-serif' font-size="5.3" font-weight="normal" fill="#444" text-anchor="middle" >35</text>
<line x1="657.86" y1="653.4" x2="657.86" y2="655.3" stroke="#7a7a7a" stroke-width="0.6" />
<text x="657.86" y="661" font-family='"Liberation Sans", sans-serif' font-size="5.3" font-weight="normal" fill="#444" text-anchor="middle" >40</text>
<line x1="668.43" y1="653.4" x2="668.43" y2="655.3" stroke="#7a7a7a" stroke-width="0.6" />
<text x="668.43" y="661" font-family='"Liberation Sans", sans-serif' font-size="5.3" font-weight="normal" fill="#444" text-anchor="middle" >45</text>
<line x1="679" y1="653.4" x2="679" y2="655.3" stroke="#7a7a7a" stroke-width="0.6" />
<text x="679" y="661" font-family='"Liberation Sans", sans-serif' font-size="5.3" font-weight="normal" fill="#444" text-anchor="middle" >50</text>
<line x1="578.58" y1="653.4" x2="578.58" y2="654.6" stroke="#7a7a7a" stroke-width="0.5" />
<line x1="589.15" y1="653.4" x2="589.15" y2="654.6" stroke="#7a7a7a" stroke-width="0.5" />
<line x1="599.72" y1="653.4" x2="599.72" y2="654.6" stroke="#7a7a7a" stroke-width="0.5" />
<line x1="610.29" y1="653.4" x2="610.29" y2="654.6" stroke="#7a7a7a" stroke-width="0.5" />
<line x1="620.87" y1="653.4" x2="620.87" y2="654.6" stroke="#7a7a7a" stroke-width="0.5" />
<line x1="631.43" y1="653.4" x2="631.43" y2="654.6" stroke="#7a7a7a" stroke-width="0.5" />
<line x1="642" y1="653.4" x2="642" y2="654.6" stroke="#7a7a7a" stroke-width="0.5" />
<line x1="652.58" y1="653.4" x2="652.58" y2="654.6" stroke="#7a7a7a" stroke-width="0.5" />
<line x1="663.14" y1="653.4" x2="663.14" y2="654.6" stroke="#7a7a7a" stroke-width="0.5" />
<line x1="673.72" y1="653.4" x2="673.72" y2="654.6" stroke="#7a7a7a" stroke-width="0.5" />
<text x="622.75" y="670.6" font-family='"Liberation Sans", sans-serif' font-size="7.9" font-weight="normal" fill="#333" text-anchor="middle" >Time (min)</text>
<text transform="translate(555.15,620.6) rotate(-90)" x="0" y="0" font-family='"Liberation Sans", sans-serif' font-size="7.9" fill="#333" text-anchor="middle">DP (µcal/s)</text>
<path d="M573.93 588.3 L575.41 588.3 L576.58 588.43 L577.74 588.43 L578.9 588.54 L580.06 588.08 L581.44 588.3 L581.82 588.05 L582.98 588.11 L584.14 588.46 L585.31 588.04 L586.68 588.3 L587.06 588.1 L588.22 588.16 L589.39 588.25 L590.55 588.54 L591.92 588.3 L592.3 587.96 L593.47 588.14 L594.63 588.05 L595.79 588.56 L597.17 588.3 L597.55 588.51 L598.71 588.53 L599.87 588.47 L601.04 588.61 L602.41 588.3 L602.79 588.13 L603.95 588.54 L605.12 588.29 L606.28 588.48 L607.65 588.3 L608.03 588.25 L609.2 588.2 L610.36 588.25 L611.52 588.17 L612.9 588.3 L613.28 588.52 L614.44 588.51 L615.6 588.64 L616.76 588.43 L618.14 588.3 L618.52 588.47 L619.68 588.04 L620.84 588.42 L622.01 588.26 L623.38 588.3 L623.76 588.09 L624.92 588.32 L626.09 588.13 L627.25 588.27 L628.62 588.3 L629 588.23 L630.17 588.04 L631.33 588.29 L632.49 588.11 L633.87 588.3 L634.25 588.09 L635.41 588.21 L636.57 588 L637.73 588.41 L639.11 588.3 L639.49 588.22 L640.65 588.45 L641.81 588.6 L642.98 587.98 L644.35 588.3 L644.73 588.51 L645.89 588.54 L647.06 588.4 L648.22 588.06 L649.59 588.3 L649.97 588.56 L651.14 588.57 L652.3 588.51 L653.46 588.09 L654.84 588.3 L655.22 588.21 L656.38 588.45 L657.54 588.05 L658.71 588.63 L660.08 588.3 L660.46 588.46 L661.62 588.1 L662.79 588.38 L663.95 588.36 L665.32 588.3 L665.7 588.2 L666.87 588.46 L668.03 588.19 L669.19 588.16 L670.57 588.3 L675.41 588.3" stroke="#5b7393" stroke-width="0.45" fill="none" stroke-linejoin="round"/>
<path d="M575.41 588.3 L575.46 602.25 L576.66 588.86 Z" stroke="none" stroke-width="1" fill="#c5d0dd" />
<line x1="575.51" y1="588.3" x2="575.51" y2="602.25" stroke="#546d8e" stroke-width="0.85" />
<path d="M581.44 588.3 L581.49 651.7 L582.69 590.84 Z" stroke="none" stroke-width="1" fill="#c5d0dd" />
<line x1="581.54" y1="588.3" x2="581.54" y2="651.7" stroke="#546d8e" stroke-width="0.85" />
<path d="M586.68 588.3 L586.73 650.43 L587.93 590.79 Z" stroke="none" stroke-width="1" fill="#c5d0dd" />
<line x1="586.78" y1="588.3" x2="586.78" y2="650.43" stroke="#546d8e" stroke-width="0.85" />
<path d="M591.92 588.3 L591.97 651.07 L593.17 590.81 Z" stroke="none" stroke-width="1" fill="#c5d0dd" />
<line x1="592.02" y1="588.3" x2="592.02" y2="651.07" stroke="#546d8e" stroke-width="0.85" />
<path d="M597.17 588.3 L597.22 649.16 L598.42 590.73 Z" stroke="none" stroke-width="1" fill="#c5d0dd" />
<line x1="597.27" y1="588.3" x2="597.27" y2="649.16" stroke="#546d8e" stroke-width="0.85" />
<path d="M602.41 588.3 L602.46 645.36 L603.66 590.58 Z" stroke="none" stroke-width="1" fill="#c5d0dd" />
<line x1="602.51" y1="588.3" x2="602.51" y2="645.36" stroke="#546d8e" stroke-width="0.85" />
<path d="M607.65 588.3 L607.7 643.46 L608.9 590.51 Z" stroke="none" stroke-width="1" fill="#c5d0dd" />
<line x1="607.75" y1="588.3" x2="607.75" y2="643.46" stroke="#546d8e" stroke-width="0.85" />
<path d="M612.9 588.3 L612.95 632.68 L614.15 590.08 Z" stroke="none" stroke-width="1" fill="#c5d0dd" />
<line x1="613" y1="588.3" x2="613" y2="632.68" stroke="#546d8e" stroke-width="0.85" />
<path d="M618.14 588.3 L618.19 608.59 L619.39 589.11 Z" stroke="none" stroke-width="1" fill="#c5d0dd" />
<line x1="618.24" y1="588.3" x2="618.24" y2="608.59" stroke="#546d8e" stroke-width="0.85" />
<path d="M623.38 588.3 L623.43 593.37 L624.63 588.5 Z" stroke="none" stroke-width="1" fill="#c5d0dd" />
<line x1="623.48" y1="588.3" x2="623.48" y2="593.37" stroke="#546d8e" stroke-width="0.85" />
<path d="M628.62 588.3 L628.67 591.47 L629.87 588.43 Z" stroke="none" stroke-width="1" fill="#c5d0dd" />
<line x1="628.72" y1="588.3" x2="628.72" y2="591.47" stroke="#546d8e" stroke-width="0.85" />
<path d="M633.87 588.3 L633.92 592.1 L635.12 588.45 Z" stroke="none" stroke-width="1" fill="#c5d0dd" />
<line x1="633.97" y1="588.3" x2="633.97" y2="592.1" stroke="#546d8e" stroke-width="0.85" />
<path d="M639.11 588.3 L639.16 591.47 L640.36 588.43 Z" stroke="none" stroke-width="1" fill="#c5d0dd" />
<line x1="639.21" y1="588.3" x2="639.21" y2="591.47" stroke="#546d8e" stroke-width="0.85" />
<path d="M644.35 588.3 L644.4 593.37 L645.6 588.5 Z" stroke="none" stroke-width="1" fill="#c5d0dd" />
<line x1="644.45" y1="588.3" x2="644.45" y2="593.37" stroke="#546d8e" stroke-width="0.85" />
<path d="M649.59 588.3 L649.64 592.1 L650.84 588.45 Z" stroke="none" stroke-width="1" fill="#c5d0dd" />
<line x1="649.69" y1="588.3" x2="649.69" y2="592.1" stroke="#546d8e" stroke-width="0.85" />
<path d="M654.84 588.3 L654.89 591.47 L656.09 588.43 Z" stroke="none" stroke-width="1" fill="#c5d0dd" />
<line x1="654.94" y1="588.3" x2="654.94" y2="591.47" stroke="#546d8e" stroke-width="0.85" />
<path d="M660.08 588.3 L660.13 592.74 L661.33 588.48 Z" stroke="none" stroke-width="1" fill="#c5d0dd" />
<line x1="660.18" y1="588.3" x2="660.18" y2="592.74" stroke="#546d8e" stroke-width="0.85" />
<path d="M665.32 588.3 L665.37 591.47 L666.57 588.43 Z" stroke="none" stroke-width="1" fill="#c5d0dd" />
<line x1="665.42" y1="588.3" x2="665.42" y2="591.47" stroke="#546d8e" stroke-width="0.85" />
<path d="M670.57 588.3 L670.62 592.1 L671.82 588.45 Z" stroke="none" stroke-width="1" fill="#c5d0dd" />
<line x1="670.67" y1="588.3" x2="670.67" y2="592.1" stroke="#546d8e" stroke-width="0.85" />
<line x1="575.31" y1="588.3" x2="575.31" y2="586.72" stroke="#5b7393" stroke-width="0.45" />
<line x1="581.33" y1="588.3" x2="581.33" y2="586.78" stroke="#5b7393" stroke-width="0.45" />
<line x1="586.58" y1="588.3" x2="586.58" y2="586.15" stroke="#5b7393" stroke-width="0.45" />
<line x1="591.82" y1="588.3" x2="591.82" y2="585.99" stroke="#5b7393" stroke-width="0.45" />
<line x1="597.06" y1="588.3" x2="597.06" y2="585.58" stroke="#5b7393" stroke-width="0.45" />
<line x1="602.3" y1="588.3" x2="602.3" y2="585.61" stroke="#5b7393" stroke-width="0.45" />
<line x1="607.55" y1="588.3" x2="607.55" y2="586.09" stroke="#5b7393" stroke-width="0.45" />
<line x1="612.79" y1="588.3" x2="612.79" y2="587.02" stroke="#5b7393" stroke-width="0.45" />
<line x1="618.03" y1="588.3" x2="618.03" y2="586.11" stroke="#5b7393" stroke-width="0.45" />
<line x1="623.27" y1="588.3" x2="623.27" y2="586.89" stroke="#5b7393" stroke-width="0.45" />
<line x1="628.52" y1="588.3" x2="628.52" y2="586" stroke="#5b7393" stroke-width="0.45" />
<line x1="633.76" y1="588.3" x2="633.76" y2="586.77" stroke="#5b7393" stroke-width="0.45" />
<line x1="639" y1="588.3" x2="639" y2="585.28" stroke="#5b7393" stroke-width="0.45" />
<line x1="644.25" y1="588.3" x2="644.25" y2="586.97" stroke="#5b7393" stroke-width="0.45" />
<line x1="649.49" y1="588.3" x2="649.49" y2="586.4" stroke="#5b7393" stroke-width="0.45" />
<line x1="654.73" y1="588.3" x2="654.73" y2="585.48" stroke="#5b7393" stroke-width="0.45" />
<line x1="659.97" y1="588.3" x2="659.97" y2="586" stroke="#5b7393" stroke-width="0.45" />
<line x1="665.22" y1="588.3" x2="665.22" y2="586.03" stroke="#5b7393" stroke-width="0.45" />
<line x1="670.46" y1="588.3" x2="670.46" y2="586.92" stroke="#5b7393" stroke-width="0.45" />
<line x1="569.6" y1="681.5" x2="569.6" y2="751.2" stroke="#c4c4c4" stroke-width="1" />
<line x1="569.6" y1="751.2" x2="678.2" y2="751.2" stroke="#c4c4c4" stroke-width="1" />
<line x1="567.7" y1="686" x2="569.6" y2="686" stroke="#7a7a7a" stroke-width="0.6" />
<text x="567" y="687.75" font-family='"Liberation Sans", sans-serif' font-size="5.3" font-weight="normal" fill="#444" text-anchor="end" >0</text>
<line x1="567.7" y1="701.7" x2="569.6" y2="701.7" stroke="#7a7a7a" stroke-width="0.6" />
<text x="567" y="703.45" font-family='"Liberation Sans", sans-serif' font-size="5.3" font-weight="normal" fill="#444" text-anchor="end" >-2</text>
<line x1="567.7" y1="717.4" x2="569.6" y2="717.4" stroke="#7a7a7a" stroke-width="0.6" />
<text x="567" y="719.15" font-family='"Liberation Sans", sans-serif' font-size="5.3" font-weight="normal" fill="#444" text-anchor="end" >-4</text>
<line x1="567.7" y1="733.1" x2="569.6" y2="733.1" stroke="#7a7a7a" stroke-width="0.6" />
<text x="567" y="734.85" font-family='"Liberation Sans", sans-serif' font-size="5.3" font-weight="normal" fill="#444" text-anchor="end" >-6</text>
<line x1="567.7" y1="748.8" x2="569.6" y2="748.8" stroke="#7a7a7a" stroke-width="0.6" />
<text x="567" y="750.55" font-family='"Liberation Sans", sans-serif' font-size="5.3" font-weight="normal" fill="#444" text-anchor="end" >-8</text>
<line x1="568.4" y1="693.85" x2="569.6" y2="693.85" stroke="#7a7a7a" stroke-width="0.5" />
<line x1="568.4" y1="709.55" x2="569.6" y2="709.55" stroke="#7a7a7a" stroke-width="0.5" />
<line x1="568.4" y1="725.25" x2="569.6" y2="725.25" stroke="#7a7a7a" stroke-width="0.5" />
<line x1="568.4" y1="740.95" x2="569.6" y2="740.95" stroke="#7a7a7a" stroke-width="0.5" />
<line x1="570" y1="751.2" x2="570" y2="753.1" stroke="#7a7a7a" stroke-width="0.6" />
<text x="570" y="758.8" font-family='"Liberation Sans", sans-serif' font-size="5.3" font-weight="normal" fill="#444" text-anchor="middle" >0</text>
<line x1="581.07" y1="751.2" x2="581.07" y2="753.1" stroke="#7a7a7a" stroke-width="0.6" />
<text x="581.07" y="758.8" font-family='"Liberation Sans", sans-serif' font-size="5.3" font-weight="normal" fill="#444" text-anchor="middle" >0.2</text>
<line x1="592.13" y1="751.2" x2="592.13" y2="753.1" stroke="#7a7a7a" stroke-width="0.6" />
<text x="592.13" y="758.8" font-family='"Liberation Sans", sans-serif' font-size="5.3" font-weight="normal" fill="#444" text-anchor="middle" >0.4</text>
<line x1="603.2" y1="751.2" x2="603.2" y2="753.1" stroke="#7a7a7a" stroke-width="0.6" />
<text x="603.2" y="758.8" font-family='"Liberation Sans", sans-serif' font-size="5.3" font-weight="normal" fill="#444" text-anchor="middle" >0.6</text>
<line x1="614.27" y1="751.2" x2="614.27" y2="753.1" stroke="#7a7a7a" stroke-width="0.6" />
<text x="614.27" y="758.8" font-family='"Liberation Sans", sans-serif' font-size="5.3" font-weight="normal" fill="#444" text-anchor="middle" >0.8</text>
<line x1="625.33" y1="751.2" x2="625.33" y2="753.1" stroke="#7a7a7a" stroke-width="0.6" />
<text x="625.33" y="758.8" font-family='"Liberation Sans", sans-serif' font-size="5.3" font-weight="normal" fill="#444" text-anchor="middle" >1</text>
<line x1="636.4" y1="751.2" x2="636.4" y2="753.1" stroke="#7a7a7a" stroke-width="0.6" />
<text x="636.4" y="758.8" font-family='"Liberation Sans", sans-serif' font-size="5.3" font-weight="normal" fill="#444" text-anchor="middle" >1.2</text>
<line x1="647.47" y1="751.2" x2="647.47" y2="753.1" stroke="#7a7a7a" stroke-width="0.6" />
<text x="647.47" y="758.8" font-family='"Liberation Sans", sans-serif' font-size="5.3" font-weight="normal" fill="#444" text-anchor="middle" >1.4</text>
<line x1="658.53" y1="751.2" x2="658.53" y2="753.1" stroke="#7a7a7a" stroke-width="0.6" />
<text x="658.53" y="758.8" font-family='"Liberation Sans", sans-serif' font-size="5.3" font-weight="normal" fill="#444" text-anchor="middle" >1.6</text>
<line x1="669.6" y1="751.2" x2="669.6" y2="753.1" stroke="#7a7a7a" stroke-width="0.6" />
<text x="669.6" y="758.8" font-family='"Liberation Sans", sans-serif' font-size="5.3" font-weight="normal" fill="#444" text-anchor="middle" >1.8</text>
<line x1="575.53" y1="751.2" x2="575.53" y2="752.4" stroke="#7a7a7a" stroke-width="0.5" />
<line x1="586.6" y1="751.2" x2="586.6" y2="752.4" stroke="#7a7a7a" stroke-width="0.5" />
<line x1="597.67" y1="751.2" x2="597.67" y2="752.4" stroke="#7a7a7a" stroke-width="0.5" />
<line x1="608.73" y1="751.2" x2="608.73" y2="752.4" stroke="#7a7a7a" stroke-width="0.5" />
<line x1="619.8" y1="751.2" x2="619.8" y2="752.4" stroke="#7a7a7a" stroke-width="0.5" />
<line x1="630.87" y1="751.2" x2="630.87" y2="752.4" stroke="#7a7a7a" stroke-width="0.5" />
<line x1="641.93" y1="751.2" x2="641.93" y2="752.4" stroke="#7a7a7a" stroke-width="0.5" />
<line x1="653" y1="751.2" x2="653" y2="752.4" stroke="#7a7a7a" stroke-width="0.5" />
<line x1="664.07" y1="751.2" x2="664.07" y2="752.4" stroke="#7a7a7a" stroke-width="0.5" />
<line x1="675.13" y1="751.2" x2="675.13" y2="752.4" stroke="#7a7a7a" stroke-width="0.5" />
<text x="622.8" y="768" font-family='"Liberation Sans", sans-serif' font-size="7.9" font-weight="normal" fill="#333" text-anchor="middle" >Molar Ratio</text>
<text transform="translate(555.05,718.35) rotate(-90)" x="0" y="0" font-family='"Liberation Sans", sans-serif' font-size="7.9" fill="#333" text-anchor="middle">ΔH (kcal/mol)</text>
<path d="M570.55 747.23 L576.09 747.23 L581.45 747.23 L586.88 747.21 L592.35 747.14 L597.89 746.75 L603.48 744.83 L609.12 736.39 L614.82 714.26 L620.57 693.85 L626.38 686.98 L632.25 685.54 L638.17 685.27 L644.15 685.22 L650.18 685.22 L656.26 685.22 L662.41 685.22 L668.6 685.22 L674.86 685.22" stroke="#5e9fb5" stroke-width="0.85" fill="none" stroke-linejoin="round"/>
<rect x="575.24" y="746.38" width="1.7" height="1.7" fill="#2f5680" stroke="none" stroke-width="1" />
<rect x="580.6" y="745.99" width="1.7" height="1.7" fill="#2f5680" stroke="none" stroke-width="1" />
<rect x="586.03" y="746.77" width="1.7" height="1.7" fill="#2f5680" stroke="none" stroke-width="1" />
<rect x="591.5" y="745.6" width="1.7" height="1.7" fill="#2f5680" stroke="none" stroke-width="1" />
<rect x="597.04" y="744.81" width="1.7" height="1.7" fill="#2f5680" stroke="none" stroke-width="1" />
<rect x="602.63" y="744.02" width="1.7" height="1.7" fill="#2f5680" stroke="none" stroke-width="1" />
<rect x="608.27" y="739.31" width="1.7" height="1.7" fill="#2f5680" stroke="none" stroke-width="1" />
<rect x="613.97" y="713.41" width="1.7" height="1.7" fill="#2f5680" stroke="none" stroke-width="1" />
<rect x="619.72" y="693" width="1.7" height="1.7" fill="#2f5680" stroke="none" stroke-width="1" />
<rect x="625.53" y="689.86" width="1.7" height="1.7" fill="#2f5680" stroke="none" stroke-width="1" />
<rect x="631.4" y="683.97" width="1.7" height="1.7" fill="#2f5680" stroke="none" stroke-width="1" />
<rect x="637.32" y="684.37" width="1.7" height="1.7" fill="#2f5680" stroke="none" stroke-width="1" />
<rect x="643.3" y="683.58" width="1.7" height="1.7" fill="#2f5680" stroke="none" stroke-width="1" />
<rect x="649.33" y="686.33" width="1.7" height="1.7" fill="#2f5680" stroke="none" stroke-width="1" />
<rect x="655.41" y="685.54" width="1.7" height="1.7" fill="#2f5680" stroke="none" stroke-width="1" />
<rect x="661.56" y="683.58" width="1.7" height="1.7" fill="#2f5680" stroke="none" stroke-width="1" />
<rect x="667.75" y="684.76" width="1.7" height="1.7" fill="#2f5680" stroke="none" stroke-width="1" />
<rect x="674.01" y="685.15" width="1.7" height="1.7" fill="#2f5680" stroke="none" stroke-width="1" />
<text x="647.5" y="743.7" font-family='"Liberation Serif", serif' font-size="10.1" font-weight="bold" fill="#111" text-anchor="middle" >Kd: 0.046 µM</text>
<circle cx="85.4" cy="811.6" r="17.9" fill="#d0e8ec" stroke="#b4ccd2" stroke-width="0.6"/>
<text x="85.4" y="817.4" font-family='"Liberation Serif", serif' font-size="15.9" font-weight="bold" fill="#111" text-anchor="middle" >R12</text>
<line x1="106" y1="811.2" x2="119.4" y2="811.2" stroke="#111" stroke-width="1.6" />
<line x1="112.7" y1="804.5" x2="112.7" y2="817.9" stroke="#111" stroke-width="1.6" />
<rect x="120.9" y="797.3" width="53" height="28.4" fill="#dca236" stroke="none" stroke-width="1" />
<text x="145.8" y="815.86" font-family='"Liberation Serif", serif' font-size="14.6" font-weight="bold" fill="#111" text-anchor="middle" >ADP</text>
<text x="148.1" y="792.8" font-family='"Liberation Serif", serif' font-size="12.4" font-weight="bold" fill="#111" text-anchor="middle" >500 µM</text>
<rect x="11" y="901.9" width="44.7" height="27.1" fill="#dcff30" stroke="none" stroke-width="1" />
<text x="34.35" y="921.43" font-family='"Liberation Serif", serif' font-size="16.6" font-weight="bold" fill="#111" text-anchor="middle" >DAN</text>
<line x1="73.9" y1="837.5" x2="73.9" y2="907.3" stroke="#c4c4c4" stroke-width="1" />
<line x1="73.9" y1="907.3" x2="180.3" y2="907.3" stroke="#c4c4c4" stroke-width="1" />
<line x1="72" y1="843" x2="73.9" y2="843" stroke="#7a7a7a" stroke-width="0.6" />
<text x="71.3" y="844.75" font-family='"Liberation Sans", sans-serif' font-size="5.3" font-weight="normal" fill="#444" text-anchor="end" >0</text>
<line x1="72" y1="854.1" x2="73.9" y2="854.1" stroke="#7a7a7a" stroke-width="0.6" />
<text x="71.3" y="855.85" font-family='"Liberation Sans", sans-serif' font-size="5.3" font-weight="normal" fill="#444" text-anchor="end" >-0.2</text>
<line x1="72" y1="865.2" x2="73.9" y2="865.2" stroke="#7a7a7a" stroke-width="0.6" />
<text x="71.3" y="866.95" font-family='"Liberation Sans", sans-serif' font-size="5.3" font-weight="normal" fill="#444" text-anchor="end" >-0.4</text>
<line x1="72" y1="876.3" x2="73.9" y2="876.3" stroke="#7a7a7a" stroke-width="0.6" />
<text x="71.3" y="878.05" font-family='"Liberation Sans", sans-serif' font-size="5.3" font-weight="normal" fill="#444" text-anchor="end" >-0.6</text>
<line x1="72" y1="887.4" x2="73.9" y2="887.4" stroke="#7a7a7a" stroke-width="0.6" />
<text x="71.3" y="889.15" font-family='"Liberation Sans", sans-serif' font-size="5.3" font-weight="normal" fill="#444" text-anchor="end" >-0.8</text>
<line x1="72" y1="898.5" x2="73.9" y2="898.5" stroke="#7a7a7a" stroke-width="0.6" />
<text x="71.3" y="900.25" font-family='"Liberation Sans", sans-serif' font-size="5.3" font-weight="normal" fill="#444" text-anchor="end" >-1</text>
<line x1="72.7" y1="848.55" x2="73.9" y2="848.55" stroke="#7a7a7a" stroke-width="0.5" />
<line x1="72.7" y1="859.65" x2="73.9" y2="859.65" stroke="#7a7a7a" stroke-width="0.5" />
<line x1="72.7" y1="870.75" x2="73.9" y2="870.75" stroke="#7a7a7a" stroke-width="0.5" />
<line x1="72.7" y1="881.85" x2="73.9" y2="881.85" stroke="#7a7a7a" stroke-width="0.5" />
<line x1="72.7" y1="892.95" x2="73.9" y2="892.95" stroke="#7a7a7a" stroke-width="0.5" />
<line x1="72.7" y1="904.05" x2="73.9" y2="904.05" stroke="#7a7a7a" stroke-width="0.5" />
<line x1="73.9" y1="907.3" x2="73.9" y2="909.2" stroke="#7a7a7a" stroke-width="0.6" />
<text x="73.9" y="914.9" font-family='"Liberation Sans", sans-serif' font-size="5.3" font-weight="normal" fill="#444" text-anchor="middle" >0</text>
<line x1="84.36" y1="907.3" x2="84.36" y2="909.2" stroke="#7a7a7a" stroke-width="0.6" />
<text x="84.36" y="914.9" font-family='"Liberation Sans", sans-serif' font-size="5.3" font-weight="normal" fill="#444" text-anchor="middle" >5</text>
<line x1="94.82" y1="907.3" x2="94.82" y2="909.2" stroke="#7a7a7a" stroke-width="0.6" />
<text x="94.82" y="914.9" font-family='"Liberation Sans", sans-serif' font-size="5.3" font-weight="normal" fill="#444" text-anchor="middle" >10</text>
<line x1="105.28" y1="907.3" x2="105.28" y2="909.2" stroke="#7a7a7a" stroke-width="0.6" />
<text x="105.28" y="914.9" font-family='"Liberation Sans", sans-serif' font-size="5.3" font-weight="normal" fill="#444" text-anchor="middle" >15</text>
<line x1="115.74" y1="907.3" x2="115.74" y2="909.2" stroke="#7a7a7a" stroke-width="0.6" />
<text x="115.74" y="914.9" font-family='"Liberation Sans", sans-serif' font-size="5.3" font-weight="normal" fill="#444" text-anchor="middle" >20</text>
<line x1="126.2" y1="907.3" x2="126.2" y2="909.2" stroke="#7a7a7a" stroke-width="0.6" />
<text x="126.2" y="914.9" font-family='"Liberation Sans", sans-serif' font-size="5.3" font-weight="normal" fill="#444" text-anchor="middle" >25</text>
<line x1="136.66" y1="907.3" x2="136.66" y2="909.2" stroke="#7a7a7a" stroke-width="0.6" />
<text x="136.66" y="914.9" font-family='"Liberation Sans", sans-serif' font-size="5.3" font-weight="normal" fill="#444" text-anchor="middle" >30</text>
<line x1="147.12" y1="907.3" x2="147.12" y2="909.2" stroke="#7a7a7a" stroke-width="0.6" />
<text x="147.12" y="914.9" font-family='"Liberation Sans", sans-serif' font-size="5.3" font-weight="normal" fill="#444" text-anchor="middle" >35</text>
<line x1="157.58" y1="907.3" x2="157.58" y2="909.2" stroke="#7a7a7a" stroke-width="0.6" />
<text x="157.58" y="914.9" font-family='"Liberation Sans", sans-serif' font-size="5.3" font-weight="normal" fill="#444" text-anchor="middle" >40</text>
<line x1="168.04" y1="907.3" x2="168.04" y2="909.2" stroke="#7a7a7a" stroke-width="0.6" />
<text x="168.04" y="914.9" font-family='"Liberation Sans", sans-serif' font-size="5.3" font-weight="normal" fill="#444" text-anchor="middle" >45</text>
<line x1="178.5" y1="907.3" x2="178.5" y2="909.2" stroke="#7a7a7a" stroke-width="0.6" />
<text x="178.5" y="914.9" font-family='"Liberation Sans", sans-serif' font-size="5.3" font-weight="normal" fill="#444" text-anchor="middle" >50</text>
<line x1="79.13" y1="907.3" x2="79.13" y2="908.5" stroke="#7a7a7a" stroke-width="0.5" />
<line x1="89.59" y1="907.3" x2="89.59" y2="908.5" stroke="#7a7a7a" stroke-width="0.5" />
<line x1="100.05" y1="907.3" x2="100.05" y2="908.5" stroke="#7a7a7a" stroke-width="0.5" />
<line x1="110.51" y1="907.3" x2="110.51" y2="908.5" stroke="#7a7a7a" stroke-width="0.5" />
<line x1="120.97" y1="907.3" x2="120.97" y2="908.5" stroke="#7a7a7a" stroke-width="0.5" />
<line x1="131.43" y1="907.3" x2="131.43" y2="908.5" stroke="#7a7a7a" stroke-width="0.5" />
<line x1="141.89" y1="907.3" x2="141.89" y2="908.5" stroke="#7a7a7a" stroke-width="0.5" />
<line x1="152.35" y1="907.3" x2="152.35" y2="908.5" stroke="#7a7a7a" stroke-width="0.5" />
<line x1="162.81" y1="907.3" x2="162.81" y2="908.5" stroke="#7a7a7a" stroke-width="0.5" />
<line x1="173.27" y1="907.3" x2="173.27" y2="908.5" stroke="#7a7a7a" stroke-width="0.5" />
<text x="122.8" y="924.5" font-family='"Liberation Sans", sans-serif' font-size="7.9" font-weight="normal" fill="#333" text-anchor="middle" >Time (min)</text>
<text transform="translate(55.75,874.4) rotate(-90)" x="0" y="0" font-family='"Liberation Sans", sans-serif' font-size="7.9" fill="#333" text-anchor="middle">DP (µcal/s)</text>
<path d="M74.53 843 L75.99 843 L77.14 842.66 L78.29 843.17 L79.44 842.76 L80.59 843.34 L81.95 843 L82.33 843.27 L83.48 843.13 L84.63 843.25 L85.78 843.35 L87.14 843 L87.52 842.89 L88.67 843.15 L89.82 842.85 L90.97 842.83 L92.33 843 L92.71 843.25 L93.86 843.26 L95.01 843.21 L96.16 842.81 L97.52 843 L97.9 843.01 L99.05 842.81 L100.2 842.97 L101.35 842.94 L102.71 843 L103.08 843.05 L104.23 842.9 L105.38 843.05 L106.54 843.3 L107.9 843 L108.27 842.93 L109.42 843.25 L110.57 843.35 L111.72 842.99 L113.08 843 L113.46 842.66 L114.61 842.75 L115.76 842.77 L116.91 843.31 L118.27 843 L118.65 843.15 L119.8 842.85 L120.95 843 L122.1 843.27 L123.46 843 L123.84 842.73 L124.99 842.68 L126.14 842.98 L127.29 843.24 L128.65 843 L129.02 842.93 L130.17 843 L131.33 842.78 L132.48 843.31 L133.84 843 L134.21 842.81 L135.36 842.87 L136.51 843.23 L137.66 842.87 L139.02 843 L139.4 842.89 L140.55 842.96 L141.7 842.7 L142.85 843.29 L144.21 843 L144.59 842.98 L145.74 842.73 L146.89 842.99 L148.04 842.91 L149.4 843 L149.78 843.3 L150.93 843.17 L152.08 842.85 L153.23 842.68 L154.59 843 L154.97 843.31 L156.12 842.76 L157.27 843 L158.42 842.99 L159.78 843 L160.15 842.68 L161.3 842.69 L162.45 843.24 L163.6 843.05 L164.96 843 L165.34 843.19 L166.49 843.07 L167.64 843.13 L168.79 842.83 L170.15 843 L174.94 843" stroke="#5b7393" stroke-width="0.45" fill="none" stroke-linejoin="round"/>
<path d="M75.99 843 L76.04 855.21 L77.24 843.49 Z" stroke="none" stroke-width="1" fill="#c5d0dd" />
<line x1="76.09" y1="843" x2="76.09" y2="855.21" stroke="#546d8e" stroke-width="0.85" />
<path d="M81.95 843 L82 906.83 L83.2 845.55 Z" stroke="none" stroke-width="1" fill="#c5d0dd" />
<line x1="82.05" y1="843" x2="82.05" y2="906.83" stroke="#546d8e" stroke-width="0.85" />
<path d="M87.14 843 L87.19 906.83 L88.39 845.55 Z" stroke="none" stroke-width="1" fill="#c5d0dd" />
<line x1="87.24" y1="843" x2="87.24" y2="906.83" stroke="#546d8e" stroke-width="0.85" />
<path d="M92.33 843 L92.38 904.05 L93.58 845.44 Z" stroke="none" stroke-width="1" fill="#c5d0dd" />
<line x1="92.43" y1="843" x2="92.43" y2="904.05" stroke="#546d8e" stroke-width="0.85" />
<path d="M97.52 843 L97.57 901.27 L98.77 845.33 Z" stroke="none" stroke-width="1" fill="#c5d0dd" />
<line x1="97.62" y1="843" x2="97.62" y2="901.27" stroke="#546d8e" stroke-width="0.85" />
<path d="M102.71 843 L102.76 888.51 L103.96 844.82 Z" stroke="none" stroke-width="1" fill="#c5d0dd" />
<line x1="102.81" y1="843" x2="102.81" y2="888.51" stroke="#546d8e" stroke-width="0.85" />
<path d="M107.9 843 L107.95 862.42 L109.15 843.78 Z" stroke="none" stroke-width="1" fill="#c5d0dd" />
<line x1="108" y1="843" x2="108" y2="862.42" stroke="#546d8e" stroke-width="0.85" />
<path d="M113.08 843 L113.13 845.77 L114.33 843.11 Z" stroke="none" stroke-width="1" fill="#c5d0dd" />
<line x1="113.18" y1="843" x2="113.18" y2="845.77" stroke="#546d8e" stroke-width="0.85" />
<line x1="118.37" y1="843" x2="118.37" y2="844.11" stroke="#546d8e" stroke-width="0.85" />
<line x1="123.56" y1="843" x2="123.56" y2="844.11" stroke="#546d8e" stroke-width="0.85" />
<line x1="128.75" y1="843" x2="128.75" y2="844.11" stroke="#546d8e" stroke-width="0.85" />
<line x1="133.94" y1="843" x2="133.94" y2="844.11" stroke="#546d8e" stroke-width="0.85" />
<line x1="139.12" y1="843" x2="139.12" y2="844.11" stroke="#546d8e" stroke-width="0.85" />
<line x1="144.31" y1="843" x2="144.31" y2="844.11" stroke="#546d8e" stroke-width="0.85" />
<line x1="149.5" y1="843" x2="149.5" y2="844.11" stroke="#546d8e" stroke-width="0.85" />
<line x1="154.69" y1="843" x2="154.69" y2="844.11" stroke="#546d8e" stroke-width="0.85" />
<line x1="159.88" y1="843" x2="159.88" y2="844.11" stroke="#546d8e" stroke-width="0.85" />
<line x1="165.06" y1="843" x2="165.06" y2="844.11" stroke="#546d8e" stroke-width="0.85" />
<line x1="170.25" y1="843" x2="170.25" y2="844.11" stroke="#546d8e" stroke-width="0.85" />
<line x1="75.89" y1="843" x2="75.89" y2="840.66" stroke="#5b7393" stroke-width="0.45" />
<line x1="81.85" y1="843" x2="81.85" y2="842.17" stroke="#5b7393" stroke-width="0.45" />
<line x1="87.04" y1="843" x2="87.04" y2="841.82" stroke="#5b7393" stroke-width="0.45" />
<line x1="92.23" y1="843" x2="92.23" y2="841.83" stroke="#5b7393" stroke-width="0.45" />
<line x1="97.41" y1="843" x2="97.41" y2="840.72" stroke="#5b7393" stroke-width="0.45" />
<line x1="102.6" y1="843" x2="102.6" y2="842.07" stroke="#5b7393" stroke-width="0.45" />
<line x1="107.79" y1="843" x2="107.79" y2="841.17" stroke="#5b7393" stroke-width="0.45" />
<line x1="112.98" y1="843" x2="112.98" y2="840.69" stroke="#5b7393" stroke-width="0.45" />
<line x1="118.17" y1="843" x2="118.17" y2="841.1" stroke="#5b7393" stroke-width="0.45" />
<line x1="123.35" y1="843" x2="123.35" y2="842.04" stroke="#5b7393" stroke-width="0.45" />
<line x1="128.54" y1="843" x2="128.54" y2="841.31" stroke="#5b7393" stroke-width="0.45" />
<line x1="133.73" y1="843" x2="133.73" y2="841.63" stroke="#5b7393" stroke-width="0.45" />
<line x1="138.92" y1="843" x2="138.92" y2="840.75" stroke="#5b7393" stroke-width="0.45" />
<line x1="144.11" y1="843" x2="144.11" y2="840.93" stroke="#5b7393" stroke-width="0.45" />
<line x1="149.3" y1="843" x2="149.3" y2="840.86" stroke="#5b7393" stroke-width="0.45" />
<line x1="154.48" y1="843" x2="154.48" y2="840.77" stroke="#5b7393" stroke-width="0.45" />
<line x1="159.67" y1="843" x2="159.67" y2="840.64" stroke="#5b7393" stroke-width="0.45" />
<line x1="164.86" y1="843" x2="164.86" y2="841.46" stroke="#5b7393" stroke-width="0.45" />
<line x1="170.05" y1="843" x2="170.05" y2="842.06" stroke="#5b7393" stroke-width="0.45" />
<line x1="72.4" y1="934.9" x2="72.4" y2="1004.3" stroke="#c4c4c4" stroke-width="1" />
<line x1="72.4" y1="1004.3" x2="180" y2="1004.3" stroke="#c4c4c4" stroke-width="1" />
<line x1="70.5" y1="939.7" x2="72.4" y2="939.7" stroke="#7a7a7a" stroke-width="0.6" />
<text x="69.8" y="941.45" font-family='"Liberation Sans", sans-serif' font-size="5.3" font-weight="normal" fill="#444" text-anchor="end" >0</text>
<line x1="70.5" y1="954.9" x2="72.4" y2="954.9" stroke="#7a7a7a" stroke-width="0.6" />
<text x="69.8" y="956.65" font-family='"Liberation Sans", sans-serif' font-size="5.3" font-weight="normal" fill="#444" text-anchor="end" >-2</text>
<line x1="70.5" y1="970.1" x2="72.4" y2="970.1" stroke="#7a7a7a" stroke-width="0.6" />
<text x="69.8" y="971.85" font-family='"Liberation Sans", sans-serif' font-size="5.3" font-weight="normal" fill="#444" text-anchor="end" >-4</text>
<line x1="70.5" y1="985.3" x2="72.4" y2="985.3" stroke="#7a7a7a" stroke-width="0.6" />
<text x="69.8" y="987.05" font-family='"Liberation Sans", sans-serif' font-size="5.3" font-weight="normal" fill="#444" text-anchor="end" >-6</text>
<line x1="70.5" y1="1000.5" x2="72.4" y2="1000.5" stroke="#7a7a7a" stroke-width="0.6" />
<text x="69.8" y="1002.25" font-family='"Liberation Sans", sans-serif' font-size="5.3" font-weight="normal" fill="#444" text-anchor="end" >-8</text>
<line x1="71.2" y1="947.3" x2="72.4" y2="947.3" stroke="#7a7a7a" stroke-width="0.5" />
<line x1="71.2" y1="962.5" x2="72.4" y2="962.5" stroke="#7a7a7a" stroke-width="0.5" />
<line x1="71.2" y1="977.7" x2="72.4" y2="977.7" stroke="#7a7a7a" stroke-width="0.5" />
<line x1="71.2" y1="992.9" x2="72.4" y2="992.9" stroke="#7a7a7a" stroke-width="0.5" />
<line x1="72.8" y1="1004.3" x2="72.8" y2="1006.2" stroke="#7a7a7a" stroke-width="0.6" />
<text x="72.8" y="1011.9" font-family='"Liberation Sans", sans-serif' font-size="5.3" font-weight="normal" fill="#444" text-anchor="middle" >0</text>
<line x1="84" y1="1004.3" x2="84" y2="1006.2" stroke="#7a7a7a" stroke-width="0.6" />
<text x="84" y="1011.9" font-family='"Liberation Sans", sans-serif' font-size="5.3" font-weight="normal" fill="#444" text-anchor="middle" >0.2</text>
<line x1="95.2" y1="1004.3" x2="95.2" y2="1006.2" stroke="#7a7a7a" stroke-width="0.6" />
<text x="95.2" y="1011.9" font-family='"Liberation Sans", sans-serif' font-size="5.3" font-weight="normal" fill="#444" text-anchor="middle" >0.4</text>
<line x1="106.4" y1="1004.3" x2="106.4" y2="1006.2" stroke="#7a7a7a" stroke-width="0.6" />
<text x="106.4" y="1011.9" font-family='"Liberation Sans", sans-serif' font-size="5.3" font-weight="normal" fill="#444" text-anchor="middle" >0.6</text>
<line x1="117.6" y1="1004.3" x2="117.6" y2="1006.2" stroke="#7a7a7a" stroke-width="0.6" />
<text x="117.6" y="1011.9" font-family='"Liberation Sans", sans-serif' font-size="5.3" font-weight="normal" fill="#444" text-anchor="middle" >0.8</text>
<line x1="128.8" y1="1004.3" x2="128.8" y2="1006.2" stroke="#7a7a7a" stroke-width="0.6" />
<text x="128.8" y="1011.9" font-family='"Liberation Sans", sans-serif' font-size="5.3" font-weight="normal" fill="#444" text-anchor="middle" >1</text>
<line x1="140" y1="1004.3" x2="140" y2="1006.2" stroke="#7a7a7a" stroke-width="0.6" />
<text x="140" y="1011.9" font-family='"Liberation Sans", sans-serif' font-size="5.3" font-weight="normal" fill="#444" text-anchor="middle" >1.2</text>
<line x1="151.2" y1="1004.3" x2="151.2" y2="1006.2" stroke="#7a7a7a" stroke-width="0.6" />
<text x="151.2" y="1011.9" font-family='"Liberation Sans", sans-serif' font-size="5.3" font-weight="normal" fill="#444" text-anchor="middle" >1.4</text>
<line x1="162.4" y1="1004.3" x2="162.4" y2="1006.2" stroke="#7a7a7a" stroke-width="0.6" />
<text x="162.4" y="1011.9" font-family='"Liberation Sans", sans-serif' font-size="5.3" font-weight="normal" fill="#444" text-anchor="middle" >1.6</text>
<line x1="173.6" y1="1004.3" x2="173.6" y2="1006.2" stroke="#7a7a7a" stroke-width="0.6" />
<text x="173.6" y="1011.9" font-family='"Liberation Sans", sans-serif' font-size="5.3" font-weight="normal" fill="#444" text-anchor="middle" >1.8</text>
<line x1="78.4" y1="1004.3" x2="78.4" y2="1005.5" stroke="#7a7a7a" stroke-width="0.5" />
<line x1="89.6" y1="1004.3" x2="89.6" y2="1005.5" stroke="#7a7a7a" stroke-width="0.5" />
<line x1="100.8" y1="1004.3" x2="100.8" y2="1005.5" stroke="#7a7a7a" stroke-width="0.5" />
<line x1="112" y1="1004.3" x2="112" y2="1005.5" stroke="#7a7a7a" stroke-width="0.5" />
<line x1="123.2" y1="1004.3" x2="123.2" y2="1005.5" stroke="#7a7a7a" stroke-width="0.5" />
<line x1="134.4" y1="1004.3" x2="134.4" y2="1005.5" stroke="#7a7a7a" stroke-width="0.5" />
<line x1="145.6" y1="1004.3" x2="145.6" y2="1005.5" stroke="#7a7a7a" stroke-width="0.5" />
<line x1="156.8" y1="1004.3" x2="156.8" y2="1005.5" stroke="#7a7a7a" stroke-width="0.5" />
<line x1="168" y1="1004.3" x2="168" y2="1005.5" stroke="#7a7a7a" stroke-width="0.5" />
<line x1="179.2" y1="1004.3" x2="179.2" y2="1005.5" stroke="#7a7a7a" stroke-width="0.5" />
<text x="123.9" y="1021.1" font-family='"Liberation Sans", sans-serif' font-size="7.9" font-weight="normal" fill="#333" text-anchor="middle" >Molar Ratio</text>
<text transform="translate(55.65,971.6) rotate(-90)" x="0" y="0" font-family='"Liberation Sans", sans-serif' font-size="7.9" fill="#333" text-anchor="middle">ΔH (kcal/mol)</text>
<path d="M73.36 1000.12 L78.96 1000.12 L84.39 1000.1 L89.88 999.96 L95.42 999.07 L101.02 993.58 L106.68 972.38 L112.39 948.06 L118.16 940.7 L123.98 939.51 L129.86 939.35 L135.8 939.32 L141.79 939.32 L147.84 939.32 L153.94 939.32 L160.1 939.32 L166.32 939.32 L172.59 939.32 L178.92 939.32" stroke="#6e88aa" stroke-width="0.85" fill="none" stroke-linejoin="round"/>
<rect x="78.11" y="998.89" width="1.7" height="1.7" fill="#2f5680" stroke="none" stroke-width="1" />
<rect x="83.54" y="998.89" width="1.7" height="1.7" fill="#2f5680" stroke="none" stroke-width="1" />
<rect x="89.03" y="998.51" width="1.7" height="1.7" fill="#2f5680" stroke="none" stroke-width="1" />
<rect x="94.57" y="999.65" width="1.7" height="1.7" fill="#2f5680" stroke="none" stroke-width="1" />
<rect x="100.17" y="996.61" width="1.7" height="1.7" fill="#2f5680" stroke="none" stroke-width="1" />
<rect x="105.83" y="971.53" width="1.7" height="1.7" fill="#2f5680" stroke="none" stroke-width="1" />
<rect x="111.54" y="947.21" width="1.7" height="1.7" fill="#2f5680" stroke="none" stroke-width="1" />
<rect x="117.31" y="943.41" width="1.7" height="1.7" fill="#2f5680" stroke="none" stroke-width="1" />
<rect x="123.13" y="938.85" width="1.7" height="1.7" fill="#2f5680" stroke="none" stroke-width="1" />
<rect x="129.01" y="938.09" width="1.7" height="1.7" fill="#2f5680" stroke="none" stroke-width="1" />
<rect x="134.95" y="938.85" width="1.7" height="1.7" fill="#2f5680" stroke="none" stroke-width="1" />
<rect x="140.94" y="938.85" width="1.7" height="1.7" fill="#2f5680" stroke="none" stroke-width="1" />
<rect x="146.99" y="940.37" width="1.7" height="1.7" fill="#2f5680" stroke="none" stroke-width="1" />
<rect x="153.09" y="940.37" width="1.7" height="1.7" fill="#2f5680" stroke="none" stroke-width="1" />
<rect x="159.25" y="939.61" width="1.7" height="1.7" fill="#2f5680" stroke="none" stroke-width="1" />
<rect x="165.47" y="939.61" width="1.7" height="1.7" fill="#2f5680" stroke="none" stroke-width="1" />
<rect x="171.74" y="937.33" width="1.7" height="1.7" fill="#2f5680" stroke="none" stroke-width="1" />
<rect x="178.07" y="938.09" width="1.7" height="1.7" fill="#2f5680" stroke="none" stroke-width="1" />
<text x="147.3" y="998.8" font-family='"Liberation Serif", serif' font-size="10.1" font-weight="bold" fill="#111" text-anchor="middle" >Kd: 0.124 µM</text>
<circle cx="225.5" cy="809.3" r="17.9" fill="#d0e8ec" stroke="#b4ccd2" stroke-width="0.6"/>
<text x="225.5" y="815.1" font-family='"Liberation Serif", serif' font-size="15.9" font-weight="bold" fill="#111" text-anchor="middle" >R12</text>
<line x1="245.8" y1="809.4" x2="259.2" y2="809.4" stroke="#111" stroke-width="1.6" />
<line x1="252.5" y1="802.7" x2="252.5" y2="816.1" stroke="#111" stroke-width="1.6" />
<rect x="261.2" y="795" width="52.5" height="28.3" fill="#dca236" stroke="none" stroke-width="1" />
<text x="287.45" y="814.41" font-family='"Liberation Serif", serif' font-size="14.6" font-weight="bold" fill="#111" text-anchor="middle" >ADP</text>
<text x="286.7" y="789.7" font-family='"Liberation Serif", serif' font-size="12.4" font-weight="bold" fill="#111" text-anchor="middle" >5 mM</text>
<line x1="215.3" y1="837.8" x2="215.3" y2="907.2" stroke="#c4c4c4" stroke-width="1" />
<line x1="215.3" y1="907.2" x2="322.2" y2="907.2" stroke="#c4c4c4" stroke-width="1" />
<line x1="213.4" y1="841.7" x2="215.3" y2="841.7" stroke="#7a7a7a" stroke-width="0.6" />
<text x="212.7" y="843.45" font-family='"Liberation Sans", sans-serif' font-size="5.3" font-weight="normal" fill="#444" text-anchor="end" >0</text>
<line x1="213.4" y1="853.64" x2="215.3" y2="853.64" stroke="#7a7a7a" stroke-width="0.6" />
<text x="212.7" y="855.39" font-family='"Liberation Sans", sans-serif' font-size="5.3" font-weight="normal" fill="#444" text-anchor="end" >-0.2</text>
<line x1="213.4" y1="865.58" x2="215.3" y2="865.58" stroke="#7a7a7a" stroke-width="0.6" />
<text x="212.7" y="867.33" font-family='"Liberation Sans", sans-serif' font-size="5.3" font-weight="normal" fill="#444" text-anchor="end" >-0.4</text>
<line x1="213.4" y1="877.52" x2="215.3" y2="877.52" stroke="#7a7a7a" stroke-width="0.6" />
<text x="212.7" y="879.27" font-family='"Liberation Sans", sans-serif' font-size="5.3" font-weight="normal" fill="#444" text-anchor="end" >-0.6</text>
<line x1="213.4" y1="889.46" x2="215.3" y2="889.46" stroke="#7a7a7a" stroke-width="0.6" />
<text x="212.7" y="891.21" font-family='"Liberation Sans", sans-serif' font-size="5.3" font-weight="normal" fill="#444" text-anchor="end" >-0.8</text>
<line x1="213.4" y1="901.4" x2="215.3" y2="901.4" stroke="#7a7a7a" stroke-width="0.6" />
<text x="212.7" y="903.15" font-family='"Liberation Sans", sans-serif' font-size="5.3" font-weight="normal" fill="#444" text-anchor="end" >-1</text>
<line x1="214.1" y1="847.67" x2="215.3" y2="847.67" stroke="#7a7a7a" stroke-width="0.5" />
<line x1="214.1" y1="859.61" x2="215.3" y2="859.61" stroke="#7a7a7a" stroke-width="0.5" />
<line x1="214.1" y1="871.55" x2="215.3" y2="871.55" stroke="#7a7a7a" stroke-width="0.5" />
<line x1="214.1" y1="883.49" x2="215.3" y2="883.49" stroke="#7a7a7a" stroke-width="0.5" />
<line x1="214.1" y1="895.43" x2="215.3" y2="895.43" stroke="#7a7a7a" stroke-width="0.5" />
<line x1="215.3" y1="907.2" x2="215.3" y2="909.1" stroke="#7a7a7a" stroke-width="0.6" />
<text x="215.3" y="914.8" font-family='"Liberation Sans", sans-serif' font-size="5.3" font-weight="normal" fill="#444" text-anchor="middle" >0</text>
<line x1="225.78" y1="907.2" x2="225.78" y2="909.1" stroke="#7a7a7a" stroke-width="0.6" />
<text x="225.78" y="914.8" font-family='"Liberation Sans", sans-serif' font-size="5.3" font-weight="normal" fill="#444" text-anchor="middle" >5</text>
<line x1="236.26" y1="907.2" x2="236.26" y2="909.1" stroke="#7a7a7a" stroke-width="0.6" />
<text x="236.26" y="914.8" font-family='"Liberation Sans", sans-serif' font-size="5.3" font-weight="normal" fill="#444" text-anchor="middle" >10</text>
<line x1="246.74" y1="907.2" x2="246.74" y2="909.1" stroke="#7a7a7a" stroke-width="0.6" />
<text x="246.74" y="914.8" font-family='"Liberation Sans", sans-serif' font-size="5.3" font-weight="normal" fill="#444" text-anchor="middle" >15</text>
<line x1="257.22" y1="907.2" x2="257.22" y2="909.1" stroke="#7a7a7a" stroke-width="0.6" />
<text x="257.22" y="914.8" font-family='"Liberation Sans", sans-serif' font-size="5.3" font-weight="normal" fill="#444" text-anchor="middle" >20</text>
<line x1="267.7" y1="907.2" x2="267.7" y2="909.1" stroke="#7a7a7a" stroke-width="0.6" />
<text x="267.7" y="914.8" font-family='"Liberation Sans", sans-serif' font-size="5.3" font-weight="normal" fill="#444" text-anchor="middle" >25</text>
<line x1="278.18" y1="907.2" x2="278.18" y2="909.1" stroke="#7a7a7a" stroke-width="0.6" />
<text x="278.18" y="914.8" font-family='"Liberation Sans", sans-serif' font-size="5.3" font-weight="normal" fill="#444" text-anchor="middle" >30</text>
<line x1="288.66" y1="907.2" x2="288.66" y2="909.1" stroke="#7a7a7a" stroke-width="0.6" />
<text x="288.66" y="914.8" font-family='"Liberation Sans", sans-serif' font-size="5.3" font-weight="normal" fill="#444" text-anchor="middle" >35</text>
<line x1="299.14" y1="907.2" x2="299.14" y2="909.1" stroke="#7a7a7a" stroke-width="0.6" />
<text x="299.14" y="914.8" font-family='"Liberation Sans", sans-serif' font-size="5.3" font-weight="normal" fill="#444" text-anchor="middle" >40</text>
<line x1="309.62" y1="907.2" x2="309.62" y2="909.1" stroke="#7a7a7a" stroke-width="0.6" />
<text x="309.62" y="914.8" font-family='"Liberation Sans", sans-serif' font-size="5.3" font-weight="normal" fill="#444" text-anchor="middle" >45</text>
<line x1="320.1" y1="907.2" x2="320.1" y2="909.1" stroke="#7a7a7a" stroke-width="0.6" />
<text x="320.1" y="914.8" font-family='"Liberation Sans", sans-serif' font-size="5.3" font-weight="normal" fill="#444" text-anchor="middle" >50</text>
<line x1="220.54" y1="907.2" x2="220.54" y2="908.4" stroke="#7a7a7a" stroke-width="0.5" />
<line x1="231.02" y1="907.2" x2="231.02" y2="908.4" stroke="#7a7a7a" stroke-width="0.5" />
<line x1="241.5" y1="907.2" x2="241.5" y2="908.4" stroke="#7a7a7a" stroke-width="0.5" />
<line x1="251.98" y1="907.2" x2="251.98" y2="908.4" stroke="#7a7a7a" stroke-width="0.5" />
<line x1="262.46" y1="907.2" x2="262.46" y2="908.4" stroke="#7a7a7a" stroke-width="0.5" />
<line x1="272.94" y1="907.2" x2="272.94" y2="908.4" stroke="#7a7a7a" stroke-width="0.5" />
<line x1="283.42" y1="907.2" x2="283.42" y2="908.4" stroke="#7a7a7a" stroke-width="0.5" />
<line x1="293.9" y1="907.2" x2="293.9" y2="908.4" stroke="#7a7a7a" stroke-width="0.5" />
<line x1="304.38" y1="907.2" x2="304.38" y2="908.4" stroke="#7a7a7a" stroke-width="0.5" />
<line x1="314.86" y1="907.2" x2="314.86" y2="908.4" stroke="#7a7a7a" stroke-width="0.5" />
<text x="264.3" y="924.4" font-family='"Liberation Sans", sans-serif' font-size="7.9" font-weight="normal" fill="#333" text-anchor="middle" >Time (min)</text>
<text transform="translate(197.15,874.5) rotate(-90)" x="0" y="0" font-family='"Liberation Sans", sans-serif' font-size="7.9" fill="#333" text-anchor="middle">DP (µcal/s)</text>
<path d="M215.93 841.7 L217.4 841.7 L218.55 841.91 L219.7 842.02 L220.85 841.55 L222.01 841.89 L223.37 841.7 L223.75 841.81 L224.9 841.43 L226.05 841.37 L227.21 841.62 L228.57 841.7 L228.94 841.53 L230.1 841.7 L231.25 841.57 L232.4 841.94 L233.77 841.7 L234.14 841.63 L235.3 842.05 L236.45 841.39 L237.6 841.92 L238.96 841.7 L239.34 841.46 L240.49 841.84 L241.65 841.74 L242.8 842.02 L244.16 841.7 L244.54 841.73 L245.69 841.97 L246.84 841.8 L248 841.57 L249.36 841.7 L249.74 842.01 L250.89 841.68 L252.04 842.05 L253.2 841.45 L254.56 841.7 L254.94 841.92 L256.09 841.99 L257.24 841.36 L258.39 841.61 L259.76 841.7 L260.13 841.88 L261.29 841.6 L262.44 842.02 L263.59 841.61 L264.95 841.7 L265.33 841.96 L266.48 841.52 L267.64 841.74 L268.79 842.02 L270.15 841.7 L270.53 841.6 L271.68 841.54 L272.84 841.9 L273.99 841.48 L275.35 841.7 L275.73 841.74 L276.88 841.74 L278.03 841.44 L279.19 841.81 L280.55 841.7 L280.93 841.57 L282.08 841.58 L283.23 841.99 L284.38 841.75 L285.75 841.7 L286.12 841.36 L287.28 841.88 L288.43 841.59 L289.58 841.68 L290.94 841.7 L291.32 841.79 L292.47 841.86 L293.63 841.57 L294.78 841.4 L296.14 841.7 L296.52 841.99 L297.67 841.36 L298.83 841.74 L299.98 841.83 L301.34 841.7 L301.72 841.86 L302.87 842.02 L304.02 841.76 L305.18 841.62 L306.54 841.7 L306.92 841.53 L308.07 841.46 L309.22 841.43 L310.37 841.5 L311.74 841.7 L316.54 841.7" stroke="#5b7393" stroke-width="0.45" fill="none" stroke-linejoin="round"/>
<path d="M217.4 841.7 L217.45 852.45 L218.65 842.13 Z" stroke="none" stroke-width="1" fill="#c5d0dd" />
<line x1="217.5" y1="841.7" x2="217.5" y2="852.45" stroke="#546d8e" stroke-width="0.85" />
<path d="M223.37 841.7 L223.42 904.38 L224.62 844.21 Z" stroke="none" stroke-width="1" fill="#c5d0dd" />
<line x1="223.47" y1="841.7" x2="223.47" y2="904.38" stroke="#546d8e" stroke-width="0.85" />
<path d="M228.57 841.7 L228.62 905.58 L229.82 844.26 Z" stroke="none" stroke-width="1" fill="#c5d0dd" />
<line x1="228.67" y1="841.7" x2="228.67" y2="905.58" stroke="#546d8e" stroke-width="0.85" />
<path d="M233.77 841.7 L233.82 905.58 L235.02 844.26 Z" stroke="none" stroke-width="1" fill="#c5d0dd" />
<line x1="233.87" y1="841.7" x2="233.87" y2="905.58" stroke="#546d8e" stroke-width="0.85" />
<path d="M238.96 841.7 L239.01 902.59 L240.21 844.14 Z" stroke="none" stroke-width="1" fill="#c5d0dd" />
<line x1="239.06" y1="841.7" x2="239.06" y2="902.59" stroke="#546d8e" stroke-width="0.85" />
<path d="M244.16 841.7 L244.21 900.21 L245.41 844.04 Z" stroke="none" stroke-width="1" fill="#c5d0dd" />
<line x1="244.26" y1="841.7" x2="244.26" y2="900.21" stroke="#546d8e" stroke-width="0.85" />
<path d="M249.36 841.7 L249.41 895.43 L250.61 843.85 Z" stroke="none" stroke-width="1" fill="#c5d0dd" />
<line x1="249.46" y1="841.7" x2="249.46" y2="895.43" stroke="#546d8e" stroke-width="0.85" />
<path d="M254.56 841.7 L254.61 888.27 L255.81 843.56 Z" stroke="none" stroke-width="1" fill="#c5d0dd" />
<line x1="254.66" y1="841.7" x2="254.66" y2="888.27" stroke="#546d8e" stroke-width="0.85" />
<path d="M259.76 841.7 L259.81 864.39 L261.01 842.61 Z" stroke="none" stroke-width="1" fill="#c5d0dd" />
<line x1="259.86" y1="841.7" x2="259.86" y2="864.39" stroke="#546d8e" stroke-width="0.85" />
<path d="M264.95 841.7 L265 847.67 L266.2 841.94 Z" stroke="none" stroke-width="1" fill="#c5d0dd" />
<line x1="265.05" y1="841.7" x2="265.05" y2="847.67" stroke="#546d8e" stroke-width="0.85" />
<path d="M270.15 841.7 L270.2 844.69 L271.4 841.82 Z" stroke="none" stroke-width="1" fill="#c5d0dd" />
<line x1="270.25" y1="841.7" x2="270.25" y2="844.69" stroke="#546d8e" stroke-width="0.85" />
<path d="M275.35 841.7 L275.4 844.69 L276.6 841.82 Z" stroke="none" stroke-width="1" fill="#c5d0dd" />
<line x1="275.45" y1="841.7" x2="275.45" y2="844.69" stroke="#546d8e" stroke-width="0.85" />
<path d="M280.55 841.7 L280.6 844.09 L281.8 841.8 Z" stroke="none" stroke-width="1" fill="#c5d0dd" />
<line x1="280.65" y1="841.7" x2="280.65" y2="844.09" stroke="#546d8e" stroke-width="0.85" />
<path d="M285.75 841.7 L285.8 844.69 L287 841.82 Z" stroke="none" stroke-width="1" fill="#c5d0dd" />
<line x1="285.85" y1="841.7" x2="285.85" y2="844.69" stroke="#546d8e" stroke-width="0.85" />
<path d="M290.94 841.7 L290.99 844.09 L292.19 841.8 Z" stroke="none" stroke-width="1" fill="#c5d0dd" />
<line x1="291.04" y1="841.7" x2="291.04" y2="844.09" stroke="#546d8e" stroke-width="0.85" />
<path d="M296.14 841.7 L296.19 844.69 L297.39 841.82 Z" stroke="none" stroke-width="1" fill="#c5d0dd" />
<line x1="296.24" y1="841.7" x2="296.24" y2="844.69" stroke="#546d8e" stroke-width="0.85" />
<path d="M301.34 841.7 L301.39 844.09 L302.59 841.8 Z" stroke="none" stroke-width="1" fill="#c5d0dd" />
<line x1="301.44" y1="841.7" x2="301.44" y2="844.09" stroke="#546d8e" stroke-width="0.85" />
<path d="M306.54 841.7 L306.59 844.69 L307.79 841.82 Z" stroke="none" stroke-width="1" fill="#c5d0dd" />
<line x1="306.64" y1="841.7" x2="306.64" y2="844.69" stroke="#546d8e" stroke-width="0.85" />
<path d="M311.74 841.7 L311.79 844.09 L312.99 841.8 Z" stroke="none" stroke-width="1" fill="#c5d0dd" />
<line x1="311.84" y1="841.7" x2="311.84" y2="844.09" stroke="#546d8e" stroke-width="0.85" />
<line x1="217.29" y1="841.7" x2="217.29" y2="840.06" stroke="#5b7393" stroke-width="0.45" />
<line x1="223.26" y1="841.7" x2="223.26" y2="839.77" stroke="#5b7393" stroke-width="0.45" />
<line x1="228.46" y1="841.7" x2="228.46" y2="839.71" stroke="#5b7393" stroke-width="0.45" />
<line x1="233.66" y1="841.7" x2="233.66" y2="839.39" stroke="#5b7393" stroke-width="0.45" />
<line x1="238.86" y1="841.7" x2="238.86" y2="839.5" stroke="#5b7393" stroke-width="0.45" />
<line x1="244.06" y1="841.7" x2="244.06" y2="840.56" stroke="#5b7393" stroke-width="0.45" />
<line x1="249.26" y1="841.7" x2="249.26" y2="840.77" stroke="#5b7393" stroke-width="0.45" />
<line x1="254.45" y1="841.7" x2="254.45" y2="839.6" stroke="#5b7393" stroke-width="0.45" />
<line x1="259.65" y1="841.7" x2="259.65" y2="840.82" stroke="#5b7393" stroke-width="0.45" />
<line x1="264.85" y1="841.7" x2="264.85" y2="839.66" stroke="#5b7393" stroke-width="0.45" />
<line x1="270.05" y1="841.7" x2="270.05" y2="840.06" stroke="#5b7393" stroke-width="0.45" />
<line x1="275.25" y1="841.7" x2="275.25" y2="839.93" stroke="#5b7393" stroke-width="0.45" />
<line x1="280.44" y1="841.7" x2="280.44" y2="839.43" stroke="#5b7393" stroke-width="0.45" />
<line x1="285.64" y1="841.7" x2="285.64" y2="840.46" stroke="#5b7393" stroke-width="0.45" />
<line x1="290.84" y1="841.7" x2="290.84" y2="840.46" stroke="#5b7393" stroke-width="0.45" />
<line x1="296.04" y1="841.7" x2="296.04" y2="839.32" stroke="#5b7393" stroke-width="0.45" />
<line x1="301.24" y1="841.7" x2="301.24" y2="840.26" stroke="#5b7393" stroke-width="0.45" />
<line x1="306.43" y1="841.7" x2="306.43" y2="840.59" stroke="#5b7393" stroke-width="0.45" />
<line x1="311.63" y1="841.7" x2="311.63" y2="839.55" stroke="#5b7393" stroke-width="0.45" />
<line x1="214.5" y1="934.3" x2="214.5" y2="1003.8" stroke="#c4c4c4" stroke-width="1" />
<line x1="214.5" y1="1003.8" x2="321.8" y2="1003.8" stroke="#c4c4c4" stroke-width="1" />
<line x1="212.6" y1="938.4" x2="214.5" y2="938.4" stroke="#7a7a7a" stroke-width="0.6" />
<text x="211.9" y="940.15" font-family='"Liberation Sans", sans-serif' font-size="5.3" font-weight="normal" fill="#444" text-anchor="end" >0</text>
<line x1="212.6" y1="953.2" x2="214.5" y2="953.2" stroke="#7a7a7a" stroke-width="0.6" />
<text x="211.9" y="954.95" font-family='"Liberation Sans", sans-serif' font-size="5.3" font-weight="normal" fill="#444" text-anchor="end" >-2</text>
<line x1="212.6" y1="968" x2="214.5" y2="968" stroke="#7a7a7a" stroke-width="0.6" />
<text x="211.9" y="969.75" font-family='"Liberation Sans", sans-serif' font-size="5.3" font-weight="normal" fill="#444" text-anchor="end" >-4</text>
<line x1="212.6" y1="982.8" x2="214.5" y2="982.8" stroke="#7a7a7a" stroke-width="0.6" />
<text x="211.9" y="984.55" font-family='"Liberation Sans", sans-serif' font-size="5.3" font-weight="normal" fill="#444" text-anchor="end" >-6</text>
<line x1="212.6" y1="997.6" x2="214.5" y2="997.6" stroke="#7a7a7a" stroke-width="0.6" />
<text x="211.9" y="999.35" font-family='"Liberation Sans", sans-serif' font-size="5.3" font-weight="normal" fill="#444" text-anchor="end" >-8</text>
<line x1="213.3" y1="945.8" x2="214.5" y2="945.8" stroke="#7a7a7a" stroke-width="0.5" />
<line x1="213.3" y1="960.6" x2="214.5" y2="960.6" stroke="#7a7a7a" stroke-width="0.5" />
<line x1="213.3" y1="975.4" x2="214.5" y2="975.4" stroke="#7a7a7a" stroke-width="0.5" />
<line x1="213.3" y1="990.2" x2="214.5" y2="990.2" stroke="#7a7a7a" stroke-width="0.5" />
<line x1="214.5" y1="1003.8" x2="214.5" y2="1005.7" stroke="#7a7a7a" stroke-width="0.6" />
<text x="214.5" y="1011.4" font-family='"Liberation Sans", sans-serif' font-size="5.3" font-weight="normal" fill="#444" text-anchor="middle" >0</text>
<line x1="225.18" y1="1003.8" x2="225.18" y2="1005.7" stroke="#7a7a7a" stroke-width="0.6" />
<text x="225.18" y="1011.4" font-family='"Liberation Sans", sans-serif' font-size="5.3" font-weight="normal" fill="#444" text-anchor="middle" >0.2</text>
<line x1="235.86" y1="1003.8" x2="235.86" y2="1005.7" stroke="#7a7a7a" stroke-width="0.6" />
<text x="235.86" y="1011.4" font-family='"Liberation Sans", sans-serif' font-size="5.3" font-weight="normal" fill="#444" text-anchor="middle" >0.4</text>
<line x1="246.53" y1="1003.8" x2="246.53" y2="1005.7" stroke="#7a7a7a" stroke-width="0.6" />
<text x="246.53" y="1011.4" font-family='"Liberation Sans", sans-serif' font-size="5.3" font-weight="normal" fill="#444" text-anchor="middle" >0.6</text>
<line x1="257.21" y1="1003.8" x2="257.21" y2="1005.7" stroke="#7a7a7a" stroke-width="0.6" />
<text x="257.21" y="1011.4" font-family='"Liberation Sans", sans-serif' font-size="5.3" font-weight="normal" fill="#444" text-anchor="middle" >0.8</text>
<line x1="267.89" y1="1003.8" x2="267.89" y2="1005.7" stroke="#7a7a7a" stroke-width="0.6" />
<text x="267.89" y="1011.4" font-family='"Liberation Sans", sans-serif' font-size="5.3" font-weight="normal" fill="#444" text-anchor="middle" >1</text>
<line x1="278.57" y1="1003.8" x2="278.57" y2="1005.7" stroke="#7a7a7a" stroke-width="0.6" />
<text x="278.57" y="1011.4" font-family='"Liberation Sans", sans-serif' font-size="5.3" font-weight="normal" fill="#444" text-anchor="middle" >1.2</text>
<line x1="289.24" y1="1003.8" x2="289.24" y2="1005.7" stroke="#7a7a7a" stroke-width="0.6" />
<text x="289.24" y="1011.4" font-family='"Liberation Sans", sans-serif' font-size="5.3" font-weight="normal" fill="#444" text-anchor="middle" >1.4</text>
<line x1="299.92" y1="1003.8" x2="299.92" y2="1005.7" stroke="#7a7a7a" stroke-width="0.6" />
<text x="299.92" y="1011.4" font-family='"Liberation Sans", sans-serif' font-size="5.3" font-weight="normal" fill="#444" text-anchor="middle" >1.6</text>
<line x1="310.6" y1="1003.8" x2="310.6" y2="1005.7" stroke="#7a7a7a" stroke-width="0.6" />
<text x="310.6" y="1011.4" font-family='"Liberation Sans", sans-serif' font-size="5.3" font-weight="normal" fill="#444" text-anchor="middle" >1.8</text>
<line x1="219.84" y1="1003.8" x2="219.84" y2="1005" stroke="#7a7a7a" stroke-width="0.5" />
<line x1="230.52" y1="1003.8" x2="230.52" y2="1005" stroke="#7a7a7a" stroke-width="0.5" />
<line x1="241.19" y1="1003.8" x2="241.19" y2="1005" stroke="#7a7a7a" stroke-width="0.5" />
<line x1="251.87" y1="1003.8" x2="251.87" y2="1005" stroke="#7a7a7a" stroke-width="0.5" />
<line x1="262.55" y1="1003.8" x2="262.55" y2="1005" stroke="#7a7a7a" stroke-width="0.5" />
<line x1="273.23" y1="1003.8" x2="273.23" y2="1005" stroke="#7a7a7a" stroke-width="0.5" />
<line x1="283.91" y1="1003.8" x2="283.91" y2="1005" stroke="#7a7a7a" stroke-width="0.5" />
<line x1="294.58" y1="1003.8" x2="294.58" y2="1005" stroke="#7a7a7a" stroke-width="0.5" />
<line x1="305.26" y1="1003.8" x2="305.26" y2="1005" stroke="#7a7a7a" stroke-width="0.5" />
<line x1="315.94" y1="1003.8" x2="315.94" y2="1005" stroke="#7a7a7a" stroke-width="0.5" />
<text x="265.6" y="1020.6" font-family='"Liberation Sans", sans-serif' font-size="7.9" font-weight="normal" fill="#333" text-anchor="middle" >Molar Ratio</text>
<text transform="translate(197.75,971.05) rotate(-90)" x="0" y="0" font-family='"Liberation Sans", sans-serif' font-size="7.9" fill="#333" text-anchor="middle">ΔH (kcal/mol)</text>
<path d="M215.03 1000.56 L220.37 1000.56 L225.55 1000.56 L230.78 1000.56 L236.07 1000.55 L241.41 1000.48 L246.8 999.85 L252.25 994.84 L257.75 970.96 L263.3 945.06 L268.9 939.19 L274.56 938.48 L280.28 938.41 L286.04 938.4 L291.86 938.4 L297.73 938.4 L303.66 938.4 L309.64 938.4 L315.67 938.4" stroke="#6e88aa" stroke-width="0.85" fill="none" stroke-linejoin="round"/>
<rect x="219.52" y="1000.82" width="1.7" height="1.7" fill="#2f5680" stroke="none" stroke-width="1" />
<rect x="224.7" y="999.71" width="1.7" height="1.7" fill="#2f5680" stroke="none" stroke-width="1" />
<rect x="229.93" y="999.71" width="1.7" height="1.7" fill="#2f5680" stroke="none" stroke-width="1" />
<rect x="235.22" y="998.23" width="1.7" height="1.7" fill="#2f5680" stroke="none" stroke-width="1" />
<rect x="240.56" y="997.86" width="1.7" height="1.7" fill="#2f5680" stroke="none" stroke-width="1" />
<rect x="245.95" y="998.97" width="1.7" height="1.7" fill="#2f5680" stroke="none" stroke-width="1" />
<rect x="251.4" y="995.64" width="1.7" height="1.7" fill="#2f5680" stroke="none" stroke-width="1" />
<rect x="256.89" y="970.11" width="1.7" height="1.7" fill="#2f5680" stroke="none" stroke-width="1" />
<rect x="262.45" y="944.21" width="1.7" height="1.7" fill="#2f5680" stroke="none" stroke-width="1" />
<rect x="268.05" y="938.66" width="1.7" height="1.7" fill="#2f5680" stroke="none" stroke-width="1" />
<rect x="273.71" y="937.55" width="1.7" height="1.7" fill="#2f5680" stroke="none" stroke-width="1" />
<rect x="279.43" y="937.18" width="1.7" height="1.7" fill="#2f5680" stroke="none" stroke-width="1" />
<rect x="285.19" y="938.29" width="1.7" height="1.7" fill="#2f5680" stroke="none" stroke-width="1" />
<rect x="291.01" y="937.92" width="1.7" height="1.7" fill="#2f5680" stroke="none" stroke-width="1" />
<rect x="296.88" y="937.18" width="1.7" height="1.7" fill="#2f5680" stroke="none" stroke-width="1" />
<rect x="302.81" y="937.55" width="1.7" height="1.7" fill="#2f5680" stroke="none" stroke-width="1" />
<rect x="308.79" y="937.18" width="1.7" height="1.7" fill="#2f5680" stroke="none" stroke-width="1" />
<rect x="314.82" y="937.92" width="1.7" height="1.7" fill="#2f5680" stroke="none" stroke-width="1" />
<text x="293" y="998.7" font-family='"Liberation Serif", serif' font-size="10.1" font-weight="bold" fill="#111" text-anchor="middle" >Kd: 0.062 µM</text>
<circle cx="443.5" cy="812.8" r="17.9" fill="#d0e8ec" stroke="#b4ccd2" stroke-width="0.6"/>
<text x="443.5" y="818.6" font-family='"Liberation Serif", serif' font-size="15.9" font-weight="bold" fill="#111" text-anchor="middle" >R12</text>
<line x1="463.4" y1="812.5" x2="476.8" y2="812.5" stroke="#111" stroke-width="1.6" />
<line x1="470.1" y1="805.8" x2="470.1" y2="819.2" stroke="#111" stroke-width="1.6" />
<rect x="478.2" y="798.9" width="53.1" height="28.6" fill="#dca236" stroke="none" stroke-width="1" />
<text x="504.75" y="818.46" font-family='"Liberation Serif", serif' font-size="14.6" font-weight="bold" fill="#111" text-anchor="middle" >ADP</text>
<text x="505.1" y="795" font-family='"Liberation Serif", serif' font-size="12.4" font-weight="bold" fill="#111" text-anchor="middle" >500 µM</text>
<rect x="367.1" y="901.1" width="45.4" height="27.6" fill="#44ff22" stroke="none" stroke-width="1" />
<text x="389.8" y="920.73" font-family='"Liberation Serif", serif' font-size="16.2" font-weight="bold" fill="#111" text-anchor="middle" >AZU</text>
<line x1="430" y1="836.2" x2="430" y2="905.4" stroke="#c4c4c4" stroke-width="1" />
<line x1="430" y1="905.4" x2="536.5" y2="905.4" stroke="#c4c4c4" stroke-width="1" />
<line x1="428.1" y1="840.1" x2="430" y2="840.1" stroke="#7a7a7a" stroke-width="0.6" />
<text x="427.4" y="841.85" font-family='"Liberation Sans", sans-serif' font-size="5.3" font-weight="normal" fill="#444" text-anchor="end" >0</text>
<line x1="428.1" y1="851.82" x2="430" y2="851.82" stroke="#7a7a7a" stroke-width="0.6" />
<text x="427.4" y="853.57" font-family='"Liberation Sans", sans-serif' font-size="5.3" font-weight="normal" fill="#444" text-anchor="end" >-0.2</text>
<line x1="428.1" y1="863.54" x2="430" y2="863.54" stroke="#7a7a7a" stroke-width="0.6" />
<text x="427.4" y="865.29" font-family='"Liberation Sans", sans-serif' font-size="5.3" font-weight="normal" fill="#444" text-anchor="end" >-0.4</text>
<line x1="428.1" y1="875.26" x2="430" y2="875.26" stroke="#7a7a7a" stroke-width="0.6" />
<text x="427.4" y="877.01" font-family='"Liberation Sans", sans-serif' font-size="5.3" font-weight="normal" fill="#444" text-anchor="end" >-0.6</text>
<line x1="428.1" y1="886.98" x2="430" y2="886.98" stroke="#7a7a7a" stroke-width="0.6" />
<text x="427.4" y="888.73" font-family='"Liberation Sans", sans-serif' font-size="5.3" font-weight="normal" fill="#444" text-anchor="end" >-0.8</text>
<line x1="428.1" y1="898.7" x2="430" y2="898.7" stroke="#7a7a7a" stroke-width="0.6" />
<text x="427.4" y="900.45" font-family='"Liberation Sans", sans-serif' font-size="5.3" font-weight="normal" fill="#444" text-anchor="end" >-1</text>
<line x1="428.8" y1="845.96" x2="430" y2="845.96" stroke="#7a7a7a" stroke-width="0.5" />
<line x1="428.8" y1="857.68" x2="430" y2="857.68" stroke="#7a7a7a" stroke-width="0.5" />
<line x1="428.8" y1="869.4" x2="430" y2="869.4" stroke="#7a7a7a" stroke-width="0.5" />
<line x1="428.8" y1="881.12" x2="430" y2="881.12" stroke="#7a7a7a" stroke-width="0.5" />
<line x1="428.8" y1="892.84" x2="430" y2="892.84" stroke="#7a7a7a" stroke-width="0.5" />
<line x1="428.8" y1="904.56" x2="430" y2="904.56" stroke="#7a7a7a" stroke-width="0.5" />
<line x1="430" y1="905.4" x2="430" y2="907.3" stroke="#7a7a7a" stroke-width="0.6" />
<text x="430" y="913" font-family='"Liberation Sans", sans-serif' font-size="5.3" font-weight="normal" fill="#444" text-anchor="middle" >0</text>
<line x1="440.5" y1="905.4" x2="440.5" y2="907.3" stroke="#7a7a7a" stroke-width="0.6" />
<text x="440.5" y="913" font-family='"Liberation Sans", sans-serif' font-size="5.3" font-weight="normal" fill="#444" text-anchor="middle" >5</text>
<line x1="451" y1="905.4" x2="451" y2="907.3" stroke="#7a7a7a" stroke-width="0.6" />
<text x="451" y="913" font-family='"Liberation Sans", sans-serif' font-size="5.3" font-weight="normal" fill="#444" text-anchor="middle" >10</text>
<line x1="461.5" y1="905.4" x2="461.5" y2="907.3" stroke="#7a7a7a" stroke-width="0.6" />
<text x="461.5" y="913" font-family='"Liberation Sans", sans-serif' font-size="5.3" font-weight="normal" fill="#444" text-anchor="middle" >15</text>
<line x1="472" y1="905.4" x2="472" y2="907.3" stroke="#7a7a7a" stroke-width="0.6" />
<text x="472" y="913" font-family='"Liberation Sans", sans-serif' font-size="5.3" font-weight="normal" fill="#444" text-anchor="middle" >20</text>
<line x1="482.5" y1="905.4" x2="482.5" y2="907.3" stroke="#7a7a7a" stroke-width="0.6" />
<text x="482.5" y="913" font-family='"Liberation Sans", sans-serif' font-size="5.3" font-weight="normal" fill="#444" text-anchor="middle" >25</text>
<line x1="493" y1="905.4" x2="493" y2="907.3" stroke="#7a7a7a" stroke-width="0.6" />
<text x="493" y="913" font-family='"Liberation Sans", sans-serif' font-size="5.3" font-weight="normal" fill="#444" text-anchor="middle" >30</text>
<line x1="503.5" y1="905.4" x2="503.5" y2="907.3" stroke="#7a7a7a" stroke-width="0.6" />
<text x="503.5" y="913" font-family='"Liberation Sans", sans-serif' font-size="5.3" font-weight="normal" fill="#444" text-anchor="middle" >35</text>
<line x1="514" y1="905.4" x2="514" y2="907.3" stroke="#7a7a7a" stroke-width="0.6" />
<text x="514" y="913" font-family='"Liberation Sans", sans-serif' font-size="5.3" font-weight="normal" fill="#444" text-anchor="middle" >40</text>
<line x1="524.5" y1="905.4" x2="524.5" y2="907.3" stroke="#7a7a7a" stroke-width="0.6" />
<text x="524.5" y="913" font-family='"Liberation Sans", sans-serif' font-size="5.3" font-weight="normal" fill="#444" text-anchor="middle" >45</text>
<line x1="535" y1="905.4" x2="535" y2="907.3" stroke="#7a7a7a" stroke-width="0.6" />
<text x="535" y="913" font-family='"Liberation Sans", sans-serif' font-size="5.3" font-weight="normal" fill="#444" text-anchor="middle" >50</text>
<line x1="435.25" y1="905.4" x2="435.25" y2="906.6" stroke="#7a7a7a" stroke-width="0.5" />
<line x1="445.75" y1="905.4" x2="445.75" y2="906.6" stroke="#7a7a7a" stroke-width="0.5" />
<line x1="456.25" y1="905.4" x2="456.25" y2="906.6" stroke="#7a7a7a" stroke-width="0.5" />
<line x1="466.75" y1="905.4" x2="466.75" y2="906.6" stroke="#7a7a7a" stroke-width="0.5" />
<line x1="477.25" y1="905.4" x2="477.25" y2="906.6" stroke="#7a7a7a" stroke-width="0.5" />
<line x1="487.75" y1="905.4" x2="487.75" y2="906.6" stroke="#7a7a7a" stroke-width="0.5" />
<line x1="498.25" y1="905.4" x2="498.25" y2="906.6" stroke="#7a7a7a" stroke-width="0.5" />
<line x1="508.75" y1="905.4" x2="508.75" y2="906.6" stroke="#7a7a7a" stroke-width="0.5" />
<line x1="519.25" y1="905.4" x2="519.25" y2="906.6" stroke="#7a7a7a" stroke-width="0.5" />
<line x1="529.75" y1="905.4" x2="529.75" y2="906.6" stroke="#7a7a7a" stroke-width="0.5" />
<text x="479.1" y="922.6" font-family='"Liberation Sans", sans-serif' font-size="7.9" font-weight="normal" fill="#333" text-anchor="middle" >Time (min)</text>
<text transform="translate(411.85,872.8) rotate(-90)" x="0" y="0" font-family='"Liberation Sans", sans-serif' font-size="7.9" fill="#333" text-anchor="middle">DP (µcal/s)</text>
<path d="M430.63 840.1 L432.1 840.1 L433.25 840.3 L434.41 840.11 L435.56 840.11 L436.72 840.03 L438.08 840.1 L438.46 839.95 L439.62 839.85 L440.77 839.93 L441.93 839.93 L443.29 840.1 L443.67 839.94 L444.83 839.83 L445.98 839.98 L447.14 839.97 L448.5 840.1 L448.88 839.89 L450.03 839.8 L451.19 839.89 L452.34 840.13 L453.71 840.1 L454.09 840.26 L455.24 840.31 L456.4 840.04 L457.55 839.82 L458.92 840.1 L459.3 840.28 L460.45 840.03 L461.61 840.21 L462.76 839.96 L464.12 840.1 L464.5 840.33 L465.66 840.3 L466.81 840.42 L467.97 839.91 L469.33 840.1 L469.71 840.26 L470.87 840.31 L472.02 840.02 L473.18 839.85 L474.54 840.1 L474.92 839.82 L476.07 840.24 L477.23 839.75 L478.38 840.07 L479.75 840.1 L480.13 839.83 L481.28 840.09 L482.44 840.1 L483.59 840.01 L484.96 840.1 L485.34 840.36 L486.49 840.37 L487.64 839.92 L488.8 839.77 L490.17 840.1 L490.54 839.83 L491.7 840.24 L492.85 839.93 L494.01 839.84 L495.37 840.1 L495.75 840.03 L496.91 840.26 L498.06 840.07 L499.22 839.96 L500.58 840.1 L500.96 839.78 L502.11 839.9 L503.27 840.23 L504.42 840.28 L505.79 840.1 L506.17 839.8 L507.32 840.1 L508.48 840.21 L509.63 839.76 L511 840.1 L511.38 839.94 L512.53 839.81 L513.69 839.87 L514.84 839.95 L516.21 840.1 L516.58 839.83 L517.74 840.18 L518.89 840.37 L520.05 840.23 L521.41 840.1 L521.79 840.2 L522.95 840.19 L524.1 839.76 L525.26 840.02 L526.62 840.1 L531.43 840.1" stroke="#5b7393" stroke-width="0.45" fill="none" stroke-linejoin="round"/>
<path d="M432.1 840.1 L432.15 854.75 L433.35 840.69 Z" stroke="none" stroke-width="1" fill="#c5d0dd" />
<line x1="432.2" y1="840.1" x2="432.2" y2="854.75" stroke="#546d8e" stroke-width="0.85" />
<path d="M438.08 840.1 L438.13 904.56 L439.33 842.68 Z" stroke="none" stroke-width="1" fill="#c5d0dd" />
<line x1="438.19" y1="840.1" x2="438.19" y2="904.56" stroke="#546d8e" stroke-width="0.85" />
<path d="M443.29 840.1 L443.34 904.56 L444.54 842.68 Z" stroke="none" stroke-width="1" fill="#c5d0dd" />
<line x1="443.39" y1="840.1" x2="443.39" y2="904.56" stroke="#546d8e" stroke-width="0.85" />
<path d="M448.5 840.1 L448.55 902.8 L449.75 842.61 Z" stroke="none" stroke-width="1" fill="#c5d0dd" />
<line x1="448.6" y1="840.1" x2="448.6" y2="902.8" stroke="#546d8e" stroke-width="0.85" />
<path d="M453.71 840.1 L453.76 900.46 L454.96 842.51 Z" stroke="none" stroke-width="1" fill="#c5d0dd" />
<line x1="453.81" y1="840.1" x2="453.81" y2="900.46" stroke="#546d8e" stroke-width="0.85" />
<path d="M458.92 840.1 L458.97 894.6 L460.17 842.28 Z" stroke="none" stroke-width="1" fill="#c5d0dd" />
<line x1="459.02" y1="840.1" x2="459.02" y2="894.6" stroke="#546d8e" stroke-width="0.85" />
<path d="M464.12 840.1 L464.18 882.29 L465.38 841.79 Z" stroke="none" stroke-width="1" fill="#c5d0dd" />
<line x1="464.23" y1="840.1" x2="464.23" y2="882.29" stroke="#546d8e" stroke-width="0.85" />
<path d="M469.33 840.1 L469.38 857.68 L470.58 840.8 Z" stroke="none" stroke-width="1" fill="#c5d0dd" />
<line x1="469.43" y1="840.1" x2="469.43" y2="857.68" stroke="#546d8e" stroke-width="0.85" />
<path d="M474.54 840.1 L474.59 843.03 L475.79 840.22 Z" stroke="none" stroke-width="1" fill="#c5d0dd" />
<line x1="474.64" y1="840.1" x2="474.64" y2="843.03" stroke="#546d8e" stroke-width="0.85" />
<line x1="479.85" y1="840.1" x2="479.85" y2="841.27" stroke="#546d8e" stroke-width="0.85" />
<line x1="485.06" y1="840.1" x2="485.06" y2="841.27" stroke="#546d8e" stroke-width="0.85" />
<line x1="490.27" y1="840.1" x2="490.27" y2="841.27" stroke="#546d8e" stroke-width="0.85" />
<line x1="495.47" y1="840.1" x2="495.47" y2="841.27" stroke="#546d8e" stroke-width="0.85" />
<line x1="500.68" y1="840.1" x2="500.68" y2="841.27" stroke="#546d8e" stroke-width="0.85" />
<line x1="505.89" y1="840.1" x2="505.89" y2="841.27" stroke="#546d8e" stroke-width="0.85" />
<line x1="511.1" y1="840.1" x2="511.1" y2="841.27" stroke="#546d8e" stroke-width="0.85" />
<line x1="516.31" y1="840.1" x2="516.31" y2="841.27" stroke="#546d8e" stroke-width="0.85" />
<line x1="521.51" y1="840.1" x2="521.51" y2="841.27" stroke="#546d8e" stroke-width="0.85" />
<line x1="526.72" y1="840.1" x2="526.72" y2="841.27" stroke="#546d8e" stroke-width="0.85" />
<line x1="432" y1="840.1" x2="432" y2="838.22" stroke="#5b7393" stroke-width="0.45" />
<line x1="437.98" y1="840.1" x2="437.98" y2="837.71" stroke="#5b7393" stroke-width="0.45" />
<line x1="443.19" y1="840.1" x2="443.19" y2="838.78" stroke="#5b7393" stroke-width="0.45" />
<line x1="448.4" y1="840.1" x2="448.4" y2="838.39" stroke="#5b7393" stroke-width="0.45" />
<line x1="453.6" y1="840.1" x2="453.6" y2="838.68" stroke="#5b7393" stroke-width="0.45" />
<line x1="458.81" y1="840.1" x2="458.81" y2="838.14" stroke="#5b7393" stroke-width="0.45" />
<line x1="464.02" y1="840.1" x2="464.02" y2="837.84" stroke="#5b7393" stroke-width="0.45" />
<line x1="469.23" y1="840.1" x2="469.23" y2="838.43" stroke="#5b7393" stroke-width="0.45" />
<line x1="474.44" y1="840.1" x2="474.44" y2="838.3" stroke="#5b7393" stroke-width="0.45" />
<line x1="479.64" y1="840.1" x2="479.64" y2="838.53" stroke="#5b7393" stroke-width="0.45" />
<line x1="484.85" y1="840.1" x2="484.85" y2="837.87" stroke="#5b7393" stroke-width="0.45" />
<line x1="490.06" y1="840.1" x2="490.06" y2="838.7" stroke="#5b7393" stroke-width="0.45" />
<line x1="495.27" y1="840.1" x2="495.27" y2="838.85" stroke="#5b7393" stroke-width="0.45" />
<line x1="500.48" y1="840.1" x2="500.48" y2="838.22" stroke="#5b7393" stroke-width="0.45" />
<line x1="505.68" y1="840.1" x2="505.68" y2="839.14" stroke="#5b7393" stroke-width="0.45" />
<line x1="510.89" y1="840.1" x2="510.89" y2="838.6" stroke="#5b7393" stroke-width="0.45" />
<line x1="516.1" y1="840.1" x2="516.1" y2="838.55" stroke="#5b7393" stroke-width="0.45" />
<line x1="521.31" y1="840.1" x2="521.31" y2="839.19" stroke="#5b7393" stroke-width="0.45" />
<line x1="526.52" y1="840.1" x2="526.52" y2="838.26" stroke="#5b7393" stroke-width="0.45" />
<line x1="426" y1="933.3" x2="426" y2="1003.8" stroke="#c4c4c4" stroke-width="1" />
<line x1="426" y1="1003.8" x2="536.5" y2="1003.8" stroke="#c4c4c4" stroke-width="1" />
<line x1="424.1" y1="937.4" x2="426" y2="937.4" stroke="#7a7a7a" stroke-width="0.6" />
<text x="423.4" y="939.15" font-family='"Liberation Sans", sans-serif' font-size="5.3" font-weight="normal" fill="#444" text-anchor="end" >0</text>
<line x1="424.1" y1="953.36" x2="426" y2="953.36" stroke="#7a7a7a" stroke-width="0.6" />
<text x="423.4" y="955.11" font-family='"Liberation Sans", sans-serif' font-size="5.3" font-weight="normal" fill="#444" text-anchor="end" >-2</text>
<line x1="424.1" y1="969.32" x2="426" y2="969.32" stroke="#7a7a7a" stroke-width="0.6" />
<text x="423.4" y="971.07" font-family='"Liberation Sans", sans-serif' font-size="5.3" font-weight="normal" fill="#444" text-anchor="end" >-4</text>
<line x1="424.1" y1="985.28" x2="426" y2="985.28" stroke="#7a7a7a" stroke-width="0.6" />
<text x="423.4" y="987.03" font-family='"Liberation Sans", sans-serif' font-size="5.3" font-weight="normal" fill="#444" text-anchor="end" >-6</text>
<line x1="424.1" y1="1001.24" x2="426" y2="1001.24" stroke="#7a7a7a" stroke-width="0.6" />
<text x="423.4" y="1002.99" font-family='"Liberation Sans", sans-serif' font-size="5.3" font-weight="normal" fill="#444" text-anchor="end" >-8</text>
<line x1="424.8" y1="945.38" x2="426" y2="945.38" stroke="#7a7a7a" stroke-width="0.5" />
<line x1="424.8" y1="961.34" x2="426" y2="961.34" stroke="#7a7a7a" stroke-width="0.5" />
<line x1="424.8" y1="977.3" x2="426" y2="977.3" stroke="#7a7a7a" stroke-width="0.5" />
<line x1="424.8" y1="993.26" x2="426" y2="993.26" stroke="#7a7a7a" stroke-width="0.5" />
<line x1="426" y1="1003.8" x2="426" y2="1005.7" stroke="#7a7a7a" stroke-width="0.6" />
<text x="426" y="1011.4" font-family='"Liberation Sans", sans-serif' font-size="5.3" font-weight="normal" fill="#444" text-anchor="middle" >0</text>
<line x1="437.19" y1="1003.8" x2="437.19" y2="1005.7" stroke="#7a7a7a" stroke-width="0.6" />
<text x="437.19" y="1011.4" font-family='"Liberation Sans", sans-serif' font-size="5.3" font-weight="normal" fill="#444" text-anchor="middle" >0.2</text>
<line x1="448.38" y1="1003.8" x2="448.38" y2="1005.7" stroke="#7a7a7a" stroke-width="0.6" />
<text x="448.38" y="1011.4" font-family='"Liberation Sans", sans-serif' font-size="5.3" font-weight="normal" fill="#444" text-anchor="middle" >0.4</text>
<line x1="459.57" y1="1003.8" x2="459.57" y2="1005.7" stroke="#7a7a7a" stroke-width="0.6" />
<text x="459.57" y="1011.4" font-family='"Liberation Sans", sans-serif' font-size="5.3" font-weight="normal" fill="#444" text-anchor="middle" >0.6</text>
<line x1="470.76" y1="1003.8" x2="470.76" y2="1005.7" stroke="#7a7a7a" stroke-width="0.6" />
<text x="470.76" y="1011.4" font-family='"Liberation Sans", sans-serif' font-size="5.3" font-weight="normal" fill="#444" text-anchor="middle" >0.8</text>
<line x1="481.94" y1="1003.8" x2="481.94" y2="1005.7" stroke="#7a7a7a" stroke-width="0.6" />
<text x="481.94" y="1011.4" font-family='"Liberation Sans", sans-serif' font-size="5.3" font-weight="normal" fill="#444" text-anchor="middle" >1</text>
<line x1="493.13" y1="1003.8" x2="493.13" y2="1005.7" stroke="#7a7a7a" stroke-width="0.6" />
<text x="493.13" y="1011.4" font-family='"Liberation Sans", sans-serif' font-size="5.3" font-weight="normal" fill="#444" text-anchor="middle" >1.2</text>
<line x1="504.32" y1="1003.8" x2="504.32" y2="1005.7" stroke="#7a7a7a" stroke-width="0.6" />
<text x="504.32" y="1011.4" font-family='"Liberation Sans", sans-serif' font-size="5.3" font-weight="normal" fill="#444" text-anchor="middle" >1.4</text>
<line x1="515.51" y1="1003.8" x2="515.51" y2="1005.7" stroke="#7a7a7a" stroke-width="0.6" />
<text x="515.51" y="1011.4" font-family='"Liberation Sans", sans-serif' font-size="5.3" font-weight="normal" fill="#444" text-anchor="middle" >1.6</text>
<line x1="526.7" y1="1003.8" x2="526.7" y2="1005.7" stroke="#7a7a7a" stroke-width="0.6" />
<text x="526.7" y="1011.4" font-family='"Liberation Sans", sans-serif' font-size="5.3" font-weight="normal" fill="#444" text-anchor="middle" >1.8</text>
<line x1="431.59" y1="1003.8" x2="431.59" y2="1005" stroke="#7a7a7a" stroke-width="0.5" />
<line x1="442.78" y1="1003.8" x2="442.78" y2="1005" stroke="#7a7a7a" stroke-width="0.5" />
<line x1="453.97" y1="1003.8" x2="453.97" y2="1005" stroke="#7a7a7a" stroke-width="0.5" />
<line x1="465.16" y1="1003.8" x2="465.16" y2="1005" stroke="#7a7a7a" stroke-width="0.5" />
<line x1="476.35" y1="1003.8" x2="476.35" y2="1005" stroke="#7a7a7a" stroke-width="0.5" />
<line x1="487.54" y1="1003.8" x2="487.54" y2="1005" stroke="#7a7a7a" stroke-width="0.5" />
<line x1="498.73" y1="1003.8" x2="498.73" y2="1005" stroke="#7a7a7a" stroke-width="0.5" />
<line x1="509.92" y1="1003.8" x2="509.92" y2="1005" stroke="#7a7a7a" stroke-width="0.5" />
<line x1="521.11" y1="1003.8" x2="521.11" y2="1005" stroke="#7a7a7a" stroke-width="0.5" />
<line x1="532.29" y1="1003.8" x2="532.29" y2="1005" stroke="#7a7a7a" stroke-width="0.5" />
<text x="479.7" y="1020.6" font-family='"Liberation Sans", sans-serif' font-size="7.9" font-weight="normal" fill="#333" text-anchor="middle" >Molar Ratio</text>
<text transform="translate(411.25,970.55) rotate(-90)" x="0" y="0" font-family='"Liberation Sans", sans-serif' font-size="7.9" fill="#333" text-anchor="middle">ΔH (kcal/mol)</text>
<path d="M426.56 1000.44 L432.15 1000.43 L437.58 1000.39 L443.06 1000.23 L448.6 999.51 L454.2 996.53 L459.85 986.08 L465.55 964.53 L471.31 946.74 L477.13 940.24 L483.01 938.64 L488.94 938.29 L494.92 938.22 L500.97 938.2 L507.06 938.2 L513.22 938.2 L519.43 938.2 L525.69 938.2 L532.01 938.2" stroke="#5e9fb5" stroke-width="0.85" fill="none" stroke-linejoin="round"/>
<rect x="431.3" y="999.59" width="1.7" height="1.7" fill="#2f5680" stroke="none" stroke-width="1" />
<rect x="436.73" y="999.59" width="1.7" height="1.7" fill="#2f5680" stroke="none" stroke-width="1" />
<rect x="442.21" y="998.39" width="1.7" height="1.7" fill="#2f5680" stroke="none" stroke-width="1" />
<rect x="447.75" y="997.2" width="1.7" height="1.7" fill="#2f5680" stroke="none" stroke-width="1" />
<rect x="453.35" y="994.8" width="1.7" height="1.7" fill="#2f5680" stroke="none" stroke-width="1" />
<rect x="459" y="985.23" width="1.7" height="1.7" fill="#2f5680" stroke="none" stroke-width="1" />
<rect x="464.7" y="963.68" width="1.7" height="1.7" fill="#2f5680" stroke="none" stroke-width="1" />
<rect x="470.46" y="946.13" width="1.7" height="1.7" fill="#2f5680" stroke="none" stroke-width="1" />
<rect x="476.28" y="939.34" width="1.7" height="1.7" fill="#2f5680" stroke="none" stroke-width="1" />
<rect x="482.16" y="937.35" width="1.7" height="1.7" fill="#2f5680" stroke="none" stroke-width="1" />
<rect x="488.09" y="937.35" width="1.7" height="1.7" fill="#2f5680" stroke="none" stroke-width="1" />
<rect x="494.07" y="936.55" width="1.7" height="1.7" fill="#2f5680" stroke="none" stroke-width="1" />
<rect x="500.12" y="938.94" width="1.7" height="1.7" fill="#2f5680" stroke="none" stroke-width="1" />
<rect x="506.21" y="938.15" width="1.7" height="1.7" fill="#2f5680" stroke="none" stroke-width="1" />
<rect x="512.37" y="937.75" width="1.7" height="1.7" fill="#2f5680" stroke="none" stroke-width="1" />
<rect x="518.58" y="936.55" width="1.7" height="1.7" fill="#2f5680" stroke="none" stroke-width="1" />
<rect x="524.84" y="936.15" width="1.7" height="1.7" fill="#2f5680" stroke="none" stroke-width="1" />
<rect x="531.16" y="937.75" width="1.7" height="1.7" fill="#2f5680" stroke="none" stroke-width="1" />
<text x="506.5" y="998.1" font-family='"Liberation Serif", serif' font-size="10.1" font-weight="bold" fill="#111" text-anchor="middle" >Kd: 0.241 µM</text>
<circle cx="586.4" cy="811.8" r="17.9" fill="#d0e8ec" stroke="#b4ccd2" stroke-width="0.6"/>
<text x="586.4" y="817.6" font-family='"Liberation Serif", serif' font-size="15.9" font-weight="bold" fill="#111" text-anchor="middle" >R12</text>
<line x1="606.7" y1="812" x2="620.1" y2="812" stroke="#111" stroke-width="1.6" />
<line x1="613.4" y1="805.3" x2="613.4" y2="818.7" stroke="#111" stroke-width="1.6" />
<rect x="621.2" y="798" width="52.9" height="28.8" fill="#dca236" stroke="none" stroke-width="1" />
<text x="647.65" y="817.66" font-family='"Liberation Serif", serif' font-size="14.6" font-weight="bold" fill="#111" text-anchor="middle" >ADP</text>
<text x="648.5" y="794.6" font-family='"Liberation Serif", serif' font-size="12.4" font-weight="bold" fill="#111" text-anchor="middle" >5 mM</text>
<line x1="573.7" y1="837" x2="573.7" y2="906.8" stroke="#c4c4c4" stroke-width="1" />
<line x1="573.7" y1="906.8" x2="681.2" y2="906.8" stroke="#c4c4c4" stroke-width="1" />
<line x1="571.8" y1="841.5" x2="573.7" y2="841.5" stroke="#7a7a7a" stroke-width="0.6" />
<text x="571.1" y="843.25" font-family='"Liberation Sans", sans-serif' font-size="5.3" font-weight="normal" fill="#444" text-anchor="end" >0</text>
<line x1="571.8" y1="852.68" x2="573.7" y2="852.68" stroke="#7a7a7a" stroke-width="0.6" />
<text x="571.1" y="854.43" font-family='"Liberation Sans", sans-serif' font-size="5.3" font-weight="normal" fill="#444" text-anchor="end" >-0.2</text>
<line x1="571.8" y1="863.86" x2="573.7" y2="863.86" stroke="#7a7a7a" stroke-width="0.6" />
<text x="571.1" y="865.61" font-family='"Liberation Sans", sans-serif' font-size="5.3" font-weight="normal" fill="#444" text-anchor="end" >-0.4</text>
<line x1="571.8" y1="875.04" x2="573.7" y2="875.04" stroke="#7a7a7a" stroke-width="0.6" />
<text x="571.1" y="876.79" font-family='"Liberation Sans", sans-serif' font-size="5.3" font-weight="normal" fill="#444" text-anchor="end" >-0.6</text>
<line x1="571.8" y1="886.22" x2="573.7" y2="886.22" stroke="#7a7a7a" stroke-width="0.6" />
<text x="571.1" y="887.97" font-family='"Liberation Sans", sans-serif' font-size="5.3" font-weight="normal" fill="#444" text-anchor="end" >-0.8</text>
<line x1="571.8" y1="897.4" x2="573.7" y2="897.4" stroke="#7a7a7a" stroke-width="0.6" />
<text x="571.1" y="899.15" font-family='"Liberation Sans", sans-serif' font-size="5.3" font-weight="normal" fill="#444" text-anchor="end" >-1</text>
<line x1="572.5" y1="847.09" x2="573.7" y2="847.09" stroke="#7a7a7a" stroke-width="0.5" />
<line x1="572.5" y1="858.27" x2="573.7" y2="858.27" stroke="#7a7a7a" stroke-width="0.5" />
<line x1="572.5" y1="869.45" x2="573.7" y2="869.45" stroke="#7a7a7a" stroke-width="0.5" />
<line x1="572.5" y1="880.63" x2="573.7" y2="880.63" stroke="#7a7a7a" stroke-width="0.5" />
<line x1="572.5" y1="891.81" x2="573.7" y2="891.81" stroke="#7a7a7a" stroke-width="0.5" />
<line x1="572.5" y1="902.99" x2="573.7" y2="902.99" stroke="#7a7a7a" stroke-width="0.5" />
<line x1="573.7" y1="906.8" x2="573.7" y2="908.7" stroke="#7a7a7a" stroke-width="0.6" />
<text x="573.7" y="914.4" font-family='"Liberation Sans", sans-serif' font-size="5.3" font-weight="normal" fill="#444" text-anchor="middle" >0</text>
<line x1="584.18" y1="906.8" x2="584.18" y2="908.7" stroke="#7a7a7a" stroke-width="0.6" />
<text x="584.18" y="914.4" font-family='"Liberation Sans", sans-serif' font-size="5.3" font-weight="normal" fill="#444" text-anchor="middle" >5</text>
<line x1="594.66" y1="906.8" x2="594.66" y2="908.7" stroke="#7a7a7a" stroke-width="0.6" />
<text x="594.66" y="914.4" font-family='"Liberation Sans", sans-serif' font-size="5.3" font-weight="normal" fill="#444" text-anchor="middle" >10</text>
<line x1="605.14" y1="906.8" x2="605.14" y2="908.7" stroke="#7a7a7a" stroke-width="0.6" />
<text x="605.14" y="914.4" font-family='"Liberation Sans", sans-serif' font-size="5.3" font-weight="normal" fill="#444" text-anchor="middle" >15</text>
<line x1="615.62" y1="906.8" x2="615.62" y2="908.7" stroke="#7a7a7a" stroke-width="0.6" />
<text x="615.62" y="914.4" font-family='"Liberation Sans", sans-serif' font-size="5.3" font-weight="normal" fill="#444" text-anchor="middle" >20</text>
<line x1="626.1" y1="906.8" x2="626.1" y2="908.7" stroke="#7a7a7a" stroke-width="0.6" />
<text x="626.1" y="914.4" font-family='"Liberation Sans", sans-serif' font-size="5.3" font-weight="normal" fill="#444" text-anchor="middle" >25</text>
<line x1="636.58" y1="906.8" x2="636.58" y2="908.7" stroke="#7a7a7a" stroke-width="0.6" />
<text x="636.58" y="914.4" font-family='"Liberation Sans", sans-serif' font-size="5.3" font-weight="normal" fill="#444" text-anchor="middle" >30</text>
<line x1="647.06" y1="906.8" x2="647.06" y2="908.7" stroke="#7a7a7a" stroke-width="0.6" />
<text x="647.06" y="914.4" font-family='"Liberation Sans", sans-serif' font-size="5.3" font-weight="normal" fill="#444" text-anchor="middle" >35</text>
<line x1="657.54" y1="906.8" x2="657.54" y2="908.7" stroke="#7a7a7a" stroke-width="0.6" />
<text x="657.54" y="914.4" font-family='"Liberation Sans", sans-serif' font-size="5.3" font-weight="normal" fill="#444" text-anchor="middle" >40</text>
<line x1="668.02" y1="906.8" x2="668.02" y2="908.7" stroke="#7a7a7a" stroke-width="0.6" />
<text x="668.02" y="914.4" font-family='"Liberation Sans", sans-serif' font-size="5.3" font-weight="normal" fill="#444" text-anchor="middle" >45</text>
<line x1="678.5" y1="906.8" x2="678.5" y2="908.7" stroke="#7a7a7a" stroke-width="0.6" />
<text x="678.5" y="914.4" font-family='"Liberation Sans", sans-serif' font-size="5.3" font-weight="normal" fill="#444" text-anchor="middle" >50</text>
<line x1="578.94" y1="906.8" x2="578.94" y2="908" stroke="#7a7a7a" stroke-width="0.5" />
<line x1="589.42" y1="906.8" x2="589.42" y2="908" stroke="#7a7a7a" stroke-width="0.5" />
<line x1="599.9" y1="906.8" x2="599.9" y2="908" stroke="#7a7a7a" stroke-width="0.5" />
<line x1="610.38" y1="906.8" x2="610.38" y2="908" stroke="#7a7a7a" stroke-width="0.5" />
<line x1="620.86" y1="906.8" x2="620.86" y2="908" stroke="#7a7a7a" stroke-width="0.5" />
<line x1="631.34" y1="906.8" x2="631.34" y2="908" stroke="#7a7a7a" stroke-width="0.5" />
<line x1="641.82" y1="906.8" x2="641.82" y2="908" stroke="#7a7a7a" stroke-width="0.5" />
<line x1="652.3" y1="906.8" x2="652.3" y2="908" stroke="#7a7a7a" stroke-width="0.5" />
<line x1="662.78" y1="906.8" x2="662.78" y2="908" stroke="#7a7a7a" stroke-width="0.5" />
<line x1="673.26" y1="906.8" x2="673.26" y2="908" stroke="#7a7a7a" stroke-width="0.5" />
<text x="622.7" y="924" font-family='"Liberation Sans", sans-serif' font-size="7.9" font-weight="normal" fill="#333" text-anchor="middle" >Time (min)</text>
<text transform="translate(555.55,873.9) rotate(-90)" x="0" y="0" font-family='"Liberation Sans", sans-serif' font-size="7.9" fill="#333" text-anchor="middle">DP (µcal/s)</text>
<path d="M574.33 841.5 L575.8 841.5 L576.95 841.63 L578.1 841.59 L579.25 841.49 L580.41 841.3 L581.77 841.5 L582.15 841.72 L583.3 841.51 L584.45 841.5 L585.61 841.32 L586.97 841.5 L587.34 841.41 L588.5 841.56 L589.65 841.2 L590.8 841.71 L592.17 841.5 L592.54 841.31 L593.7 841.18 L594.85 841.85 L596 841.67 L597.36 841.5 L597.74 841.58 L598.89 841.17 L600.05 841.38 L601.2 841.5 L602.56 841.5 L602.94 841.82 L604.09 841.41 L605.24 841.26 L606.4 841.72 L607.76 841.5 L608.14 841.8 L609.29 841.47 L610.44 841.54 L611.6 841.39 L612.96 841.5 L613.34 841.28 L614.49 841.18 L615.64 841.76 L616.79 841.31 L618.16 841.5 L618.53 841.3 L619.69 841.83 L620.84 841.78 L621.99 841.68 L623.35 841.5 L623.73 841.56 L624.88 841.66 L626.04 841.24 L627.19 841.48 L628.55 841.5 L628.93 841.29 L630.08 841.8 L631.24 841.77 L632.39 841.44 L633.75 841.5 L634.13 841.47 L635.28 841.42 L636.43 841.85 L637.59 841.42 L638.95 841.5 L639.33 841.22 L640.48 841.65 L641.63 841.84 L642.78 841.5 L644.15 841.5 L644.52 841.54 L645.68 841.67 L646.83 841.31 L647.98 841.58 L649.34 841.5 L649.72 841.59 L650.87 841.28 L652.03 841.27 L653.18 841.39 L654.54 841.5 L654.92 841.39 L656.07 841.57 L657.23 841.36 L658.38 841.22 L659.74 841.5 L660.12 841.72 L661.27 841.69 L662.42 841.41 L663.58 841.63 L664.94 841.5 L665.32 841.78 L666.47 841.82 L667.62 841.43 L668.77 841.84 L670.14 841.5 L674.94 841.5" stroke="#5b7393" stroke-width="0.45" fill="none" stroke-linejoin="round"/>
<path d="M575.8 841.5 L575.85 856.59 L577.05 842.1 Z" stroke="none" stroke-width="1" fill="#c5d0dd" />
<line x1="575.9" y1="841.5" x2="575.9" y2="856.59" stroke="#546d8e" stroke-width="0.85" />
<path d="M581.77 841.5 L581.82 905.78 L583.02 844.07 Z" stroke="none" stroke-width="1" fill="#c5d0dd" />
<line x1="581.87" y1="841.5" x2="581.87" y2="905.78" stroke="#546d8e" stroke-width="0.85" />
<path d="M586.97 841.5 L587.02 904.11 L588.22 844 Z" stroke="none" stroke-width="1" fill="#c5d0dd" />
<line x1="587.07" y1="841.5" x2="587.07" y2="904.11" stroke="#546d8e" stroke-width="0.85" />
<path d="M592.17 841.5 L592.22 902.99 L593.42 843.96 Z" stroke="none" stroke-width="1" fill="#c5d0dd" />
<line x1="592.27" y1="841.5" x2="592.27" y2="902.99" stroke="#546d8e" stroke-width="0.85" />
<path d="M597.36 841.5 L597.41 891.81 L598.61 843.51 Z" stroke="none" stroke-width="1" fill="#c5d0dd" />
<line x1="597.46" y1="841.5" x2="597.46" y2="891.81" stroke="#546d8e" stroke-width="0.85" />
<path d="M602.56 841.5 L602.61 869.45 L603.81 842.62 Z" stroke="none" stroke-width="1" fill="#c5d0dd" />
<line x1="602.66" y1="841.5" x2="602.66" y2="869.45" stroke="#546d8e" stroke-width="0.85" />
<path d="M607.76 841.5 L607.81 847.09 L609.01 841.72 Z" stroke="none" stroke-width="1" fill="#c5d0dd" />
<line x1="607.86" y1="841.5" x2="607.86" y2="847.09" stroke="#546d8e" stroke-width="0.85" />
<path d="M612.96 841.5 L613.01 844.29 L614.21 841.61 Z" stroke="none" stroke-width="1" fill="#c5d0dd" />
<line x1="613.06" y1="841.5" x2="613.06" y2="844.29" stroke="#546d8e" stroke-width="0.85" />
<line x1="618.26" y1="841.5" x2="618.26" y2="843.18" stroke="#546d8e" stroke-width="0.85" />
<line x1="623.45" y1="841.5" x2="623.45" y2="843.18" stroke="#546d8e" stroke-width="0.85" />
<path d="M628.55 841.5 L628.6 843.74 L629.8 841.59 Z" stroke="none" stroke-width="1" fill="#c5d0dd" />
<line x1="628.65" y1="841.5" x2="628.65" y2="843.74" stroke="#546d8e" stroke-width="0.85" />
<line x1="633.85" y1="841.5" x2="633.85" y2="843.18" stroke="#546d8e" stroke-width="0.85" />
<path d="M638.95 841.5 L639 847.09 L640.2 841.72 Z" stroke="none" stroke-width="1" fill="#c5d0dd" />
<line x1="639.05" y1="841.5" x2="639.05" y2="847.09" stroke="#546d8e" stroke-width="0.85" />
<path d="M644.15 841.5 L644.2 844.85 L645.4 841.63 Z" stroke="none" stroke-width="1" fill="#c5d0dd" />
<line x1="644.25" y1="841.5" x2="644.25" y2="844.85" stroke="#546d8e" stroke-width="0.85" />
<path d="M649.34 841.5 L649.39 845.97 L650.59 841.68 Z" stroke="none" stroke-width="1" fill="#c5d0dd" />
<line x1="649.44" y1="841.5" x2="649.44" y2="845.97" stroke="#546d8e" stroke-width="0.85" />
<path d="M654.54 841.5 L654.59 847.09 L655.79 841.72 Z" stroke="none" stroke-width="1" fill="#c5d0dd" />
<line x1="654.64" y1="841.5" x2="654.64" y2="847.09" stroke="#546d8e" stroke-width="0.85" />
<path d="M659.74 841.5 L659.79 844.85 L660.99 841.63 Z" stroke="none" stroke-width="1" fill="#c5d0dd" />
<line x1="659.84" y1="841.5" x2="659.84" y2="844.85" stroke="#546d8e" stroke-width="0.85" />
<path d="M664.94 841.5 L664.99 844.29 L666.19 841.61 Z" stroke="none" stroke-width="1" fill="#c5d0dd" />
<line x1="665.04" y1="841.5" x2="665.04" y2="844.29" stroke="#546d8e" stroke-width="0.85" />
<line x1="670.24" y1="841.5" x2="670.24" y2="843.18" stroke="#546d8e" stroke-width="0.85" />
<line x1="575.69" y1="841.5" x2="575.69" y2="840.44" stroke="#5b7393" stroke-width="0.45" />
<line x1="581.66" y1="841.5" x2="581.66" y2="839.43" stroke="#5b7393" stroke-width="0.45" />
<line x1="586.86" y1="841.5" x2="586.86" y2="840.69" stroke="#5b7393" stroke-width="0.45" />
<line x1="592.06" y1="841.5" x2="592.06" y2="840.33" stroke="#5b7393" stroke-width="0.45" />
<line x1="597.26" y1="841.5" x2="597.26" y2="839.3" stroke="#5b7393" stroke-width="0.45" />
<line x1="602.46" y1="841.5" x2="602.46" y2="840.51" stroke="#5b7393" stroke-width="0.45" />
<line x1="607.66" y1="841.5" x2="607.66" y2="840.5" stroke="#5b7393" stroke-width="0.45" />
<line x1="612.85" y1="841.5" x2="612.85" y2="839.92" stroke="#5b7393" stroke-width="0.45" />
<line x1="618.05" y1="841.5" x2="618.05" y2="839.45" stroke="#5b7393" stroke-width="0.45" />
<line x1="623.25" y1="841.5" x2="623.25" y2="839.48" stroke="#5b7393" stroke-width="0.45" />
<line x1="628.45" y1="841.5" x2="628.45" y2="839.38" stroke="#5b7393" stroke-width="0.45" />
<line x1="633.65" y1="841.5" x2="633.65" y2="840.12" stroke="#5b7393" stroke-width="0.45" />
<line x1="638.84" y1="841.5" x2="638.84" y2="840.66" stroke="#5b7393" stroke-width="0.45" />
<line x1="644.04" y1="841.5" x2="644.04" y2="839.91" stroke="#5b7393" stroke-width="0.45" />
<line x1="649.24" y1="841.5" x2="649.24" y2="839.81" stroke="#5b7393" stroke-width="0.45" />
<line x1="654.44" y1="841.5" x2="654.44" y2="839.22" stroke="#5b7393" stroke-width="0.45" />
<line x1="659.64" y1="841.5" x2="659.64" y2="840.59" stroke="#5b7393" stroke-width="0.45" />
<line x1="664.83" y1="841.5" x2="664.83" y2="839.62" stroke="#5b7393" stroke-width="0.45" />
<line x1="670.03" y1="841.5" x2="670.03" y2="839.16" stroke="#5b7393" stroke-width="0.45" />
<line x1="572.2" y1="934.7" x2="572.2" y2="1004.2" stroke="#c4c4c4" stroke-width="1" />
<line x1="572.2" y1="1004.2" x2="680.9" y2="1004.2" stroke="#c4c4c4" stroke-width="1" />
<line x1="570.3" y1="938.8" x2="572.2" y2="938.8" stroke="#7a7a7a" stroke-width="0.6" />
<text x="569.6" y="940.55" font-family='"Liberation Sans", sans-serif' font-size="5.3" font-weight="normal" fill="#444" text-anchor="end" >0</text>
<line x1="570.3" y1="953.4" x2="572.2" y2="953.4" stroke="#7a7a7a" stroke-width="0.6" />
<text x="569.6" y="955.15" font-family='"Liberation Sans", sans-serif' font-size="5.3" font-weight="normal" fill="#444" text-anchor="end" >-2</text>
<line x1="570.3" y1="968" x2="572.2" y2="968" stroke="#7a7a7a" stroke-width="0.6" />
<text x="569.6" y="969.75" font-family='"Liberation Sans", sans-serif' font-size="5.3" font-weight="normal" fill="#444" text-anchor="end" >-4</text>
<line x1="570.3" y1="982.6" x2="572.2" y2="982.6" stroke="#7a7a7a" stroke-width="0.6" />
<text x="569.6" y="984.35" font-family='"Liberation Sans", sans-serif' font-size="5.3" font-weight="normal" fill="#444" text-anchor="end" >-6</text>
<line x1="570.3" y1="997.2" x2="572.2" y2="997.2" stroke="#7a7a7a" stroke-width="0.6" />
<text x="569.6" y="998.95" font-family='"Liberation Sans", sans-serif' font-size="5.3" font-weight="normal" fill="#444" text-anchor="end" >-8</text>
<line x1="571" y1="946.1" x2="572.2" y2="946.1" stroke="#7a7a7a" stroke-width="0.5" />
<line x1="571" y1="960.7" x2="572.2" y2="960.7" stroke="#7a7a7a" stroke-width="0.5" />
<line x1="571" y1="975.3" x2="572.2" y2="975.3" stroke="#7a7a7a" stroke-width="0.5" />
<line x1="571" y1="989.9" x2="572.2" y2="989.9" stroke="#7a7a7a" stroke-width="0.5" />
<line x1="572.6" y1="1004.2" x2="572.6" y2="1006.1" stroke="#7a7a7a" stroke-width="0.6" />
<text x="572.6" y="1011.8" font-family='"Liberation Sans", sans-serif' font-size="5.3" font-weight="normal" fill="#444" text-anchor="middle" >0</text>
<line x1="583.5" y1="1004.2" x2="583.5" y2="1006.1" stroke="#7a7a7a" stroke-width="0.6" />
<text x="583.5" y="1011.8" font-family='"Liberation Sans", sans-serif' font-size="5.3" font-weight="normal" fill="#444" text-anchor="middle" >0.2</text>
<line x1="594.4" y1="1004.2" x2="594.4" y2="1006.1" stroke="#7a7a7a" stroke-width="0.6" />
<text x="594.4" y="1011.8" font-family='"Liberation Sans", sans-serif' font-size="5.3" font-weight="normal" fill="#444" text-anchor="middle" >0.4</text>
<line x1="605.3" y1="1004.2" x2="605.3" y2="1006.1" stroke="#7a7a7a" stroke-width="0.6" />
<text x="605.3" y="1011.8" font-family='"Liberation Sans", sans-serif' font-size="5.3" font-weight="normal" fill="#444" text-anchor="middle" >0.6</text>
<line x1="616.2" y1="1004.2" x2="616.2" y2="1006.1" stroke="#7a7a7a" stroke-width="0.6" />
<text x="616.2" y="1011.8" font-family='"Liberation Sans", sans-serif' font-size="5.3" font-weight="normal" fill="#444" text-anchor="middle" >0.8</text>
<line x1="627.1" y1="1004.2" x2="627.1" y2="1006.1" stroke="#7a7a7a" stroke-width="0.6" />
<text x="627.1" y="1011.8" font-family='"Liberation Sans", sans-serif' font-size="5.3" font-weight="normal" fill="#444" text-anchor="middle" >1</text>
<line x1="638" y1="1004.2" x2="638" y2="1006.1" stroke="#7a7a7a" stroke-width="0.6" />
<text x="638" y="1011.8" font-family='"Liberation Sans", sans-serif' font-size="5.3" font-weight="normal" fill="#444" text-anchor="middle" >1.2</text>
<line x1="648.9" y1="1004.2" x2="648.9" y2="1006.1" stroke="#7a7a7a" stroke-width="0.6" />
<text x="648.9" y="1011.8" font-family='"Liberation Sans", sans-serif' font-size="5.3" font-weight="normal" fill="#444" text-anchor="middle" >1.4</text>
<line x1="659.8" y1="1004.2" x2="659.8" y2="1006.1" stroke="#7a7a7a" stroke-width="0.6" />
<text x="659.8" y="1011.8" font-family='"Liberation Sans", sans-serif' font-size="5.3" font-weight="normal" fill="#444" text-anchor="middle" >1.6</text>
<line x1="670.7" y1="1004.2" x2="670.7" y2="1006.1" stroke="#7a7a7a" stroke-width="0.6" />
<text x="670.7" y="1011.8" font-family='"Liberation Sans", sans-serif' font-size="5.3" font-weight="normal" fill="#444" text-anchor="middle" >1.8</text>
<line x1="578.05" y1="1004.2" x2="578.05" y2="1005.4" stroke="#7a7a7a" stroke-width="0.5" />
<line x1="588.95" y1="1004.2" x2="588.95" y2="1005.4" stroke="#7a7a7a" stroke-width="0.5" />
<line x1="599.85" y1="1004.2" x2="599.85" y2="1005.4" stroke="#7a7a7a" stroke-width="0.5" />
<line x1="610.75" y1="1004.2" x2="610.75" y2="1005.4" stroke="#7a7a7a" stroke-width="0.5" />
<line x1="621.65" y1="1004.2" x2="621.65" y2="1005.4" stroke="#7a7a7a" stroke-width="0.5" />
<line x1="632.55" y1="1004.2" x2="632.55" y2="1005.4" stroke="#7a7a7a" stroke-width="0.5" />
<line x1="643.45" y1="1004.2" x2="643.45" y2="1005.4" stroke="#7a7a7a" stroke-width="0.5" />
<line x1="654.35" y1="1004.2" x2="654.35" y2="1005.4" stroke="#7a7a7a" stroke-width="0.5" />
<line x1="665.25" y1="1004.2" x2="665.25" y2="1005.4" stroke="#7a7a7a" stroke-width="0.5" />
<line x1="676.15" y1="1004.2" x2="676.15" y2="1005.4" stroke="#7a7a7a" stroke-width="0.5" />
<text x="623.7" y="1021" font-family='"Liberation Sans", sans-serif' font-size="7.9" font-weight="normal" fill="#333" text-anchor="middle" >Molar Ratio</text>
<text transform="translate(555.35,971.45) rotate(-90)" x="0" y="0" font-family='"Liberation Sans", sans-serif' font-size="7.9" fill="#333" text-anchor="middle">ΔH (kcal/mol)</text>
<path d="M573.14 1000.12 L578.6 1000.12 L583.88 1000.11 L589.22 1000.02 L594.62 998.54 L600.07 981.87 L605.57 946.46 L611.13 939.31 L616.75 938.83 L622.41 938.8 L628.14 938.8 L633.91 938.8 L639.74 938.8 L645.63 938.8 L651.57 938.8 L657.57 938.8 L663.62 938.8 L669.72 938.8 L675.88 938.8" stroke="#6e88aa" stroke-width="0.85" fill="none" stroke-linejoin="round"/>
<rect x="577.75" y="997.81" width="1.7" height="1.7" fill="#2f5680" stroke="none" stroke-width="1" />
<rect x="583.03" y="998.9" width="1.7" height="1.7" fill="#2f5680" stroke="none" stroke-width="1" />
<rect x="588.37" y="1000" width="1.7" height="1.7" fill="#2f5680" stroke="none" stroke-width="1" />
<rect x="593.77" y="997.44" width="1.7" height="1.7" fill="#2f5680" stroke="none" stroke-width="1" />
<rect x="599.22" y="981.02" width="1.7" height="1.7" fill="#2f5680" stroke="none" stroke-width="1" />
<rect x="604.72" y="945.61" width="1.7" height="1.7" fill="#2f5680" stroke="none" stroke-width="1" />
<rect x="610.28" y="938.31" width="1.7" height="1.7" fill="#2f5680" stroke="none" stroke-width="1" />
<rect x="615.89" y="937.58" width="1.7" height="1.7" fill="#2f5680" stroke="none" stroke-width="1" />
<rect x="621.56" y="937.58" width="1.7" height="1.7" fill="#2f5680" stroke="none" stroke-width="1" />
<rect x="627.29" y="937.58" width="1.7" height="1.7" fill="#2f5680" stroke="none" stroke-width="1" />
<rect x="633.06" y="937.95" width="1.7" height="1.7" fill="#2f5680" stroke="none" stroke-width="1" />
<rect x="638.89" y="938.68" width="1.7" height="1.7" fill="#2f5680" stroke="none" stroke-width="1" />
<rect x="644.78" y="936.85" width="1.7" height="1.7" fill="#2f5680" stroke="none" stroke-width="1" />
<rect x="650.72" y="937.95" width="1.7" height="1.7" fill="#2f5680" stroke="none" stroke-width="1" />
<rect x="656.72" y="939.77" width="1.7" height="1.7" fill="#2f5680" stroke="none" stroke-width="1" />
<rect x="662.76" y="937.95" width="1.7" height="1.7" fill="#2f5680" stroke="none" stroke-width="1" />
<rect x="668.87" y="938.31" width="1.7" height="1.7" fill="#2f5680" stroke="none" stroke-width="1" />
<rect x="675.03" y="936.85" width="1.7" height="1.7" fill="#2f5680" stroke="none" stroke-width="1" />
<text x="648.9" y="997.7" font-family='"Liberation Serif", serif' font-size="10.1" font-weight="bold" fill="#111" text-anchor="middle" >Kd: 0.060 µM</text>
</svg></body></html>
